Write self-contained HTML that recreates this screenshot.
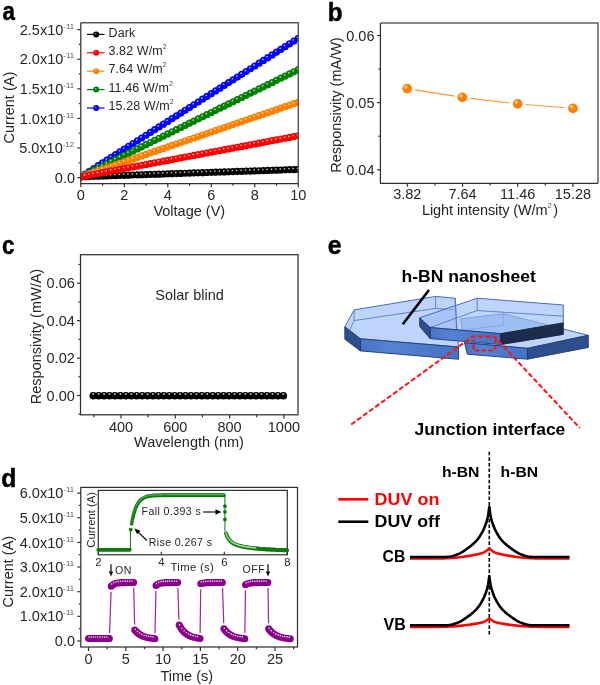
<!DOCTYPE html><html><head><meta charset="utf-8"><title>figure</title><style>html,body{margin:0;padding:0;background:#fff;overflow:hidden}svg{display:block;will-change:transform}text{font-family:"Liberation Sans",sans-serif}</style></head><body>
<svg width="600" height="685" viewBox="0 0 600 685">
<rect width="600" height="685" fill="#fff"/>
<defs><clipPath id="ca"><rect x="80.8" y="22.7" width="217.5" height="160.9"/></clipPath><linearGradient id="gf" x1="0" y1="0" x2="1" y2="0"><stop offset="0" stop-color="#4673c6"/><stop offset="0.3" stop-color="#5583d4"/><stop offset="0.6" stop-color="#4d7bcc"/><stop offset="1" stop-color="#4672c4"/></linearGradient></defs>
<text x="2.5" y="20" font-size="26" font-weight="bold" fill="#000" stroke="#000" stroke-width="0.5" transform="translate(2.5,0) scale(0.86,1) translate(-2.5,0)">a</text>
<text x="327.8" y="20.6" font-size="26" font-weight="bold" fill="#000" stroke="#000" stroke-width="0.5" transform="translate(327.8,0) scale(0.93,1) translate(-327.8,0)">b</text>
<text x="2" y="253.7" font-size="26" font-weight="bold" fill="#000" stroke="#000" stroke-width="0.5" transform="translate(2,0) scale(0.86,1) translate(-2,0)">c</text>
<text x="1.2" y="487" font-size="26" font-weight="bold" fill="#000" stroke="#000" stroke-width="0.5" transform="translate(1.2,0) scale(0.95,1) translate(-1.2,0)">d</text>
<text x="327.8" y="253.7" font-size="26" font-weight="bold" fill="#000" stroke="#000" stroke-width="0.5" transform="translate(327.8,0) scale(0.95,1) translate(-327.8,0)">e</text>
<g clip-path="url(#ca)">
<path d="M77.2 176.8a3.6 3.6 0 1 0 7.2 0a3.6 3.6 0 1 0 -7.2 0M81.55 176.65a3.6 3.6 0 1 0 7.2 0a3.6 3.6 0 1 0 -7.2 0M85.9 176.5a3.6 3.6 0 1 0 7.2 0a3.6 3.6 0 1 0 -7.2 0M90.25 176.36a3.6 3.6 0 1 0 7.2 0a3.6 3.6 0 1 0 -7.2 0M94.6 176.21a3.6 3.6 0 1 0 7.2 0a3.6 3.6 0 1 0 -7.2 0M98.95 176.06a3.6 3.6 0 1 0 7.2 0a3.6 3.6 0 1 0 -7.2 0M103.3 175.91a3.6 3.6 0 1 0 7.2 0a3.6 3.6 0 1 0 -7.2 0M107.65 175.76a3.6 3.6 0 1 0 7.2 0a3.6 3.6 0 1 0 -7.2 0M112 175.62a3.6 3.6 0 1 0 7.2 0a3.6 3.6 0 1 0 -7.2 0M116.35 175.47a3.6 3.6 0 1 0 7.2 0a3.6 3.6 0 1 0 -7.2 0M120.7 175.32a3.6 3.6 0 1 0 7.2 0a3.6 3.6 0 1 0 -7.2 0M125.05 175.17a3.6 3.6 0 1 0 7.2 0a3.6 3.6 0 1 0 -7.2 0M129.4 175.02a3.6 3.6 0 1 0 7.2 0a3.6 3.6 0 1 0 -7.2 0M133.75 174.88a3.6 3.6 0 1 0 7.2 0a3.6 3.6 0 1 0 -7.2 0M138.1 174.73a3.6 3.6 0 1 0 7.2 0a3.6 3.6 0 1 0 -7.2 0M142.45 174.58a3.6 3.6 0 1 0 7.2 0a3.6 3.6 0 1 0 -7.2 0M146.8 174.43a3.6 3.6 0 1 0 7.2 0a3.6 3.6 0 1 0 -7.2 0M151.15 174.28a3.6 3.6 0 1 0 7.2 0a3.6 3.6 0 1 0 -7.2 0M155.5 174.14a3.6 3.6 0 1 0 7.2 0a3.6 3.6 0 1 0 -7.2 0M159.85 173.99a3.6 3.6 0 1 0 7.2 0a3.6 3.6 0 1 0 -7.2 0M164.2 173.84a3.6 3.6 0 1 0 7.2 0a3.6 3.6 0 1 0 -7.2 0M168.55 173.69a3.6 3.6 0 1 0 7.2 0a3.6 3.6 0 1 0 -7.2 0M172.9 173.54a3.6 3.6 0 1 0 7.2 0a3.6 3.6 0 1 0 -7.2 0M177.25 173.4a3.6 3.6 0 1 0 7.2 0a3.6 3.6 0 1 0 -7.2 0M181.6 173.25a3.6 3.6 0 1 0 7.2 0a3.6 3.6 0 1 0 -7.2 0M185.95 173.1a3.6 3.6 0 1 0 7.2 0a3.6 3.6 0 1 0 -7.2 0M190.3 172.95a3.6 3.6 0 1 0 7.2 0a3.6 3.6 0 1 0 -7.2 0M194.65 172.8a3.6 3.6 0 1 0 7.2 0a3.6 3.6 0 1 0 -7.2 0M199 172.66a3.6 3.6 0 1 0 7.2 0a3.6 3.6 0 1 0 -7.2 0M203.35 172.51a3.6 3.6 0 1 0 7.2 0a3.6 3.6 0 1 0 -7.2 0M207.7 172.36a3.6 3.6 0 1 0 7.2 0a3.6 3.6 0 1 0 -7.2 0M212.05 172.21a3.6 3.6 0 1 0 7.2 0a3.6 3.6 0 1 0 -7.2 0M216.4 172.06a3.6 3.6 0 1 0 7.2 0a3.6 3.6 0 1 0 -7.2 0M220.75 171.92a3.6 3.6 0 1 0 7.2 0a3.6 3.6 0 1 0 -7.2 0M225.1 171.77a3.6 3.6 0 1 0 7.2 0a3.6 3.6 0 1 0 -7.2 0M229.45 171.62a3.6 3.6 0 1 0 7.2 0a3.6 3.6 0 1 0 -7.2 0M233.8 171.47a3.6 3.6 0 1 0 7.2 0a3.6 3.6 0 1 0 -7.2 0M238.15 171.32a3.6 3.6 0 1 0 7.2 0a3.6 3.6 0 1 0 -7.2 0M242.5 171.18a3.6 3.6 0 1 0 7.2 0a3.6 3.6 0 1 0 -7.2 0M246.85 171.03a3.6 3.6 0 1 0 7.2 0a3.6 3.6 0 1 0 -7.2 0M251.2 170.88a3.6 3.6 0 1 0 7.2 0a3.6 3.6 0 1 0 -7.2 0M255.55 170.73a3.6 3.6 0 1 0 7.2 0a3.6 3.6 0 1 0 -7.2 0M259.9 170.58a3.6 3.6 0 1 0 7.2 0a3.6 3.6 0 1 0 -7.2 0M264.25 170.44a3.6 3.6 0 1 0 7.2 0a3.6 3.6 0 1 0 -7.2 0M268.6 170.29a3.6 3.6 0 1 0 7.2 0a3.6 3.6 0 1 0 -7.2 0M272.95 170.14a3.6 3.6 0 1 0 7.2 0a3.6 3.6 0 1 0 -7.2 0M277.3 169.99a3.6 3.6 0 1 0 7.2 0a3.6 3.6 0 1 0 -7.2 0M281.65 169.84a3.6 3.6 0 1 0 7.2 0a3.6 3.6 0 1 0 -7.2 0M286 169.7a3.6 3.6 0 1 0 7.2 0a3.6 3.6 0 1 0 -7.2 0M290.35 169.55a3.6 3.6 0 1 0 7.2 0a3.6 3.6 0 1 0 -7.2 0M294.7 169.4a3.6 3.6 0 1 0 7.2 0a3.6 3.6 0 1 0 -7.2 0" fill="#000000"/>
<path d="M79.25 175.7a0.85 0.85 0 1 0 1.7 0a0.85 0.85 0 1 0 -1.7 0M83.6 175.55a0.85 0.85 0 1 0 1.7 0a0.85 0.85 0 1 0 -1.7 0M87.95 175.4a0.85 0.85 0 1 0 1.7 0a0.85 0.85 0 1 0 -1.7 0M92.3 175.26a0.85 0.85 0 1 0 1.7 0a0.85 0.85 0 1 0 -1.7 0M96.65 175.11a0.85 0.85 0 1 0 1.7 0a0.85 0.85 0 1 0 -1.7 0M101 174.96a0.85 0.85 0 1 0 1.7 0a0.85 0.85 0 1 0 -1.7 0M105.35 174.81a0.85 0.85 0 1 0 1.7 0a0.85 0.85 0 1 0 -1.7 0M109.7 174.66a0.85 0.85 0 1 0 1.7 0a0.85 0.85 0 1 0 -1.7 0M114.05 174.52a0.85 0.85 0 1 0 1.7 0a0.85 0.85 0 1 0 -1.7 0M118.4 174.37a0.85 0.85 0 1 0 1.7 0a0.85 0.85 0 1 0 -1.7 0M122.75 174.22a0.85 0.85 0 1 0 1.7 0a0.85 0.85 0 1 0 -1.7 0M127.1 174.07a0.85 0.85 0 1 0 1.7 0a0.85 0.85 0 1 0 -1.7 0M131.45 173.92a0.85 0.85 0 1 0 1.7 0a0.85 0.85 0 1 0 -1.7 0M135.8 173.78a0.85 0.85 0 1 0 1.7 0a0.85 0.85 0 1 0 -1.7 0M140.15 173.63a0.85 0.85 0 1 0 1.7 0a0.85 0.85 0 1 0 -1.7 0M144.5 173.48a0.85 0.85 0 1 0 1.7 0a0.85 0.85 0 1 0 -1.7 0M148.85 173.33a0.85 0.85 0 1 0 1.7 0a0.85 0.85 0 1 0 -1.7 0M153.2 173.18a0.85 0.85 0 1 0 1.7 0a0.85 0.85 0 1 0 -1.7 0M157.55 173.04a0.85 0.85 0 1 0 1.7 0a0.85 0.85 0 1 0 -1.7 0M161.9 172.89a0.85 0.85 0 1 0 1.7 0a0.85 0.85 0 1 0 -1.7 0M166.25 172.74a0.85 0.85 0 1 0 1.7 0a0.85 0.85 0 1 0 -1.7 0M170.6 172.59a0.85 0.85 0 1 0 1.7 0a0.85 0.85 0 1 0 -1.7 0M174.95 172.44a0.85 0.85 0 1 0 1.7 0a0.85 0.85 0 1 0 -1.7 0M179.3 172.3a0.85 0.85 0 1 0 1.7 0a0.85 0.85 0 1 0 -1.7 0M183.65 172.15a0.85 0.85 0 1 0 1.7 0a0.85 0.85 0 1 0 -1.7 0M188 172a0.85 0.85 0 1 0 1.7 0a0.85 0.85 0 1 0 -1.7 0M192.35 171.85a0.85 0.85 0 1 0 1.7 0a0.85 0.85 0 1 0 -1.7 0M196.7 171.7a0.85 0.85 0 1 0 1.7 0a0.85 0.85 0 1 0 -1.7 0M201.05 171.56a0.85 0.85 0 1 0 1.7 0a0.85 0.85 0 1 0 -1.7 0M205.4 171.41a0.85 0.85 0 1 0 1.7 0a0.85 0.85 0 1 0 -1.7 0M209.75 171.26a0.85 0.85 0 1 0 1.7 0a0.85 0.85 0 1 0 -1.7 0M214.1 171.11a0.85 0.85 0 1 0 1.7 0a0.85 0.85 0 1 0 -1.7 0M218.45 170.96a0.85 0.85 0 1 0 1.7 0a0.85 0.85 0 1 0 -1.7 0M222.8 170.82a0.85 0.85 0 1 0 1.7 0a0.85 0.85 0 1 0 -1.7 0M227.15 170.67a0.85 0.85 0 1 0 1.7 0a0.85 0.85 0 1 0 -1.7 0M231.5 170.52a0.85 0.85 0 1 0 1.7 0a0.85 0.85 0 1 0 -1.7 0M235.85 170.37a0.85 0.85 0 1 0 1.7 0a0.85 0.85 0 1 0 -1.7 0M240.2 170.22a0.85 0.85 0 1 0 1.7 0a0.85 0.85 0 1 0 -1.7 0M244.55 170.08a0.85 0.85 0 1 0 1.7 0a0.85 0.85 0 1 0 -1.7 0M248.9 169.93a0.85 0.85 0 1 0 1.7 0a0.85 0.85 0 1 0 -1.7 0M253.25 169.78a0.85 0.85 0 1 0 1.7 0a0.85 0.85 0 1 0 -1.7 0M257.6 169.63a0.85 0.85 0 1 0 1.7 0a0.85 0.85 0 1 0 -1.7 0M261.95 169.48a0.85 0.85 0 1 0 1.7 0a0.85 0.85 0 1 0 -1.7 0M266.3 169.34a0.85 0.85 0 1 0 1.7 0a0.85 0.85 0 1 0 -1.7 0M270.65 169.19a0.85 0.85 0 1 0 1.7 0a0.85 0.85 0 1 0 -1.7 0M275 169.04a0.85 0.85 0 1 0 1.7 0a0.85 0.85 0 1 0 -1.7 0M279.35 168.89a0.85 0.85 0 1 0 1.7 0a0.85 0.85 0 1 0 -1.7 0M283.7 168.74a0.85 0.85 0 1 0 1.7 0a0.85 0.85 0 1 0 -1.7 0M288.05 168.6a0.85 0.85 0 1 0 1.7 0a0.85 0.85 0 1 0 -1.7 0M292.4 168.45a0.85 0.85 0 1 0 1.7 0a0.85 0.85 0 1 0 -1.7 0M296.75 168.3a0.85 0.85 0 1 0 1.7 0a0.85 0.85 0 1 0 -1.7 0" fill="#ffffff" opacity="0.75"/>
<path d="M77.2 176.8a3.6 3.6 0 1 0 7.2 0a3.6 3.6 0 1 0 -7.2 0M81.55 174.03a3.6 3.6 0 1 0 7.2 0a3.6 3.6 0 1 0 -7.2 0M85.9 171.26a3.6 3.6 0 1 0 7.2 0a3.6 3.6 0 1 0 -7.2 0M90.25 168.49a3.6 3.6 0 1 0 7.2 0a3.6 3.6 0 1 0 -7.2 0M94.6 165.72a3.6 3.6 0 1 0 7.2 0a3.6 3.6 0 1 0 -7.2 0M98.95 162.95a3.6 3.6 0 1 0 7.2 0a3.6 3.6 0 1 0 -7.2 0M103.3 160.18a3.6 3.6 0 1 0 7.2 0a3.6 3.6 0 1 0 -7.2 0M107.65 157.41a3.6 3.6 0 1 0 7.2 0a3.6 3.6 0 1 0 -7.2 0M112 154.64a3.6 3.6 0 1 0 7.2 0a3.6 3.6 0 1 0 -7.2 0M116.35 151.86a3.6 3.6 0 1 0 7.2 0a3.6 3.6 0 1 0 -7.2 0M120.7 149.09a3.6 3.6 0 1 0 7.2 0a3.6 3.6 0 1 0 -7.2 0M125.05 146.32a3.6 3.6 0 1 0 7.2 0a3.6 3.6 0 1 0 -7.2 0M129.4 143.55a3.6 3.6 0 1 0 7.2 0a3.6 3.6 0 1 0 -7.2 0M133.75 140.78a3.6 3.6 0 1 0 7.2 0a3.6 3.6 0 1 0 -7.2 0M138.1 138.01a3.6 3.6 0 1 0 7.2 0a3.6 3.6 0 1 0 -7.2 0M142.45 135.24a3.6 3.6 0 1 0 7.2 0a3.6 3.6 0 1 0 -7.2 0M146.8 132.47a3.6 3.6 0 1 0 7.2 0a3.6 3.6 0 1 0 -7.2 0M151.15 129.7a3.6 3.6 0 1 0 7.2 0a3.6 3.6 0 1 0 -7.2 0M155.5 126.93a3.6 3.6 0 1 0 7.2 0a3.6 3.6 0 1 0 -7.2 0M159.85 124.16a3.6 3.6 0 1 0 7.2 0a3.6 3.6 0 1 0 -7.2 0M164.2 121.39a3.6 3.6 0 1 0 7.2 0a3.6 3.6 0 1 0 -7.2 0M168.55 118.62a3.6 3.6 0 1 0 7.2 0a3.6 3.6 0 1 0 -7.2 0M172.9 115.85a3.6 3.6 0 1 0 7.2 0a3.6 3.6 0 1 0 -7.2 0M177.25 113.08a3.6 3.6 0 1 0 7.2 0a3.6 3.6 0 1 0 -7.2 0M181.6 110.31a3.6 3.6 0 1 0 7.2 0a3.6 3.6 0 1 0 -7.2 0M185.95 107.54a3.6 3.6 0 1 0 7.2 0a3.6 3.6 0 1 0 -7.2 0M190.3 104.77a3.6 3.6 0 1 0 7.2 0a3.6 3.6 0 1 0 -7.2 0M194.65 101.99a3.6 3.6 0 1 0 7.2 0a3.6 3.6 0 1 0 -7.2 0M199 99.22a3.6 3.6 0 1 0 7.2 0a3.6 3.6 0 1 0 -7.2 0M203.35 96.45a3.6 3.6 0 1 0 7.2 0a3.6 3.6 0 1 0 -7.2 0M207.7 93.68a3.6 3.6 0 1 0 7.2 0a3.6 3.6 0 1 0 -7.2 0M212.05 90.91a3.6 3.6 0 1 0 7.2 0a3.6 3.6 0 1 0 -7.2 0M216.4 88.14a3.6 3.6 0 1 0 7.2 0a3.6 3.6 0 1 0 -7.2 0M220.75 85.37a3.6 3.6 0 1 0 7.2 0a3.6 3.6 0 1 0 -7.2 0M225.1 82.6a3.6 3.6 0 1 0 7.2 0a3.6 3.6 0 1 0 -7.2 0M229.45 79.83a3.6 3.6 0 1 0 7.2 0a3.6 3.6 0 1 0 -7.2 0M233.8 77.06a3.6 3.6 0 1 0 7.2 0a3.6 3.6 0 1 0 -7.2 0M238.15 74.29a3.6 3.6 0 1 0 7.2 0a3.6 3.6 0 1 0 -7.2 0M242.5 71.52a3.6 3.6 0 1 0 7.2 0a3.6 3.6 0 1 0 -7.2 0M246.85 68.75a3.6 3.6 0 1 0 7.2 0a3.6 3.6 0 1 0 -7.2 0M251.2 65.98a3.6 3.6 0 1 0 7.2 0a3.6 3.6 0 1 0 -7.2 0M255.55 63.21a3.6 3.6 0 1 0 7.2 0a3.6 3.6 0 1 0 -7.2 0M259.9 60.44a3.6 3.6 0 1 0 7.2 0a3.6 3.6 0 1 0 -7.2 0M264.25 57.67a3.6 3.6 0 1 0 7.2 0a3.6 3.6 0 1 0 -7.2 0M268.6 54.9a3.6 3.6 0 1 0 7.2 0a3.6 3.6 0 1 0 -7.2 0M272.95 52.12a3.6 3.6 0 1 0 7.2 0a3.6 3.6 0 1 0 -7.2 0M277.3 49.35a3.6 3.6 0 1 0 7.2 0a3.6 3.6 0 1 0 -7.2 0M281.65 46.58a3.6 3.6 0 1 0 7.2 0a3.6 3.6 0 1 0 -7.2 0M286 43.81a3.6 3.6 0 1 0 7.2 0a3.6 3.6 0 1 0 -7.2 0M290.35 41.04a3.6 3.6 0 1 0 7.2 0a3.6 3.6 0 1 0 -7.2 0M294.7 38.27a3.6 3.6 0 1 0 7.2 0a3.6 3.6 0 1 0 -7.2 0" fill="#0000ff"/>
<path d="M79.25 175.7a0.85 0.85 0 1 0 1.7 0a0.85 0.85 0 1 0 -1.7 0M83.6 172.93a0.85 0.85 0 1 0 1.7 0a0.85 0.85 0 1 0 -1.7 0M87.95 170.16a0.85 0.85 0 1 0 1.7 0a0.85 0.85 0 1 0 -1.7 0M92.3 167.39a0.85 0.85 0 1 0 1.7 0a0.85 0.85 0 1 0 -1.7 0M96.65 164.62a0.85 0.85 0 1 0 1.7 0a0.85 0.85 0 1 0 -1.7 0M101 161.85a0.85 0.85 0 1 0 1.7 0a0.85 0.85 0 1 0 -1.7 0M105.35 159.08a0.85 0.85 0 1 0 1.7 0a0.85 0.85 0 1 0 -1.7 0M109.7 156.31a0.85 0.85 0 1 0 1.7 0a0.85 0.85 0 1 0 -1.7 0M114.05 153.54a0.85 0.85 0 1 0 1.7 0a0.85 0.85 0 1 0 -1.7 0M118.4 150.76a0.85 0.85 0 1 0 1.7 0a0.85 0.85 0 1 0 -1.7 0M122.75 147.99a0.85 0.85 0 1 0 1.7 0a0.85 0.85 0 1 0 -1.7 0M127.1 145.22a0.85 0.85 0 1 0 1.7 0a0.85 0.85 0 1 0 -1.7 0M131.45 142.45a0.85 0.85 0 1 0 1.7 0a0.85 0.85 0 1 0 -1.7 0M135.8 139.68a0.85 0.85 0 1 0 1.7 0a0.85 0.85 0 1 0 -1.7 0M140.15 136.91a0.85 0.85 0 1 0 1.7 0a0.85 0.85 0 1 0 -1.7 0M144.5 134.14a0.85 0.85 0 1 0 1.7 0a0.85 0.85 0 1 0 -1.7 0M148.85 131.37a0.85 0.85 0 1 0 1.7 0a0.85 0.85 0 1 0 -1.7 0M153.2 128.6a0.85 0.85 0 1 0 1.7 0a0.85 0.85 0 1 0 -1.7 0M157.55 125.83a0.85 0.85 0 1 0 1.7 0a0.85 0.85 0 1 0 -1.7 0M161.9 123.06a0.85 0.85 0 1 0 1.7 0a0.85 0.85 0 1 0 -1.7 0M166.25 120.29a0.85 0.85 0 1 0 1.7 0a0.85 0.85 0 1 0 -1.7 0M170.6 117.52a0.85 0.85 0 1 0 1.7 0a0.85 0.85 0 1 0 -1.7 0M174.95 114.75a0.85 0.85 0 1 0 1.7 0a0.85 0.85 0 1 0 -1.7 0M179.3 111.98a0.85 0.85 0 1 0 1.7 0a0.85 0.85 0 1 0 -1.7 0M183.65 109.21a0.85 0.85 0 1 0 1.7 0a0.85 0.85 0 1 0 -1.7 0M188 106.44a0.85 0.85 0 1 0 1.7 0a0.85 0.85 0 1 0 -1.7 0M192.35 103.67a0.85 0.85 0 1 0 1.7 0a0.85 0.85 0 1 0 -1.7 0M196.7 100.89a0.85 0.85 0 1 0 1.7 0a0.85 0.85 0 1 0 -1.7 0M201.05 98.12a0.85 0.85 0 1 0 1.7 0a0.85 0.85 0 1 0 -1.7 0M205.4 95.35a0.85 0.85 0 1 0 1.7 0a0.85 0.85 0 1 0 -1.7 0M209.75 92.58a0.85 0.85 0 1 0 1.7 0a0.85 0.85 0 1 0 -1.7 0M214.1 89.81a0.85 0.85 0 1 0 1.7 0a0.85 0.85 0 1 0 -1.7 0M218.45 87.04a0.85 0.85 0 1 0 1.7 0a0.85 0.85 0 1 0 -1.7 0M222.8 84.27a0.85 0.85 0 1 0 1.7 0a0.85 0.85 0 1 0 -1.7 0M227.15 81.5a0.85 0.85 0 1 0 1.7 0a0.85 0.85 0 1 0 -1.7 0M231.5 78.73a0.85 0.85 0 1 0 1.7 0a0.85 0.85 0 1 0 -1.7 0M235.85 75.96a0.85 0.85 0 1 0 1.7 0a0.85 0.85 0 1 0 -1.7 0M240.2 73.19a0.85 0.85 0 1 0 1.7 0a0.85 0.85 0 1 0 -1.7 0M244.55 70.42a0.85 0.85 0 1 0 1.7 0a0.85 0.85 0 1 0 -1.7 0M248.9 67.65a0.85 0.85 0 1 0 1.7 0a0.85 0.85 0 1 0 -1.7 0M253.25 64.88a0.85 0.85 0 1 0 1.7 0a0.85 0.85 0 1 0 -1.7 0M257.6 62.11a0.85 0.85 0 1 0 1.7 0a0.85 0.85 0 1 0 -1.7 0M261.95 59.34a0.85 0.85 0 1 0 1.7 0a0.85 0.85 0 1 0 -1.7 0M266.3 56.57a0.85 0.85 0 1 0 1.7 0a0.85 0.85 0 1 0 -1.7 0M270.65 53.8a0.85 0.85 0 1 0 1.7 0a0.85 0.85 0 1 0 -1.7 0M275 51.02a0.85 0.85 0 1 0 1.7 0a0.85 0.85 0 1 0 -1.7 0M279.35 48.25a0.85 0.85 0 1 0 1.7 0a0.85 0.85 0 1 0 -1.7 0M283.7 45.48a0.85 0.85 0 1 0 1.7 0a0.85 0.85 0 1 0 -1.7 0M288.05 42.71a0.85 0.85 0 1 0 1.7 0a0.85 0.85 0 1 0 -1.7 0M292.4 39.94a0.85 0.85 0 1 0 1.7 0a0.85 0.85 0 1 0 -1.7 0M296.75 37.17a0.85 0.85 0 1 0 1.7 0a0.85 0.85 0 1 0 -1.7 0" fill="#ffffff" opacity="0.75"/>
<path d="M77.2 176.8a3.6 3.6 0 1 0 7.2 0a3.6 3.6 0 1 0 -7.2 0M81.55 174.66a3.6 3.6 0 1 0 7.2 0a3.6 3.6 0 1 0 -7.2 0M85.9 172.51a3.6 3.6 0 1 0 7.2 0a3.6 3.6 0 1 0 -7.2 0M90.25 170.37a3.6 3.6 0 1 0 7.2 0a3.6 3.6 0 1 0 -7.2 0M94.6 168.23a3.6 3.6 0 1 0 7.2 0a3.6 3.6 0 1 0 -7.2 0M98.95 166.08a3.6 3.6 0 1 0 7.2 0a3.6 3.6 0 1 0 -7.2 0M103.3 163.94a3.6 3.6 0 1 0 7.2 0a3.6 3.6 0 1 0 -7.2 0M107.65 161.8a3.6 3.6 0 1 0 7.2 0a3.6 3.6 0 1 0 -7.2 0M112 159.66a3.6 3.6 0 1 0 7.2 0a3.6 3.6 0 1 0 -7.2 0M116.35 157.51a3.6 3.6 0 1 0 7.2 0a3.6 3.6 0 1 0 -7.2 0M120.7 155.37a3.6 3.6 0 1 0 7.2 0a3.6 3.6 0 1 0 -7.2 0M125.05 153.23a3.6 3.6 0 1 0 7.2 0a3.6 3.6 0 1 0 -7.2 0M129.4 151.08a3.6 3.6 0 1 0 7.2 0a3.6 3.6 0 1 0 -7.2 0M133.75 148.94a3.6 3.6 0 1 0 7.2 0a3.6 3.6 0 1 0 -7.2 0M138.1 146.8a3.6 3.6 0 1 0 7.2 0a3.6 3.6 0 1 0 -7.2 0M142.45 144.65a3.6 3.6 0 1 0 7.2 0a3.6 3.6 0 1 0 -7.2 0M146.8 142.51a3.6 3.6 0 1 0 7.2 0a3.6 3.6 0 1 0 -7.2 0M151.15 140.37a3.6 3.6 0 1 0 7.2 0a3.6 3.6 0 1 0 -7.2 0M155.5 138.23a3.6 3.6 0 1 0 7.2 0a3.6 3.6 0 1 0 -7.2 0M159.85 136.08a3.6 3.6 0 1 0 7.2 0a3.6 3.6 0 1 0 -7.2 0M164.2 133.94a3.6 3.6 0 1 0 7.2 0a3.6 3.6 0 1 0 -7.2 0M168.55 131.8a3.6 3.6 0 1 0 7.2 0a3.6 3.6 0 1 0 -7.2 0M172.9 129.65a3.6 3.6 0 1 0 7.2 0a3.6 3.6 0 1 0 -7.2 0M177.25 127.51a3.6 3.6 0 1 0 7.2 0a3.6 3.6 0 1 0 -7.2 0M181.6 125.37a3.6 3.6 0 1 0 7.2 0a3.6 3.6 0 1 0 -7.2 0M185.95 123.22a3.6 3.6 0 1 0 7.2 0a3.6 3.6 0 1 0 -7.2 0M190.3 121.08a3.6 3.6 0 1 0 7.2 0a3.6 3.6 0 1 0 -7.2 0M194.65 118.94a3.6 3.6 0 1 0 7.2 0a3.6 3.6 0 1 0 -7.2 0M199 116.79a3.6 3.6 0 1 0 7.2 0a3.6 3.6 0 1 0 -7.2 0M203.35 114.65a3.6 3.6 0 1 0 7.2 0a3.6 3.6 0 1 0 -7.2 0M207.7 112.51a3.6 3.6 0 1 0 7.2 0a3.6 3.6 0 1 0 -7.2 0M212.05 110.37a3.6 3.6 0 1 0 7.2 0a3.6 3.6 0 1 0 -7.2 0M216.4 108.22a3.6 3.6 0 1 0 7.2 0a3.6 3.6 0 1 0 -7.2 0M220.75 106.08a3.6 3.6 0 1 0 7.2 0a3.6 3.6 0 1 0 -7.2 0M225.1 103.94a3.6 3.6 0 1 0 7.2 0a3.6 3.6 0 1 0 -7.2 0M229.45 101.79a3.6 3.6 0 1 0 7.2 0a3.6 3.6 0 1 0 -7.2 0M233.8 99.65a3.6 3.6 0 1 0 7.2 0a3.6 3.6 0 1 0 -7.2 0M238.15 97.51a3.6 3.6 0 1 0 7.2 0a3.6 3.6 0 1 0 -7.2 0M242.5 95.36a3.6 3.6 0 1 0 7.2 0a3.6 3.6 0 1 0 -7.2 0M246.85 93.22a3.6 3.6 0 1 0 7.2 0a3.6 3.6 0 1 0 -7.2 0M251.2 91.08a3.6 3.6 0 1 0 7.2 0a3.6 3.6 0 1 0 -7.2 0M255.55 88.94a3.6 3.6 0 1 0 7.2 0a3.6 3.6 0 1 0 -7.2 0M259.9 86.79a3.6 3.6 0 1 0 7.2 0a3.6 3.6 0 1 0 -7.2 0M264.25 84.65a3.6 3.6 0 1 0 7.2 0a3.6 3.6 0 1 0 -7.2 0M268.6 82.51a3.6 3.6 0 1 0 7.2 0a3.6 3.6 0 1 0 -7.2 0M272.95 80.36a3.6 3.6 0 1 0 7.2 0a3.6 3.6 0 1 0 -7.2 0M277.3 78.22a3.6 3.6 0 1 0 7.2 0a3.6 3.6 0 1 0 -7.2 0M281.65 76.08a3.6 3.6 0 1 0 7.2 0a3.6 3.6 0 1 0 -7.2 0M286 73.93a3.6 3.6 0 1 0 7.2 0a3.6 3.6 0 1 0 -7.2 0M290.35 71.79a3.6 3.6 0 1 0 7.2 0a3.6 3.6 0 1 0 -7.2 0M294.7 69.65a3.6 3.6 0 1 0 7.2 0a3.6 3.6 0 1 0 -7.2 0" fill="#008000"/>
<path d="M79.25 175.7a0.85 0.85 0 1 0 1.7 0a0.85 0.85 0 1 0 -1.7 0M83.6 173.56a0.85 0.85 0 1 0 1.7 0a0.85 0.85 0 1 0 -1.7 0M87.95 171.41a0.85 0.85 0 1 0 1.7 0a0.85 0.85 0 1 0 -1.7 0M92.3 169.27a0.85 0.85 0 1 0 1.7 0a0.85 0.85 0 1 0 -1.7 0M96.65 167.13a0.85 0.85 0 1 0 1.7 0a0.85 0.85 0 1 0 -1.7 0M101 164.98a0.85 0.85 0 1 0 1.7 0a0.85 0.85 0 1 0 -1.7 0M105.35 162.84a0.85 0.85 0 1 0 1.7 0a0.85 0.85 0 1 0 -1.7 0M109.7 160.7a0.85 0.85 0 1 0 1.7 0a0.85 0.85 0 1 0 -1.7 0M114.05 158.56a0.85 0.85 0 1 0 1.7 0a0.85 0.85 0 1 0 -1.7 0M118.4 156.41a0.85 0.85 0 1 0 1.7 0a0.85 0.85 0 1 0 -1.7 0M122.75 154.27a0.85 0.85 0 1 0 1.7 0a0.85 0.85 0 1 0 -1.7 0M127.1 152.13a0.85 0.85 0 1 0 1.7 0a0.85 0.85 0 1 0 -1.7 0M131.45 149.98a0.85 0.85 0 1 0 1.7 0a0.85 0.85 0 1 0 -1.7 0M135.8 147.84a0.85 0.85 0 1 0 1.7 0a0.85 0.85 0 1 0 -1.7 0M140.15 145.7a0.85 0.85 0 1 0 1.7 0a0.85 0.85 0 1 0 -1.7 0M144.5 143.55a0.85 0.85 0 1 0 1.7 0a0.85 0.85 0 1 0 -1.7 0M148.85 141.41a0.85 0.85 0 1 0 1.7 0a0.85 0.85 0 1 0 -1.7 0M153.2 139.27a0.85 0.85 0 1 0 1.7 0a0.85 0.85 0 1 0 -1.7 0M157.55 137.13a0.85 0.85 0 1 0 1.7 0a0.85 0.85 0 1 0 -1.7 0M161.9 134.98a0.85 0.85 0 1 0 1.7 0a0.85 0.85 0 1 0 -1.7 0M166.25 132.84a0.85 0.85 0 1 0 1.7 0a0.85 0.85 0 1 0 -1.7 0M170.6 130.7a0.85 0.85 0 1 0 1.7 0a0.85 0.85 0 1 0 -1.7 0M174.95 128.55a0.85 0.85 0 1 0 1.7 0a0.85 0.85 0 1 0 -1.7 0M179.3 126.41a0.85 0.85 0 1 0 1.7 0a0.85 0.85 0 1 0 -1.7 0M183.65 124.27a0.85 0.85 0 1 0 1.7 0a0.85 0.85 0 1 0 -1.7 0M188 122.12a0.85 0.85 0 1 0 1.7 0a0.85 0.85 0 1 0 -1.7 0M192.35 119.98a0.85 0.85 0 1 0 1.7 0a0.85 0.85 0 1 0 -1.7 0M196.7 117.84a0.85 0.85 0 1 0 1.7 0a0.85 0.85 0 1 0 -1.7 0M201.05 115.69a0.85 0.85 0 1 0 1.7 0a0.85 0.85 0 1 0 -1.7 0M205.4 113.55a0.85 0.85 0 1 0 1.7 0a0.85 0.85 0 1 0 -1.7 0M209.75 111.41a0.85 0.85 0 1 0 1.7 0a0.85 0.85 0 1 0 -1.7 0M214.1 109.27a0.85 0.85 0 1 0 1.7 0a0.85 0.85 0 1 0 -1.7 0M218.45 107.12a0.85 0.85 0 1 0 1.7 0a0.85 0.85 0 1 0 -1.7 0M222.8 104.98a0.85 0.85 0 1 0 1.7 0a0.85 0.85 0 1 0 -1.7 0M227.15 102.84a0.85 0.85 0 1 0 1.7 0a0.85 0.85 0 1 0 -1.7 0M231.5 100.69a0.85 0.85 0 1 0 1.7 0a0.85 0.85 0 1 0 -1.7 0M235.85 98.55a0.85 0.85 0 1 0 1.7 0a0.85 0.85 0 1 0 -1.7 0M240.2 96.41a0.85 0.85 0 1 0 1.7 0a0.85 0.85 0 1 0 -1.7 0M244.55 94.26a0.85 0.85 0 1 0 1.7 0a0.85 0.85 0 1 0 -1.7 0M248.9 92.12a0.85 0.85 0 1 0 1.7 0a0.85 0.85 0 1 0 -1.7 0M253.25 89.98a0.85 0.85 0 1 0 1.7 0a0.85 0.85 0 1 0 -1.7 0M257.6 87.84a0.85 0.85 0 1 0 1.7 0a0.85 0.85 0 1 0 -1.7 0M261.95 85.69a0.85 0.85 0 1 0 1.7 0a0.85 0.85 0 1 0 -1.7 0M266.3 83.55a0.85 0.85 0 1 0 1.7 0a0.85 0.85 0 1 0 -1.7 0M270.65 81.41a0.85 0.85 0 1 0 1.7 0a0.85 0.85 0 1 0 -1.7 0M275 79.26a0.85 0.85 0 1 0 1.7 0a0.85 0.85 0 1 0 -1.7 0M279.35 77.12a0.85 0.85 0 1 0 1.7 0a0.85 0.85 0 1 0 -1.7 0M283.7 74.98a0.85 0.85 0 1 0 1.7 0a0.85 0.85 0 1 0 -1.7 0M288.05 72.83a0.85 0.85 0 1 0 1.7 0a0.85 0.85 0 1 0 -1.7 0M292.4 70.69a0.85 0.85 0 1 0 1.7 0a0.85 0.85 0 1 0 -1.7 0M296.75 68.55a0.85 0.85 0 1 0 1.7 0a0.85 0.85 0 1 0 -1.7 0" fill="#ffffff" opacity="0.75"/>
<path d="M77.2 176.8a3.6 3.6 0 1 0 7.2 0a3.6 3.6 0 1 0 -7.2 0M81.55 175.31a3.6 3.6 0 1 0 7.2 0a3.6 3.6 0 1 0 -7.2 0M85.9 173.82a3.6 3.6 0 1 0 7.2 0a3.6 3.6 0 1 0 -7.2 0M90.25 172.32a3.6 3.6 0 1 0 7.2 0a3.6 3.6 0 1 0 -7.2 0M94.6 170.83a3.6 3.6 0 1 0 7.2 0a3.6 3.6 0 1 0 -7.2 0M98.95 169.34a3.6 3.6 0 1 0 7.2 0a3.6 3.6 0 1 0 -7.2 0M103.3 167.85a3.6 3.6 0 1 0 7.2 0a3.6 3.6 0 1 0 -7.2 0M107.65 166.36a3.6 3.6 0 1 0 7.2 0a3.6 3.6 0 1 0 -7.2 0M112 164.87a3.6 3.6 0 1 0 7.2 0a3.6 3.6 0 1 0 -7.2 0M116.35 163.37a3.6 3.6 0 1 0 7.2 0a3.6 3.6 0 1 0 -7.2 0M120.7 161.88a3.6 3.6 0 1 0 7.2 0a3.6 3.6 0 1 0 -7.2 0M125.05 160.39a3.6 3.6 0 1 0 7.2 0a3.6 3.6 0 1 0 -7.2 0M129.4 158.9a3.6 3.6 0 1 0 7.2 0a3.6 3.6 0 1 0 -7.2 0M133.75 157.41a3.6 3.6 0 1 0 7.2 0a3.6 3.6 0 1 0 -7.2 0M138.1 155.91a3.6 3.6 0 1 0 7.2 0a3.6 3.6 0 1 0 -7.2 0M142.45 154.42a3.6 3.6 0 1 0 7.2 0a3.6 3.6 0 1 0 -7.2 0M146.8 152.93a3.6 3.6 0 1 0 7.2 0a3.6 3.6 0 1 0 -7.2 0M151.15 151.44a3.6 3.6 0 1 0 7.2 0a3.6 3.6 0 1 0 -7.2 0M155.5 149.95a3.6 3.6 0 1 0 7.2 0a3.6 3.6 0 1 0 -7.2 0M159.85 148.46a3.6 3.6 0 1 0 7.2 0a3.6 3.6 0 1 0 -7.2 0M164.2 146.96a3.6 3.6 0 1 0 7.2 0a3.6 3.6 0 1 0 -7.2 0M168.55 145.47a3.6 3.6 0 1 0 7.2 0a3.6 3.6 0 1 0 -7.2 0M172.9 143.98a3.6 3.6 0 1 0 7.2 0a3.6 3.6 0 1 0 -7.2 0M177.25 142.49a3.6 3.6 0 1 0 7.2 0a3.6 3.6 0 1 0 -7.2 0M181.6 141a3.6 3.6 0 1 0 7.2 0a3.6 3.6 0 1 0 -7.2 0M185.95 139.5a3.6 3.6 0 1 0 7.2 0a3.6 3.6 0 1 0 -7.2 0M190.3 138.01a3.6 3.6 0 1 0 7.2 0a3.6 3.6 0 1 0 -7.2 0M194.65 136.52a3.6 3.6 0 1 0 7.2 0a3.6 3.6 0 1 0 -7.2 0M199 135.03a3.6 3.6 0 1 0 7.2 0a3.6 3.6 0 1 0 -7.2 0M203.35 133.54a3.6 3.6 0 1 0 7.2 0a3.6 3.6 0 1 0 -7.2 0M207.7 132.04a3.6 3.6 0 1 0 7.2 0a3.6 3.6 0 1 0 -7.2 0M212.05 130.55a3.6 3.6 0 1 0 7.2 0a3.6 3.6 0 1 0 -7.2 0M216.4 129.06a3.6 3.6 0 1 0 7.2 0a3.6 3.6 0 1 0 -7.2 0M220.75 127.57a3.6 3.6 0 1 0 7.2 0a3.6 3.6 0 1 0 -7.2 0M225.1 126.08a3.6 3.6 0 1 0 7.2 0a3.6 3.6 0 1 0 -7.2 0M229.45 124.59a3.6 3.6 0 1 0 7.2 0a3.6 3.6 0 1 0 -7.2 0M233.8 123.09a3.6 3.6 0 1 0 7.2 0a3.6 3.6 0 1 0 -7.2 0M238.15 121.6a3.6 3.6 0 1 0 7.2 0a3.6 3.6 0 1 0 -7.2 0M242.5 120.11a3.6 3.6 0 1 0 7.2 0a3.6 3.6 0 1 0 -7.2 0M246.85 118.62a3.6 3.6 0 1 0 7.2 0a3.6 3.6 0 1 0 -7.2 0M251.2 117.13a3.6 3.6 0 1 0 7.2 0a3.6 3.6 0 1 0 -7.2 0M255.55 115.63a3.6 3.6 0 1 0 7.2 0a3.6 3.6 0 1 0 -7.2 0M259.9 114.14a3.6 3.6 0 1 0 7.2 0a3.6 3.6 0 1 0 -7.2 0M264.25 112.65a3.6 3.6 0 1 0 7.2 0a3.6 3.6 0 1 0 -7.2 0M268.6 111.16a3.6 3.6 0 1 0 7.2 0a3.6 3.6 0 1 0 -7.2 0M272.95 109.67a3.6 3.6 0 1 0 7.2 0a3.6 3.6 0 1 0 -7.2 0M277.3 108.18a3.6 3.6 0 1 0 7.2 0a3.6 3.6 0 1 0 -7.2 0M281.65 106.68a3.6 3.6 0 1 0 7.2 0a3.6 3.6 0 1 0 -7.2 0M286 105.19a3.6 3.6 0 1 0 7.2 0a3.6 3.6 0 1 0 -7.2 0M290.35 103.7a3.6 3.6 0 1 0 7.2 0a3.6 3.6 0 1 0 -7.2 0M294.7 102.21a3.6 3.6 0 1 0 7.2 0a3.6 3.6 0 1 0 -7.2 0" fill="#ff8000"/>
<path d="M79.25 175.7a0.85 0.85 0 1 0 1.7 0a0.85 0.85 0 1 0 -1.7 0M83.6 174.21a0.85 0.85 0 1 0 1.7 0a0.85 0.85 0 1 0 -1.7 0M87.95 172.72a0.85 0.85 0 1 0 1.7 0a0.85 0.85 0 1 0 -1.7 0M92.3 171.22a0.85 0.85 0 1 0 1.7 0a0.85 0.85 0 1 0 -1.7 0M96.65 169.73a0.85 0.85 0 1 0 1.7 0a0.85 0.85 0 1 0 -1.7 0M101 168.24a0.85 0.85 0 1 0 1.7 0a0.85 0.85 0 1 0 -1.7 0M105.35 166.75a0.85 0.85 0 1 0 1.7 0a0.85 0.85 0 1 0 -1.7 0M109.7 165.26a0.85 0.85 0 1 0 1.7 0a0.85 0.85 0 1 0 -1.7 0M114.05 163.77a0.85 0.85 0 1 0 1.7 0a0.85 0.85 0 1 0 -1.7 0M118.4 162.27a0.85 0.85 0 1 0 1.7 0a0.85 0.85 0 1 0 -1.7 0M122.75 160.78a0.85 0.85 0 1 0 1.7 0a0.85 0.85 0 1 0 -1.7 0M127.1 159.29a0.85 0.85 0 1 0 1.7 0a0.85 0.85 0 1 0 -1.7 0M131.45 157.8a0.85 0.85 0 1 0 1.7 0a0.85 0.85 0 1 0 -1.7 0M135.8 156.31a0.85 0.85 0 1 0 1.7 0a0.85 0.85 0 1 0 -1.7 0M140.15 154.81a0.85 0.85 0 1 0 1.7 0a0.85 0.85 0 1 0 -1.7 0M144.5 153.32a0.85 0.85 0 1 0 1.7 0a0.85 0.85 0 1 0 -1.7 0M148.85 151.83a0.85 0.85 0 1 0 1.7 0a0.85 0.85 0 1 0 -1.7 0M153.2 150.34a0.85 0.85 0 1 0 1.7 0a0.85 0.85 0 1 0 -1.7 0M157.55 148.85a0.85 0.85 0 1 0 1.7 0a0.85 0.85 0 1 0 -1.7 0M161.9 147.36a0.85 0.85 0 1 0 1.7 0a0.85 0.85 0 1 0 -1.7 0M166.25 145.86a0.85 0.85 0 1 0 1.7 0a0.85 0.85 0 1 0 -1.7 0M170.6 144.37a0.85 0.85 0 1 0 1.7 0a0.85 0.85 0 1 0 -1.7 0M174.95 142.88a0.85 0.85 0 1 0 1.7 0a0.85 0.85 0 1 0 -1.7 0M179.3 141.39a0.85 0.85 0 1 0 1.7 0a0.85 0.85 0 1 0 -1.7 0M183.65 139.9a0.85 0.85 0 1 0 1.7 0a0.85 0.85 0 1 0 -1.7 0M188 138.4a0.85 0.85 0 1 0 1.7 0a0.85 0.85 0 1 0 -1.7 0M192.35 136.91a0.85 0.85 0 1 0 1.7 0a0.85 0.85 0 1 0 -1.7 0M196.7 135.42a0.85 0.85 0 1 0 1.7 0a0.85 0.85 0 1 0 -1.7 0M201.05 133.93a0.85 0.85 0 1 0 1.7 0a0.85 0.85 0 1 0 -1.7 0M205.4 132.44a0.85 0.85 0 1 0 1.7 0a0.85 0.85 0 1 0 -1.7 0M209.75 130.94a0.85 0.85 0 1 0 1.7 0a0.85 0.85 0 1 0 -1.7 0M214.1 129.45a0.85 0.85 0 1 0 1.7 0a0.85 0.85 0 1 0 -1.7 0M218.45 127.96a0.85 0.85 0 1 0 1.7 0a0.85 0.85 0 1 0 -1.7 0M222.8 126.47a0.85 0.85 0 1 0 1.7 0a0.85 0.85 0 1 0 -1.7 0M227.15 124.98a0.85 0.85 0 1 0 1.7 0a0.85 0.85 0 1 0 -1.7 0M231.5 123.49a0.85 0.85 0 1 0 1.7 0a0.85 0.85 0 1 0 -1.7 0M235.85 121.99a0.85 0.85 0 1 0 1.7 0a0.85 0.85 0 1 0 -1.7 0M240.2 120.5a0.85 0.85 0 1 0 1.7 0a0.85 0.85 0 1 0 -1.7 0M244.55 119.01a0.85 0.85 0 1 0 1.7 0a0.85 0.85 0 1 0 -1.7 0M248.9 117.52a0.85 0.85 0 1 0 1.7 0a0.85 0.85 0 1 0 -1.7 0M253.25 116.03a0.85 0.85 0 1 0 1.7 0a0.85 0.85 0 1 0 -1.7 0M257.6 114.53a0.85 0.85 0 1 0 1.7 0a0.85 0.85 0 1 0 -1.7 0M261.95 113.04a0.85 0.85 0 1 0 1.7 0a0.85 0.85 0 1 0 -1.7 0M266.3 111.55a0.85 0.85 0 1 0 1.7 0a0.85 0.85 0 1 0 -1.7 0M270.65 110.06a0.85 0.85 0 1 0 1.7 0a0.85 0.85 0 1 0 -1.7 0M275 108.57a0.85 0.85 0 1 0 1.7 0a0.85 0.85 0 1 0 -1.7 0M279.35 107.08a0.85 0.85 0 1 0 1.7 0a0.85 0.85 0 1 0 -1.7 0M283.7 105.58a0.85 0.85 0 1 0 1.7 0a0.85 0.85 0 1 0 -1.7 0M288.05 104.09a0.85 0.85 0 1 0 1.7 0a0.85 0.85 0 1 0 -1.7 0M292.4 102.6a0.85 0.85 0 1 0 1.7 0a0.85 0.85 0 1 0 -1.7 0M296.75 101.11a0.85 0.85 0 1 0 1.7 0a0.85 0.85 0 1 0 -1.7 0" fill="#ffffff" opacity="0.75"/>
<path d="M77.2 176.8a3.6 3.6 0 1 0 7.2 0a3.6 3.6 0 1 0 -7.2 0M81.55 175.98a3.6 3.6 0 1 0 7.2 0a3.6 3.6 0 1 0 -7.2 0M85.9 175.16a3.6 3.6 0 1 0 7.2 0a3.6 3.6 0 1 0 -7.2 0M90.25 174.34a3.6 3.6 0 1 0 7.2 0a3.6 3.6 0 1 0 -7.2 0M94.6 173.52a3.6 3.6 0 1 0 7.2 0a3.6 3.6 0 1 0 -7.2 0M98.95 172.7a3.6 3.6 0 1 0 7.2 0a3.6 3.6 0 1 0 -7.2 0M103.3 171.88a3.6 3.6 0 1 0 7.2 0a3.6 3.6 0 1 0 -7.2 0M107.65 171.06a3.6 3.6 0 1 0 7.2 0a3.6 3.6 0 1 0 -7.2 0M112 170.24a3.6 3.6 0 1 0 7.2 0a3.6 3.6 0 1 0 -7.2 0M116.35 169.42a3.6 3.6 0 1 0 7.2 0a3.6 3.6 0 1 0 -7.2 0M120.7 168.59a3.6 3.6 0 1 0 7.2 0a3.6 3.6 0 1 0 -7.2 0M125.05 167.77a3.6 3.6 0 1 0 7.2 0a3.6 3.6 0 1 0 -7.2 0M129.4 166.95a3.6 3.6 0 1 0 7.2 0a3.6 3.6 0 1 0 -7.2 0M133.75 166.13a3.6 3.6 0 1 0 7.2 0a3.6 3.6 0 1 0 -7.2 0M138.1 165.31a3.6 3.6 0 1 0 7.2 0a3.6 3.6 0 1 0 -7.2 0M142.45 164.49a3.6 3.6 0 1 0 7.2 0a3.6 3.6 0 1 0 -7.2 0M146.8 163.67a3.6 3.6 0 1 0 7.2 0a3.6 3.6 0 1 0 -7.2 0M151.15 162.85a3.6 3.6 0 1 0 7.2 0a3.6 3.6 0 1 0 -7.2 0M155.5 162.03a3.6 3.6 0 1 0 7.2 0a3.6 3.6 0 1 0 -7.2 0M159.85 161.21a3.6 3.6 0 1 0 7.2 0a3.6 3.6 0 1 0 -7.2 0M164.2 160.39a3.6 3.6 0 1 0 7.2 0a3.6 3.6 0 1 0 -7.2 0M168.55 159.57a3.6 3.6 0 1 0 7.2 0a3.6 3.6 0 1 0 -7.2 0M172.9 158.75a3.6 3.6 0 1 0 7.2 0a3.6 3.6 0 1 0 -7.2 0M177.25 157.93a3.6 3.6 0 1 0 7.2 0a3.6 3.6 0 1 0 -7.2 0M181.6 157.11a3.6 3.6 0 1 0 7.2 0a3.6 3.6 0 1 0 -7.2 0M185.95 156.29a3.6 3.6 0 1 0 7.2 0a3.6 3.6 0 1 0 -7.2 0M190.3 155.47a3.6 3.6 0 1 0 7.2 0a3.6 3.6 0 1 0 -7.2 0M194.65 154.65a3.6 3.6 0 1 0 7.2 0a3.6 3.6 0 1 0 -7.2 0M199 153.83a3.6 3.6 0 1 0 7.2 0a3.6 3.6 0 1 0 -7.2 0M203.35 153.01a3.6 3.6 0 1 0 7.2 0a3.6 3.6 0 1 0 -7.2 0M207.7 152.18a3.6 3.6 0 1 0 7.2 0a3.6 3.6 0 1 0 -7.2 0M212.05 151.36a3.6 3.6 0 1 0 7.2 0a3.6 3.6 0 1 0 -7.2 0M216.4 150.54a3.6 3.6 0 1 0 7.2 0a3.6 3.6 0 1 0 -7.2 0M220.75 149.72a3.6 3.6 0 1 0 7.2 0a3.6 3.6 0 1 0 -7.2 0M225.1 148.9a3.6 3.6 0 1 0 7.2 0a3.6 3.6 0 1 0 -7.2 0M229.45 148.08a3.6 3.6 0 1 0 7.2 0a3.6 3.6 0 1 0 -7.2 0M233.8 147.26a3.6 3.6 0 1 0 7.2 0a3.6 3.6 0 1 0 -7.2 0M238.15 146.44a3.6 3.6 0 1 0 7.2 0a3.6 3.6 0 1 0 -7.2 0M242.5 145.62a3.6 3.6 0 1 0 7.2 0a3.6 3.6 0 1 0 -7.2 0M246.85 144.8a3.6 3.6 0 1 0 7.2 0a3.6 3.6 0 1 0 -7.2 0M251.2 143.98a3.6 3.6 0 1 0 7.2 0a3.6 3.6 0 1 0 -7.2 0M255.55 143.16a3.6 3.6 0 1 0 7.2 0a3.6 3.6 0 1 0 -7.2 0M259.9 142.34a3.6 3.6 0 1 0 7.2 0a3.6 3.6 0 1 0 -7.2 0M264.25 141.52a3.6 3.6 0 1 0 7.2 0a3.6 3.6 0 1 0 -7.2 0M268.6 140.7a3.6 3.6 0 1 0 7.2 0a3.6 3.6 0 1 0 -7.2 0M272.95 139.88a3.6 3.6 0 1 0 7.2 0a3.6 3.6 0 1 0 -7.2 0M277.3 139.06a3.6 3.6 0 1 0 7.2 0a3.6 3.6 0 1 0 -7.2 0M281.65 138.24a3.6 3.6 0 1 0 7.2 0a3.6 3.6 0 1 0 -7.2 0M286 137.42a3.6 3.6 0 1 0 7.2 0a3.6 3.6 0 1 0 -7.2 0M290.35 136.59a3.6 3.6 0 1 0 7.2 0a3.6 3.6 0 1 0 -7.2 0M294.7 135.77a3.6 3.6 0 1 0 7.2 0a3.6 3.6 0 1 0 -7.2 0" fill="#ff0000"/>
<path d="M79.25 175.7a0.85 0.85 0 1 0 1.7 0a0.85 0.85 0 1 0 -1.7 0M83.6 174.88a0.85 0.85 0 1 0 1.7 0a0.85 0.85 0 1 0 -1.7 0M87.95 174.06a0.85 0.85 0 1 0 1.7 0a0.85 0.85 0 1 0 -1.7 0M92.3 173.24a0.85 0.85 0 1 0 1.7 0a0.85 0.85 0 1 0 -1.7 0M96.65 172.42a0.85 0.85 0 1 0 1.7 0a0.85 0.85 0 1 0 -1.7 0M101 171.6a0.85 0.85 0 1 0 1.7 0a0.85 0.85 0 1 0 -1.7 0M105.35 170.78a0.85 0.85 0 1 0 1.7 0a0.85 0.85 0 1 0 -1.7 0M109.7 169.96a0.85 0.85 0 1 0 1.7 0a0.85 0.85 0 1 0 -1.7 0M114.05 169.14a0.85 0.85 0 1 0 1.7 0a0.85 0.85 0 1 0 -1.7 0M118.4 168.32a0.85 0.85 0 1 0 1.7 0a0.85 0.85 0 1 0 -1.7 0M122.75 167.49a0.85 0.85 0 1 0 1.7 0a0.85 0.85 0 1 0 -1.7 0M127.1 166.67a0.85 0.85 0 1 0 1.7 0a0.85 0.85 0 1 0 -1.7 0M131.45 165.85a0.85 0.85 0 1 0 1.7 0a0.85 0.85 0 1 0 -1.7 0M135.8 165.03a0.85 0.85 0 1 0 1.7 0a0.85 0.85 0 1 0 -1.7 0M140.15 164.21a0.85 0.85 0 1 0 1.7 0a0.85 0.85 0 1 0 -1.7 0M144.5 163.39a0.85 0.85 0 1 0 1.7 0a0.85 0.85 0 1 0 -1.7 0M148.85 162.57a0.85 0.85 0 1 0 1.7 0a0.85 0.85 0 1 0 -1.7 0M153.2 161.75a0.85 0.85 0 1 0 1.7 0a0.85 0.85 0 1 0 -1.7 0M157.55 160.93a0.85 0.85 0 1 0 1.7 0a0.85 0.85 0 1 0 -1.7 0M161.9 160.11a0.85 0.85 0 1 0 1.7 0a0.85 0.85 0 1 0 -1.7 0M166.25 159.29a0.85 0.85 0 1 0 1.7 0a0.85 0.85 0 1 0 -1.7 0M170.6 158.47a0.85 0.85 0 1 0 1.7 0a0.85 0.85 0 1 0 -1.7 0M174.95 157.65a0.85 0.85 0 1 0 1.7 0a0.85 0.85 0 1 0 -1.7 0M179.3 156.83a0.85 0.85 0 1 0 1.7 0a0.85 0.85 0 1 0 -1.7 0M183.65 156.01a0.85 0.85 0 1 0 1.7 0a0.85 0.85 0 1 0 -1.7 0M188 155.19a0.85 0.85 0 1 0 1.7 0a0.85 0.85 0 1 0 -1.7 0M192.35 154.37a0.85 0.85 0 1 0 1.7 0a0.85 0.85 0 1 0 -1.7 0M196.7 153.55a0.85 0.85 0 1 0 1.7 0a0.85 0.85 0 1 0 -1.7 0M201.05 152.73a0.85 0.85 0 1 0 1.7 0a0.85 0.85 0 1 0 -1.7 0M205.4 151.91a0.85 0.85 0 1 0 1.7 0a0.85 0.85 0 1 0 -1.7 0M209.75 151.08a0.85 0.85 0 1 0 1.7 0a0.85 0.85 0 1 0 -1.7 0M214.1 150.26a0.85 0.85 0 1 0 1.7 0a0.85 0.85 0 1 0 -1.7 0M218.45 149.44a0.85 0.85 0 1 0 1.7 0a0.85 0.85 0 1 0 -1.7 0M222.8 148.62a0.85 0.85 0 1 0 1.7 0a0.85 0.85 0 1 0 -1.7 0M227.15 147.8a0.85 0.85 0 1 0 1.7 0a0.85 0.85 0 1 0 -1.7 0M231.5 146.98a0.85 0.85 0 1 0 1.7 0a0.85 0.85 0 1 0 -1.7 0M235.85 146.16a0.85 0.85 0 1 0 1.7 0a0.85 0.85 0 1 0 -1.7 0M240.2 145.34a0.85 0.85 0 1 0 1.7 0a0.85 0.85 0 1 0 -1.7 0M244.55 144.52a0.85 0.85 0 1 0 1.7 0a0.85 0.85 0 1 0 -1.7 0M248.9 143.7a0.85 0.85 0 1 0 1.7 0a0.85 0.85 0 1 0 -1.7 0M253.25 142.88a0.85 0.85 0 1 0 1.7 0a0.85 0.85 0 1 0 -1.7 0M257.6 142.06a0.85 0.85 0 1 0 1.7 0a0.85 0.85 0 1 0 -1.7 0M261.95 141.24a0.85 0.85 0 1 0 1.7 0a0.85 0.85 0 1 0 -1.7 0M266.3 140.42a0.85 0.85 0 1 0 1.7 0a0.85 0.85 0 1 0 -1.7 0M270.65 139.6a0.85 0.85 0 1 0 1.7 0a0.85 0.85 0 1 0 -1.7 0M275 138.78a0.85 0.85 0 1 0 1.7 0a0.85 0.85 0 1 0 -1.7 0M279.35 137.96a0.85 0.85 0 1 0 1.7 0a0.85 0.85 0 1 0 -1.7 0M283.7 137.14a0.85 0.85 0 1 0 1.7 0a0.85 0.85 0 1 0 -1.7 0M288.05 136.32a0.85 0.85 0 1 0 1.7 0a0.85 0.85 0 1 0 -1.7 0M292.4 135.49a0.85 0.85 0 1 0 1.7 0a0.85 0.85 0 1 0 -1.7 0M296.75 134.67a0.85 0.85 0 1 0 1.7 0a0.85 0.85 0 1 0 -1.7 0" fill="#ffffff" opacity="0.75"/>
</g>
<path d="M80.8 22.8H298.3V183.6" fill="none" stroke="#585858" stroke-width="1.45" stroke-linejoin="round"/>
<path d="M80.8 22.8V183.6H298.3" fill="none" stroke="#303030" stroke-width="1.25" stroke-linejoin="round"/>
<line x1="77.3" y1="177.6" x2="80.8" y2="177.6" stroke="#303030" stroke-width="1.2" />
<line x1="78.8" y1="162.8" x2="80.8" y2="162.8" stroke="#303030" stroke-width="1.2" />
<line x1="77.3" y1="148" x2="80.8" y2="148" stroke="#303030" stroke-width="1.2" />
<line x1="78.8" y1="133.2" x2="80.8" y2="133.2" stroke="#303030" stroke-width="1.2" />
<line x1="77.3" y1="118.4" x2="80.8" y2="118.4" stroke="#303030" stroke-width="1.2" />
<line x1="78.8" y1="103.6" x2="80.8" y2="103.6" stroke="#303030" stroke-width="1.2" />
<line x1="77.3" y1="88.8" x2="80.8" y2="88.8" stroke="#303030" stroke-width="1.2" />
<line x1="78.8" y1="74" x2="80.8" y2="74" stroke="#303030" stroke-width="1.2" />
<line x1="77.3" y1="59.2" x2="80.8" y2="59.2" stroke="#303030" stroke-width="1.2" />
<line x1="78.8" y1="44.4" x2="80.8" y2="44.4" stroke="#303030" stroke-width="1.2" />
<line x1="77.3" y1="29.6" x2="80.8" y2="29.6" stroke="#303030" stroke-width="1.2" />
<text x="75" y="182.7" font-size="14.5" text-anchor="end" fill="#262626" font-weight="normal" >0.0</text>
<text x="74" y="153.1" font-size="14.5" text-anchor="end" fill="#262626">5.0x10<tspan font-size="7.8" dy="-6" fill="#555">-12</tspan></text>
<text x="74" y="123.5" font-size="14.5" text-anchor="end" fill="#262626">1.0x10<tspan font-size="7.8" dy="-6" fill="#555">-11</tspan></text>
<text x="74" y="93.9" font-size="14.5" text-anchor="end" fill="#262626">1.5x10<tspan font-size="7.8" dy="-6" fill="#555">-11</tspan></text>
<text x="74" y="64.3" font-size="14.5" text-anchor="end" fill="#262626">2.0x10<tspan font-size="7.8" dy="-6" fill="#555">-11</tspan></text>
<text x="74" y="34.7" font-size="14.5" text-anchor="end" fill="#262626">2.5x10<tspan font-size="7.8" dy="-6" fill="#555">-11</tspan></text>
<line x1="80.8" y1="183.6" x2="80.8" y2="187.2" stroke="#303030" stroke-width="1.2" />
<text x="80.8" y="200" font-size="14.5" text-anchor="middle" fill="#262626" font-weight="normal" >0</text>
<line x1="102.55" y1="183.6" x2="102.55" y2="185.8" stroke="#303030" stroke-width="1.2" />
<line x1="124.3" y1="183.6" x2="124.3" y2="187.2" stroke="#303030" stroke-width="1.2" />
<text x="124.3" y="200" font-size="14.5" text-anchor="middle" fill="#262626" font-weight="normal" >2</text>
<line x1="146.05" y1="183.6" x2="146.05" y2="185.8" stroke="#303030" stroke-width="1.2" />
<line x1="167.8" y1="183.6" x2="167.8" y2="187.2" stroke="#303030" stroke-width="1.2" />
<text x="167.8" y="200" font-size="14.5" text-anchor="middle" fill="#262626" font-weight="normal" >4</text>
<line x1="189.55" y1="183.6" x2="189.55" y2="185.8" stroke="#303030" stroke-width="1.2" />
<line x1="211.3" y1="183.6" x2="211.3" y2="187.2" stroke="#303030" stroke-width="1.2" />
<text x="211.3" y="200" font-size="14.5" text-anchor="middle" fill="#262626" font-weight="normal" >6</text>
<line x1="233.05" y1="183.6" x2="233.05" y2="185.8" stroke="#303030" stroke-width="1.2" />
<line x1="254.8" y1="183.6" x2="254.8" y2="187.2" stroke="#303030" stroke-width="1.2" />
<text x="254.8" y="200" font-size="14.5" text-anchor="middle" fill="#262626" font-weight="normal" >8</text>
<line x1="276.55" y1="183.6" x2="276.55" y2="185.8" stroke="#303030" stroke-width="1.2" />
<line x1="298.3" y1="183.6" x2="298.3" y2="187.2" stroke="#303030" stroke-width="1.2" />
<text x="298.3" y="200" font-size="14.5" text-anchor="middle" fill="#262626" font-weight="normal" >10</text>
<text x="189.3" y="215.9" font-size="14.5" text-anchor="middle" fill="#262626" font-weight="normal" >Voltage (V)</text>
<text transform="translate(13.6,107.6) rotate(-90)" x="0" y="0" font-size="14.5" text-anchor="middle" fill="#262626" >Current (A)</text>
<line x1="87" y1="34.4" x2="104.5" y2="34.4" stroke="#000000" stroke-width="1.2" />
<path d="M93.2 34.4a3 3 0 1 0 6 0a3 3 0 1 0 -6 0" fill="#000000"/>
<path d="M94.9 33.6a0.8 0.8 0 1 0 1.6 0a0.8 0.8 0 1 0 -1.6 0" fill="#fff" opacity="0.5"/>
<text x="108.5" y="36.5" font-size="12.5" text-anchor="start" fill="#262626" font-weight="normal" letter-spacing="0.1">Dark</text>
<line x1="87" y1="52.8" x2="104.5" y2="52.8" stroke="#ff0000" stroke-width="1.2" />
<path d="M93.2 52.8a3 3 0 1 0 6 0a3 3 0 1 0 -6 0" fill="#ff0000"/>
<path d="M94.9 52a0.8 0.8 0 1 0 1.6 0a0.8 0.8 0 1 0 -1.6 0" fill="#fff" opacity="0.5"/>
<text x="108.5" y="54.9" font-size="12.5" fill="#262626" letter-spacing="0.1">3.82 W/m<tspan font-size="7" dy="-6" fill="#444">2</tspan></text>
<line x1="87" y1="71.2" x2="104.5" y2="71.2" stroke="#ff8000" stroke-width="1.2" />
<path d="M93.2 71.2a3 3 0 1 0 6 0a3 3 0 1 0 -6 0" fill="#ff8000"/>
<path d="M94.9 70.4a0.8 0.8 0 1 0 1.6 0a0.8 0.8 0 1 0 -1.6 0" fill="#fff" opacity="0.5"/>
<text x="108.5" y="73.3" font-size="12.5" fill="#262626" letter-spacing="0.1">7.64 W/m<tspan font-size="7" dy="-6" fill="#444">2</tspan></text>
<line x1="87" y1="89.6" x2="104.5" y2="89.6" stroke="#008000" stroke-width="1.2" />
<path d="M93.2 89.6a3 3 0 1 0 6 0a3 3 0 1 0 -6 0" fill="#008000"/>
<path d="M94.9 88.8a0.8 0.8 0 1 0 1.6 0a0.8 0.8 0 1 0 -1.6 0" fill="#fff" opacity="0.5"/>
<text x="108.5" y="91.7" font-size="12.5" fill="#262626" letter-spacing="0.1">11.46 W/m<tspan font-size="7" dy="-6" fill="#444">2</tspan></text>
<line x1="87" y1="108" x2="104.5" y2="108" stroke="#0000ff" stroke-width="1.2" />
<path d="M93.2 108a3 3 0 1 0 6 0a3 3 0 1 0 -6 0" fill="#0000ff"/>
<path d="M94.9 107.2a0.8 0.8 0 1 0 1.6 0a0.8 0.8 0 1 0 -1.6 0" fill="#fff" opacity="0.5"/>
<text x="108.5" y="110.1" font-size="12.5" fill="#262626" letter-spacing="0.1">15.28 W/m<tspan font-size="7" dy="-6" fill="#444">2</tspan></text>
<path d="M380.4 23H598V183.3" fill="none" stroke="#606060" stroke-width="1.5" stroke-linejoin="round"/>
<path d="M380.4 23V183.3H598" fill="none" stroke="#303030" stroke-width="1.25" stroke-linejoin="round"/>
<line x1="377" y1="35.5" x2="380.4" y2="35.5" stroke="#303030" stroke-width="1.2" />
<text x="374.5" y="40.6" font-size="14.5" text-anchor="end" fill="#262626" font-weight="normal" >0.06</text>
<line x1="377" y1="102.6" x2="380.4" y2="102.6" stroke="#303030" stroke-width="1.2" />
<text x="374.5" y="107.7" font-size="14.5" text-anchor="end" fill="#262626" font-weight="normal" >0.05</text>
<line x1="377" y1="169.8" x2="380.4" y2="169.8" stroke="#303030" stroke-width="1.2" />
<text x="374.5" y="174.9" font-size="14.5" text-anchor="end" fill="#262626" font-weight="normal" >0.04</text>
<line x1="378.4" y1="69.05" x2="380.4" y2="69.05" stroke="#303030" stroke-width="1.2" />
<line x1="378.4" y1="136.2" x2="380.4" y2="136.2" stroke="#303030" stroke-width="1.2" />
<line x1="407.3" y1="183.3" x2="407.3" y2="186.8" stroke="#303030" stroke-width="1.2" />
<text x="407.3" y="199.2" font-size="14.5" text-anchor="middle" fill="#262626" font-weight="normal" >3.82</text>
<line x1="462.5" y1="183.3" x2="462.5" y2="186.8" stroke="#303030" stroke-width="1.2" />
<text x="462.5" y="199.2" font-size="14.5" text-anchor="middle" fill="#262626" font-weight="normal" >7.64</text>
<line x1="517.7" y1="183.3" x2="517.7" y2="186.8" stroke="#303030" stroke-width="1.2" />
<text x="517.7" y="199.2" font-size="14.5" text-anchor="middle" fill="#262626" font-weight="normal" >11.46</text>
<line x1="572.9" y1="183.3" x2="572.9" y2="186.8" stroke="#303030" stroke-width="1.2" />
<text x="572.9" y="199.2" font-size="14.5" text-anchor="middle" fill="#262626" font-weight="normal" >15.28</text>
<line x1="434.9" y1="183.3" x2="434.9" y2="185.5" stroke="#303030" stroke-width="1.2" />
<line x1="490.1" y1="183.3" x2="490.1" y2="185.5" stroke="#303030" stroke-width="1.2" />
<line x1="545.3" y1="183.3" x2="545.3" y2="185.5" stroke="#303030" stroke-width="1.2" />
<text x="422" y="214.8" font-size="14.5" fill="#262626" letter-spacing="-0.09">Light intensity (W/m<tspan font-size="7.8" dy="-6.5" fill="#555">2</tspan><tspan dy="6.5" dx="1.6">)</tspan></text>
<text transform="translate(340.8,105) rotate(-90)" x="0" y="0" font-size="14.5" text-anchor="middle" fill="#262626" >Responsivity (mA/W)</text>
<line x1="415.1" y1="89.86" x2="454.5" y2="96.14" stroke="#ff9633" stroke-width="1.15" />
<line x1="470.35" y1="98.33" x2="509.75" y2="102.97" stroke="#ff9633" stroke-width="1.15" />
<line x1="525.67" y1="104.55" x2="565.03" y2="107.75" stroke="#ff9633" stroke-width="1.15" />
<path d="M402.3 88.6a4.9 4.9 0 1 0 9.8 0a4.9 4.9 0 1 0 -9.8 0M457.5 97.4a4.9 4.9 0 1 0 9.8 0a4.9 4.9 0 1 0 -9.8 0M512.8 103.9a4.9 4.9 0 1 0 9.8 0a4.9 4.9 0 1 0 -9.8 0M568.1 108.4a4.9 4.9 0 1 0 9.8 0a4.9 4.9 0 1 0 -9.8 0" fill="#ff7f00"/>
<path d="M404.1 87a1.7 1.7 0 1 0 3.4 0a1.7 1.7 0 1 0 -3.4 0M459.3 95.8a1.7 1.7 0 1 0 3.4 0a1.7 1.7 0 1 0 -3.4 0M514.6 102.3a1.7 1.7 0 1 0 3.4 0a1.7 1.7 0 1 0 -3.4 0M569.9 106.8a1.7 1.7 0 1 0 3.4 0a1.7 1.7 0 1 0 -3.4 0" fill="#ffd0a0" opacity="0.9"/>
<rect x="80.5" y="254.7" width="217.5" height="160.1" fill="none" stroke="#303030" stroke-width="1.25"/>
<line x1="77" y1="395.5" x2="80.5" y2="395.5" stroke="#303030" stroke-width="1.2" />
<text x="74.8" y="400.6" font-size="14.5" text-anchor="end" fill="#262626" font-weight="normal" >0.00</text>
<line x1="77" y1="358.07" x2="80.5" y2="358.07" stroke="#303030" stroke-width="1.2" />
<text x="74.8" y="363.17" font-size="14.5" text-anchor="end" fill="#262626" font-weight="normal" >0.02</text>
<line x1="77" y1="320.64" x2="80.5" y2="320.64" stroke="#303030" stroke-width="1.2" />
<text x="74.8" y="325.74" font-size="14.5" text-anchor="end" fill="#262626" font-weight="normal" >0.04</text>
<line x1="77" y1="283.21" x2="80.5" y2="283.21" stroke="#303030" stroke-width="1.2" />
<text x="74.8" y="288.31" font-size="14.5" text-anchor="end" fill="#262626" font-weight="normal" >0.06</text>
<line x1="78.5" y1="414.21" x2="80.5" y2="414.21" stroke="#303030" stroke-width="1.2" />
<line x1="78.5" y1="376.79" x2="80.5" y2="376.79" stroke="#303030" stroke-width="1.2" />
<line x1="78.5" y1="339.36" x2="80.5" y2="339.36" stroke="#303030" stroke-width="1.2" />
<line x1="78.5" y1="301.93" x2="80.5" y2="301.93" stroke="#303030" stroke-width="1.2" />
<line x1="78.5" y1="264.5" x2="80.5" y2="264.5" stroke="#303030" stroke-width="1.2" />
<line x1="93.85" y1="414.8" x2="93.85" y2="417.2" stroke="#303030" stroke-width="1.2" />
<line x1="121" y1="414.8" x2="121" y2="418.5" stroke="#303030" stroke-width="1.2" />
<text x="121" y="431.6" font-size="14.5" text-anchor="middle" fill="#262626" font-weight="normal" >400</text>
<line x1="148.15" y1="414.8" x2="148.15" y2="417.2" stroke="#303030" stroke-width="1.2" />
<line x1="175.3" y1="414.8" x2="175.3" y2="418.5" stroke="#303030" stroke-width="1.2" />
<text x="175.3" y="431.6" font-size="14.5" text-anchor="middle" fill="#262626" font-weight="normal" >600</text>
<line x1="202.45" y1="414.8" x2="202.45" y2="417.2" stroke="#303030" stroke-width="1.2" />
<line x1="229.6" y1="414.8" x2="229.6" y2="418.5" stroke="#303030" stroke-width="1.2" />
<text x="229.6" y="431.6" font-size="14.5" text-anchor="middle" fill="#262626" font-weight="normal" >800</text>
<line x1="256.75" y1="414.8" x2="256.75" y2="417.2" stroke="#303030" stroke-width="1.2" />
<line x1="283.9" y1="414.8" x2="283.9" y2="418.5" stroke="#303030" stroke-width="1.2" />
<text x="283.9" y="431.6" font-size="14.5" text-anchor="middle" fill="#262626" font-weight="normal" >1000</text>
<text x="189" y="447.2" font-size="14.5" text-anchor="middle" fill="#262626" font-weight="normal" >Wavelength (nm)</text>
<text x="155.3" y="300" font-size="14.5" text-anchor="start" fill="#262626" font-weight="normal" >Solar blind</text>
<text transform="translate(41,336.5) rotate(-90)" x="0" y="0" font-size="14.5" text-anchor="middle" fill="#262626" >Responsivity (mW/A)</text>
<path d="M89.45 395.8a3.8 3.8 0 1 0 7.6 0a3.8 3.8 0 1 0 -7.6 0M94.88 395.8a3.8 3.8 0 1 0 7.6 0a3.8 3.8 0 1 0 -7.6 0M100.31 395.8a3.8 3.8 0 1 0 7.6 0a3.8 3.8 0 1 0 -7.6 0M105.74 395.8a3.8 3.8 0 1 0 7.6 0a3.8 3.8 0 1 0 -7.6 0M111.17 395.8a3.8 3.8 0 1 0 7.6 0a3.8 3.8 0 1 0 -7.6 0M116.6 395.8a3.8 3.8 0 1 0 7.6 0a3.8 3.8 0 1 0 -7.6 0M122.03 395.8a3.8 3.8 0 1 0 7.6 0a3.8 3.8 0 1 0 -7.6 0M127.46 395.8a3.8 3.8 0 1 0 7.6 0a3.8 3.8 0 1 0 -7.6 0M132.89 395.8a3.8 3.8 0 1 0 7.6 0a3.8 3.8 0 1 0 -7.6 0M138.32 395.8a3.8 3.8 0 1 0 7.6 0a3.8 3.8 0 1 0 -7.6 0M143.75 395.8a3.8 3.8 0 1 0 7.6 0a3.8 3.8 0 1 0 -7.6 0M149.18 395.8a3.8 3.8 0 1 0 7.6 0a3.8 3.8 0 1 0 -7.6 0M154.61 395.8a3.8 3.8 0 1 0 7.6 0a3.8 3.8 0 1 0 -7.6 0M160.04 395.8a3.8 3.8 0 1 0 7.6 0a3.8 3.8 0 1 0 -7.6 0M165.47 395.8a3.8 3.8 0 1 0 7.6 0a3.8 3.8 0 1 0 -7.6 0M170.9 395.8a3.8 3.8 0 1 0 7.6 0a3.8 3.8 0 1 0 -7.6 0M176.33 395.8a3.8 3.8 0 1 0 7.6 0a3.8 3.8 0 1 0 -7.6 0M181.76 395.8a3.8 3.8 0 1 0 7.6 0a3.8 3.8 0 1 0 -7.6 0M187.19 395.8a3.8 3.8 0 1 0 7.6 0a3.8 3.8 0 1 0 -7.6 0M192.62 395.8a3.8 3.8 0 1 0 7.6 0a3.8 3.8 0 1 0 -7.6 0M198.05 395.8a3.8 3.8 0 1 0 7.6 0a3.8 3.8 0 1 0 -7.6 0M203.48 395.8a3.8 3.8 0 1 0 7.6 0a3.8 3.8 0 1 0 -7.6 0M208.91 395.8a3.8 3.8 0 1 0 7.6 0a3.8 3.8 0 1 0 -7.6 0M214.34 395.8a3.8 3.8 0 1 0 7.6 0a3.8 3.8 0 1 0 -7.6 0M219.77 395.8a3.8 3.8 0 1 0 7.6 0a3.8 3.8 0 1 0 -7.6 0M225.2 395.8a3.8 3.8 0 1 0 7.6 0a3.8 3.8 0 1 0 -7.6 0M230.63 395.8a3.8 3.8 0 1 0 7.6 0a3.8 3.8 0 1 0 -7.6 0M236.06 395.8a3.8 3.8 0 1 0 7.6 0a3.8 3.8 0 1 0 -7.6 0M241.49 395.8a3.8 3.8 0 1 0 7.6 0a3.8 3.8 0 1 0 -7.6 0M246.92 395.8a3.8 3.8 0 1 0 7.6 0a3.8 3.8 0 1 0 -7.6 0M252.35 395.8a3.8 3.8 0 1 0 7.6 0a3.8 3.8 0 1 0 -7.6 0M257.78 395.8a3.8 3.8 0 1 0 7.6 0a3.8 3.8 0 1 0 -7.6 0M263.21 395.8a3.8 3.8 0 1 0 7.6 0a3.8 3.8 0 1 0 -7.6 0M268.64 395.8a3.8 3.8 0 1 0 7.6 0a3.8 3.8 0 1 0 -7.6 0M274.07 395.8a3.8 3.8 0 1 0 7.6 0a3.8 3.8 0 1 0 -7.6 0M279.5 395.8a3.8 3.8 0 1 0 7.6 0a3.8 3.8 0 1 0 -7.6 0" fill="#000"/>
<path d="M92.25 394.1a1 1 0 1 0 2 0a1 1 0 1 0 -2 0M97.68 394.1a1 1 0 1 0 2 0a1 1 0 1 0 -2 0M103.11 394.1a1 1 0 1 0 2 0a1 1 0 1 0 -2 0M108.54 394.1a1 1 0 1 0 2 0a1 1 0 1 0 -2 0M113.97 394.1a1 1 0 1 0 2 0a1 1 0 1 0 -2 0M119.4 394.1a1 1 0 1 0 2 0a1 1 0 1 0 -2 0M124.83 394.1a1 1 0 1 0 2 0a1 1 0 1 0 -2 0M130.26 394.1a1 1 0 1 0 2 0a1 1 0 1 0 -2 0M135.69 394.1a1 1 0 1 0 2 0a1 1 0 1 0 -2 0M141.12 394.1a1 1 0 1 0 2 0a1 1 0 1 0 -2 0M146.55 394.1a1 1 0 1 0 2 0a1 1 0 1 0 -2 0M151.98 394.1a1 1 0 1 0 2 0a1 1 0 1 0 -2 0M157.41 394.1a1 1 0 1 0 2 0a1 1 0 1 0 -2 0M162.84 394.1a1 1 0 1 0 2 0a1 1 0 1 0 -2 0M168.27 394.1a1 1 0 1 0 2 0a1 1 0 1 0 -2 0M173.7 394.1a1 1 0 1 0 2 0a1 1 0 1 0 -2 0M179.13 394.1a1 1 0 1 0 2 0a1 1 0 1 0 -2 0M184.56 394.1a1 1 0 1 0 2 0a1 1 0 1 0 -2 0M189.99 394.1a1 1 0 1 0 2 0a1 1 0 1 0 -2 0M195.42 394.1a1 1 0 1 0 2 0a1 1 0 1 0 -2 0M200.85 394.1a1 1 0 1 0 2 0a1 1 0 1 0 -2 0M206.28 394.1a1 1 0 1 0 2 0a1 1 0 1 0 -2 0M211.71 394.1a1 1 0 1 0 2 0a1 1 0 1 0 -2 0M217.14 394.1a1 1 0 1 0 2 0a1 1 0 1 0 -2 0M222.57 394.1a1 1 0 1 0 2 0a1 1 0 1 0 -2 0M228 394.1a1 1 0 1 0 2 0a1 1 0 1 0 -2 0M233.43 394.1a1 1 0 1 0 2 0a1 1 0 1 0 -2 0M238.86 394.1a1 1 0 1 0 2 0a1 1 0 1 0 -2 0M244.29 394.1a1 1 0 1 0 2 0a1 1 0 1 0 -2 0M249.72 394.1a1 1 0 1 0 2 0a1 1 0 1 0 -2 0M255.15 394.1a1 1 0 1 0 2 0a1 1 0 1 0 -2 0M260.58 394.1a1 1 0 1 0 2 0a1 1 0 1 0 -2 0M266.01 394.1a1 1 0 1 0 2 0a1 1 0 1 0 -2 0M271.44 394.1a1 1 0 1 0 2 0a1 1 0 1 0 -2 0M276.87 394.1a1 1 0 1 0 2 0a1 1 0 1 0 -2 0M282.3 394.1a1 1 0 1 0 2 0a1 1 0 1 0 -2 0" fill="#ffffff" opacity="0.75"/>
<rect x="80.8" y="487.4" width="216.7" height="159.6" fill="none" stroke="#303030" stroke-width="1.25"/>
<line x1="77.3" y1="641" x2="80.8" y2="641" stroke="#303030" stroke-width="1.2" />
<text x="75" y="646.1" font-size="14.5" text-anchor="end" fill="#262626" font-weight="normal" >0.0</text>
<line x1="78.8" y1="628.67" x2="80.8" y2="628.67" stroke="#303030" stroke-width="1.2" />
<line x1="77.3" y1="616.35" x2="80.8" y2="616.35" stroke="#303030" stroke-width="1.2" />
<text x="74" y="621.45" font-size="14.5" text-anchor="end" fill="#262626">1.0x10<tspan font-size="7.8" dy="-6" fill="#555">-11</tspan></text>
<line x1="78.8" y1="604.02" x2="80.8" y2="604.02" stroke="#303030" stroke-width="1.2" />
<line x1="77.3" y1="591.7" x2="80.8" y2="591.7" stroke="#303030" stroke-width="1.2" />
<text x="74" y="596.8" font-size="14.5" text-anchor="end" fill="#262626">2.0x10<tspan font-size="7.8" dy="-6" fill="#555">-11</tspan></text>
<line x1="78.8" y1="579.38" x2="80.8" y2="579.38" stroke="#303030" stroke-width="1.2" />
<line x1="77.3" y1="567.05" x2="80.8" y2="567.05" stroke="#303030" stroke-width="1.2" />
<text x="74" y="572.15" font-size="14.5" text-anchor="end" fill="#262626">3.0x10<tspan font-size="7.8" dy="-6" fill="#555">-11</tspan></text>
<line x1="78.8" y1="554.72" x2="80.8" y2="554.72" stroke="#303030" stroke-width="1.2" />
<line x1="77.3" y1="542.4" x2="80.8" y2="542.4" stroke="#303030" stroke-width="1.2" />
<text x="74" y="547.5" font-size="14.5" text-anchor="end" fill="#262626">4.0x10<tspan font-size="7.8" dy="-6" fill="#555">-11</tspan></text>
<line x1="78.8" y1="530.07" x2="80.8" y2="530.07" stroke="#303030" stroke-width="1.2" />
<line x1="77.3" y1="517.75" x2="80.8" y2="517.75" stroke="#303030" stroke-width="1.2" />
<text x="74" y="522.85" font-size="14.5" text-anchor="end" fill="#262626">5.0x10<tspan font-size="7.8" dy="-6" fill="#555">-11</tspan></text>
<line x1="78.8" y1="505.43" x2="80.8" y2="505.43" stroke="#303030" stroke-width="1.2" />
<line x1="77.3" y1="493.1" x2="80.8" y2="493.1" stroke="#303030" stroke-width="1.2" />
<text x="74" y="498.2" font-size="14.5" text-anchor="end" fill="#262626">6.0x10<tspan font-size="7.8" dy="-6" fill="#555">-11</tspan></text>
<line x1="88.5" y1="647" x2="88.5" y2="651" stroke="#303030" stroke-width="1.2" />
<text x="88.5" y="663.6" font-size="14.5" text-anchor="middle" fill="#262626" font-weight="normal" >0</text>
<line x1="107.15" y1="647" x2="107.15" y2="649.2" stroke="#303030" stroke-width="1.2" />
<line x1="125.8" y1="647" x2="125.8" y2="651" stroke="#303030" stroke-width="1.2" />
<text x="125.8" y="663.6" font-size="14.5" text-anchor="middle" fill="#262626" font-weight="normal" >5</text>
<line x1="144.45" y1="647" x2="144.45" y2="649.2" stroke="#303030" stroke-width="1.2" />
<line x1="163.1" y1="647" x2="163.1" y2="651" stroke="#303030" stroke-width="1.2" />
<text x="163.1" y="663.6" font-size="14.5" text-anchor="middle" fill="#262626" font-weight="normal" >10</text>
<line x1="181.75" y1="647" x2="181.75" y2="649.2" stroke="#303030" stroke-width="1.2" />
<line x1="200.4" y1="647" x2="200.4" y2="651" stroke="#303030" stroke-width="1.2" />
<text x="200.4" y="663.6" font-size="14.5" text-anchor="middle" fill="#262626" font-weight="normal" >15</text>
<line x1="219.05" y1="647" x2="219.05" y2="649.2" stroke="#303030" stroke-width="1.2" />
<line x1="237.7" y1="647" x2="237.7" y2="651" stroke="#303030" stroke-width="1.2" />
<text x="237.7" y="663.6" font-size="14.5" text-anchor="middle" fill="#262626" font-weight="normal" >20</text>
<line x1="256.35" y1="647" x2="256.35" y2="649.2" stroke="#303030" stroke-width="1.2" />
<line x1="275" y1="647" x2="275" y2="651" stroke="#303030" stroke-width="1.2" />
<text x="275" y="663.6" font-size="14.5" text-anchor="middle" fill="#262626" font-weight="normal" >25</text>
<line x1="293.65" y1="647" x2="293.65" y2="649.2" stroke="#303030" stroke-width="1.2" />
<text x="186.8" y="681" font-size="14.5" text-anchor="middle" fill="#262626" font-weight="normal" >Time (s)</text>
<text transform="translate(13.4,571.7) rotate(-90)" x="0" y="0" font-size="14.5" text-anchor="middle" fill="#262626" >Current (A)</text>
<line x1="109.58" y1="633.04" x2="111.06" y2="591.77" stroke="#a020a0" stroke-width="1.2" />
<line x1="133.76" y1="588.08" x2="134.62" y2="624.41" stroke="#a020a0" stroke-width="1.2" />
<line x1="155.01" y1="633.15" x2="155.9" y2="591.04" stroke="#a020a0" stroke-width="1.2" />
<line x1="177.84" y1="588.08" x2="178.95" y2="619.48" stroke="#a020a0" stroke-width="1.2" />
<line x1="200.1" y1="632.91" x2="200.7" y2="589.31" stroke="#a020a0" stroke-width="1.2" />
<line x1="222.58" y1="588.08" x2="223.72" y2="623.18" stroke="#a020a0" stroke-width="1.2" />
<line x1="244.86" y1="633.13" x2="245.46" y2="590.3" stroke="#a020a0" stroke-width="1.2" />
<line x1="268" y1="588.08" x2="268.57" y2="623.18" stroke="#a020a0" stroke-width="1.2" />
<path d="M85 638.53a3.5 3.5 0 1 0 7 0a3.5 3.5 0 1 0 -7 0M85.75 638.53a3.5 3.5 0 1 0 7 0a3.5 3.5 0 1 0 -7 0M86.49 638.53a3.5 3.5 0 1 0 7 0a3.5 3.5 0 1 0 -7 0M87.24 638.53a3.5 3.5 0 1 0 7 0a3.5 3.5 0 1 0 -7 0M87.98 638.53a3.5 3.5 0 1 0 7 0a3.5 3.5 0 1 0 -7 0M88.73 638.53a3.5 3.5 0 1 0 7 0a3.5 3.5 0 1 0 -7 0M89.48 638.53a3.5 3.5 0 1 0 7 0a3.5 3.5 0 1 0 -7 0M90.22 638.53a3.5 3.5 0 1 0 7 0a3.5 3.5 0 1 0 -7 0M90.97 638.53a3.5 3.5 0 1 0 7 0a3.5 3.5 0 1 0 -7 0M91.71 638.53a3.5 3.5 0 1 0 7 0a3.5 3.5 0 1 0 -7 0M92.46 638.53a3.5 3.5 0 1 0 7 0a3.5 3.5 0 1 0 -7 0M93.21 638.53a3.5 3.5 0 1 0 7 0a3.5 3.5 0 1 0 -7 0M93.95 638.53a3.5 3.5 0 1 0 7 0a3.5 3.5 0 1 0 -7 0M94.7 638.53a3.5 3.5 0 1 0 7 0a3.5 3.5 0 1 0 -7 0M95.44 638.53a3.5 3.5 0 1 0 7 0a3.5 3.5 0 1 0 -7 0M96.19 638.53a3.5 3.5 0 1 0 7 0a3.5 3.5 0 1 0 -7 0M96.94 638.53a3.5 3.5 0 1 0 7 0a3.5 3.5 0 1 0 -7 0M97.68 638.53a3.5 3.5 0 1 0 7 0a3.5 3.5 0 1 0 -7 0M98.43 638.53a3.5 3.5 0 1 0 7 0a3.5 3.5 0 1 0 -7 0M99.17 638.53a3.5 3.5 0 1 0 7 0a3.5 3.5 0 1 0 -7 0M99.92 638.53a3.5 3.5 0 1 0 7 0a3.5 3.5 0 1 0 -7 0M100.67 638.53a3.5 3.5 0 1 0 7 0a3.5 3.5 0 1 0 -7 0M101.41 638.53a3.5 3.5 0 1 0 7 0a3.5 3.5 0 1 0 -7 0M102.16 638.53a3.5 3.5 0 1 0 7 0a3.5 3.5 0 1 0 -7 0M102.9 638.53a3.5 3.5 0 1 0 7 0a3.5 3.5 0 1 0 -7 0M103.65 638.53a3.5 3.5 0 1 0 7 0a3.5 3.5 0 1 0 -7 0M104.4 638.53a3.5 3.5 0 1 0 7 0a3.5 3.5 0 1 0 -7 0M105.14 638.53a3.5 3.5 0 1 0 7 0a3.5 3.5 0 1 0 -7 0M105.89 638.53a3.5 3.5 0 1 0 7 0a3.5 3.5 0 1 0 -7 0" fill="#8b008b"/>
<path d="M107.75 586.28a3.5 3.5 0 1 0 7 0a3.5 3.5 0 1 0 -7 0M108.5 585.54a3.5 3.5 0 1 0 7 0a3.5 3.5 0 1 0 -7 0M109.25 584.95a3.5 3.5 0 1 0 7 0a3.5 3.5 0 1 0 -7 0M109.99 584.48a3.5 3.5 0 1 0 7 0a3.5 3.5 0 1 0 -7 0M110.74 584.1a3.5 3.5 0 1 0 7 0a3.5 3.5 0 1 0 -7 0M111.48 583.8a3.5 3.5 0 1 0 7 0a3.5 3.5 0 1 0 -7 0M112.23 583.55a3.5 3.5 0 1 0 7 0a3.5 3.5 0 1 0 -7 0M112.97 583.36a3.5 3.5 0 1 0 7 0a3.5 3.5 0 1 0 -7 0M113.72 583.2a3.5 3.5 0 1 0 7 0a3.5 3.5 0 1 0 -7 0M114.47 583.08a3.5 3.5 0 1 0 7 0a3.5 3.5 0 1 0 -7 0M115.21 582.98a3.5 3.5 0 1 0 7 0a3.5 3.5 0 1 0 -7 0M115.96 582.9a3.5 3.5 0 1 0 7 0a3.5 3.5 0 1 0 -7 0M116.7 582.84a3.5 3.5 0 1 0 7 0a3.5 3.5 0 1 0 -7 0M117.45 582.79a3.5 3.5 0 1 0 7 0a3.5 3.5 0 1 0 -7 0M118.2 582.74a3.5 3.5 0 1 0 7 0a3.5 3.5 0 1 0 -7 0M118.94 582.71a3.5 3.5 0 1 0 7 0a3.5 3.5 0 1 0 -7 0M119.69 582.69a3.5 3.5 0 1 0 7 0a3.5 3.5 0 1 0 -7 0M120.44 582.66a3.5 3.5 0 1 0 7 0a3.5 3.5 0 1 0 -7 0M121.18 582.65a3.5 3.5 0 1 0 7 0a3.5 3.5 0 1 0 -7 0M121.93 582.63a3.5 3.5 0 1 0 7 0a3.5 3.5 0 1 0 -7 0M122.67 582.62a3.5 3.5 0 1 0 7 0a3.5 3.5 0 1 0 -7 0M123.42 582.61a3.5 3.5 0 1 0 7 0a3.5 3.5 0 1 0 -7 0M124.16 582.61a3.5 3.5 0 1 0 7 0a3.5 3.5 0 1 0 -7 0M124.91 582.6a3.5 3.5 0 1 0 7 0a3.5 3.5 0 1 0 -7 0M125.66 582.6a3.5 3.5 0 1 0 7 0a3.5 3.5 0 1 0 -7 0M126.4 582.59a3.5 3.5 0 1 0 7 0a3.5 3.5 0 1 0 -7 0M127.15 582.59a3.5 3.5 0 1 0 7 0a3.5 3.5 0 1 0 -7 0M127.9 582.59a3.5 3.5 0 1 0 7 0a3.5 3.5 0 1 0 -7 0M128.64 582.59a3.5 3.5 0 1 0 7 0a3.5 3.5 0 1 0 -7 0M129.39 582.59a3.5 3.5 0 1 0 7 0a3.5 3.5 0 1 0 -7 0M130.13 582.58a3.5 3.5 0 1 0 7 0a3.5 3.5 0 1 0 -7 0" fill="#8b008b"/>
<path d="M131.25 629.91a3.5 3.5 0 1 0 7 0a3.5 3.5 0 1 0 -7 0M132 630.8a3.5 3.5 0 1 0 7 0a3.5 3.5 0 1 0 -7 0M132.74 631.61a3.5 3.5 0 1 0 7 0a3.5 3.5 0 1 0 -7 0M133.49 632.34a3.5 3.5 0 1 0 7 0a3.5 3.5 0 1 0 -7 0M134.24 633a3.5 3.5 0 1 0 7 0a3.5 3.5 0 1 0 -7 0M134.98 633.59a3.5 3.5 0 1 0 7 0a3.5 3.5 0 1 0 -7 0M135.73 634.13a3.5 3.5 0 1 0 7 0a3.5 3.5 0 1 0 -7 0M136.47 634.62a3.5 3.5 0 1 0 7 0a3.5 3.5 0 1 0 -7 0M137.22 635.07a3.5 3.5 0 1 0 7 0a3.5 3.5 0 1 0 -7 0M137.97 635.47a3.5 3.5 0 1 0 7 0a3.5 3.5 0 1 0 -7 0M138.71 635.83a3.5 3.5 0 1 0 7 0a3.5 3.5 0 1 0 -7 0M139.46 636.16a3.5 3.5 0 1 0 7 0a3.5 3.5 0 1 0 -7 0M140.2 636.45a3.5 3.5 0 1 0 7 0a3.5 3.5 0 1 0 -7 0M140.95 636.72a3.5 3.5 0 1 0 7 0a3.5 3.5 0 1 0 -7 0M141.7 636.96a3.5 3.5 0 1 0 7 0a3.5 3.5 0 1 0 -7 0M142.44 637.18a3.5 3.5 0 1 0 7 0a3.5 3.5 0 1 0 -7 0M143.19 637.38a3.5 3.5 0 1 0 7 0a3.5 3.5 0 1 0 -7 0M143.93 637.56a3.5 3.5 0 1 0 7 0a3.5 3.5 0 1 0 -7 0M144.68 637.73a3.5 3.5 0 1 0 7 0a3.5 3.5 0 1 0 -7 0M145.43 637.87a3.5 3.5 0 1 0 7 0a3.5 3.5 0 1 0 -7 0M146.17 638.01a3.5 3.5 0 1 0 7 0a3.5 3.5 0 1 0 -7 0M146.92 638.13a3.5 3.5 0 1 0 7 0a3.5 3.5 0 1 0 -7 0M147.66 638.24a3.5 3.5 0 1 0 7 0a3.5 3.5 0 1 0 -7 0M148.41 638.34a3.5 3.5 0 1 0 7 0a3.5 3.5 0 1 0 -7 0M149.16 638.42a3.5 3.5 0 1 0 7 0a3.5 3.5 0 1 0 -7 0M149.9 638.51a3.5 3.5 0 1 0 7 0a3.5 3.5 0 1 0 -7 0M150.65 638.58a3.5 3.5 0 1 0 7 0a3.5 3.5 0 1 0 -7 0M151.39 638.64a3.5 3.5 0 1 0 7 0a3.5 3.5 0 1 0 -7 0" fill="#8b008b"/>
<path d="M152.51 585.54a3.5 3.5 0 1 0 7 0a3.5 3.5 0 1 0 -7 0M153.26 584.95a3.5 3.5 0 1 0 7 0a3.5 3.5 0 1 0 -7 0M154 584.48a3.5 3.5 0 1 0 7 0a3.5 3.5 0 1 0 -7 0M154.75 584.1a3.5 3.5 0 1 0 7 0a3.5 3.5 0 1 0 -7 0M155.5 583.8a3.5 3.5 0 1 0 7 0a3.5 3.5 0 1 0 -7 0M156.24 583.55a3.5 3.5 0 1 0 7 0a3.5 3.5 0 1 0 -7 0M156.99 583.36a3.5 3.5 0 1 0 7 0a3.5 3.5 0 1 0 -7 0M157.74 583.2a3.5 3.5 0 1 0 7 0a3.5 3.5 0 1 0 -7 0M158.48 583.08a3.5 3.5 0 1 0 7 0a3.5 3.5 0 1 0 -7 0M159.23 582.98a3.5 3.5 0 1 0 7 0a3.5 3.5 0 1 0 -7 0M159.97 582.9a3.5 3.5 0 1 0 7 0a3.5 3.5 0 1 0 -7 0M160.72 582.84a3.5 3.5 0 1 0 7 0a3.5 3.5 0 1 0 -7 0M161.47 582.79a3.5 3.5 0 1 0 7 0a3.5 3.5 0 1 0 -7 0M162.21 582.74a3.5 3.5 0 1 0 7 0a3.5 3.5 0 1 0 -7 0M162.96 582.71a3.5 3.5 0 1 0 7 0a3.5 3.5 0 1 0 -7 0M163.7 582.69a3.5 3.5 0 1 0 7 0a3.5 3.5 0 1 0 -7 0M164.45 582.66a3.5 3.5 0 1 0 7 0a3.5 3.5 0 1 0 -7 0M165.19 582.65a3.5 3.5 0 1 0 7 0a3.5 3.5 0 1 0 -7 0M165.94 582.63a3.5 3.5 0 1 0 7 0a3.5 3.5 0 1 0 -7 0M166.69 582.62a3.5 3.5 0 1 0 7 0a3.5 3.5 0 1 0 -7 0M167.43 582.61a3.5 3.5 0 1 0 7 0a3.5 3.5 0 1 0 -7 0M168.18 582.61a3.5 3.5 0 1 0 7 0a3.5 3.5 0 1 0 -7 0M168.93 582.6a3.5 3.5 0 1 0 7 0a3.5 3.5 0 1 0 -7 0M169.67 582.6a3.5 3.5 0 1 0 7 0a3.5 3.5 0 1 0 -7 0M170.42 582.59a3.5 3.5 0 1 0 7 0a3.5 3.5 0 1 0 -7 0M171.16 582.59a3.5 3.5 0 1 0 7 0a3.5 3.5 0 1 0 -7 0M171.91 582.59a3.5 3.5 0 1 0 7 0a3.5 3.5 0 1 0 -7 0M172.66 582.59a3.5 3.5 0 1 0 7 0a3.5 3.5 0 1 0 -7 0M173.4 582.59a3.5 3.5 0 1 0 7 0a3.5 3.5 0 1 0 -7 0M174.15 582.58a3.5 3.5 0 1 0 7 0a3.5 3.5 0 1 0 -7 0" fill="#8b008b"/>
<path d="M175.64 624.98a3.5 3.5 0 1 0 7 0a3.5 3.5 0 1 0 -7 0M176.38 626.34a3.5 3.5 0 1 0 7 0a3.5 3.5 0 1 0 -7 0M177.13 627.57a3.5 3.5 0 1 0 7 0a3.5 3.5 0 1 0 -7 0M177.88 628.68a3.5 3.5 0 1 0 7 0a3.5 3.5 0 1 0 -7 0M178.62 629.69a3.5 3.5 0 1 0 7 0a3.5 3.5 0 1 0 -7 0M179.37 630.6a3.5 3.5 0 1 0 7 0a3.5 3.5 0 1 0 -7 0M180.12 631.43a3.5 3.5 0 1 0 7 0a3.5 3.5 0 1 0 -7 0M180.86 632.17a3.5 3.5 0 1 0 7 0a3.5 3.5 0 1 0 -7 0M181.61 632.85a3.5 3.5 0 1 0 7 0a3.5 3.5 0 1 0 -7 0M182.35 633.46a3.5 3.5 0 1 0 7 0a3.5 3.5 0 1 0 -7 0M183.1 634.01a3.5 3.5 0 1 0 7 0a3.5 3.5 0 1 0 -7 0M183.84 634.52a3.5 3.5 0 1 0 7 0a3.5 3.5 0 1 0 -7 0M184.59 634.97a3.5 3.5 0 1 0 7 0a3.5 3.5 0 1 0 -7 0M185.34 635.38a3.5 3.5 0 1 0 7 0a3.5 3.5 0 1 0 -7 0M186.08 635.75a3.5 3.5 0 1 0 7 0a3.5 3.5 0 1 0 -7 0M186.83 636.08a3.5 3.5 0 1 0 7 0a3.5 3.5 0 1 0 -7 0M187.57 636.39a3.5 3.5 0 1 0 7 0a3.5 3.5 0 1 0 -7 0M188.32 636.66a3.5 3.5 0 1 0 7 0a3.5 3.5 0 1 0 -7 0M189.07 636.91a3.5 3.5 0 1 0 7 0a3.5 3.5 0 1 0 -7 0M189.81 637.14a3.5 3.5 0 1 0 7 0a3.5 3.5 0 1 0 -7 0M190.56 637.34a3.5 3.5 0 1 0 7 0a3.5 3.5 0 1 0 -7 0M191.31 637.52a3.5 3.5 0 1 0 7 0a3.5 3.5 0 1 0 -7 0M192.05 637.69a3.5 3.5 0 1 0 7 0a3.5 3.5 0 1 0 -7 0M192.8 637.84a3.5 3.5 0 1 0 7 0a3.5 3.5 0 1 0 -7 0M193.54 637.98a3.5 3.5 0 1 0 7 0a3.5 3.5 0 1 0 -7 0M194.29 638.1a3.5 3.5 0 1 0 7 0a3.5 3.5 0 1 0 -7 0M195.03 638.21a3.5 3.5 0 1 0 7 0a3.5 3.5 0 1 0 -7 0M195.78 638.31a3.5 3.5 0 1 0 7 0a3.5 3.5 0 1 0 -7 0M196.53 638.41a3.5 3.5 0 1 0 7 0a3.5 3.5 0 1 0 -7 0" fill="#8b008b"/>
<path d="M197.27 583.81a3.5 3.5 0 1 0 7 0a3.5 3.5 0 1 0 -7 0M198.02 583.57a3.5 3.5 0 1 0 7 0a3.5 3.5 0 1 0 -7 0M198.76 583.37a3.5 3.5 0 1 0 7 0a3.5 3.5 0 1 0 -7 0M199.51 583.21a3.5 3.5 0 1 0 7 0a3.5 3.5 0 1 0 -7 0M200.26 583.09a3.5 3.5 0 1 0 7 0a3.5 3.5 0 1 0 -7 0M201 582.99a3.5 3.5 0 1 0 7 0a3.5 3.5 0 1 0 -7 0M201.75 582.9a3.5 3.5 0 1 0 7 0a3.5 3.5 0 1 0 -7 0M202.5 582.84a3.5 3.5 0 1 0 7 0a3.5 3.5 0 1 0 -7 0M203.24 582.79a3.5 3.5 0 1 0 7 0a3.5 3.5 0 1 0 -7 0M203.99 582.75a3.5 3.5 0 1 0 7 0a3.5 3.5 0 1 0 -7 0M204.73 582.71a3.5 3.5 0 1 0 7 0a3.5 3.5 0 1 0 -7 0M205.48 582.69a3.5 3.5 0 1 0 7 0a3.5 3.5 0 1 0 -7 0M206.22 582.67a3.5 3.5 0 1 0 7 0a3.5 3.5 0 1 0 -7 0M206.97 582.65a3.5 3.5 0 1 0 7 0a3.5 3.5 0 1 0 -7 0M207.72 582.63a3.5 3.5 0 1 0 7 0a3.5 3.5 0 1 0 -7 0M208.46 582.62a3.5 3.5 0 1 0 7 0a3.5 3.5 0 1 0 -7 0M209.21 582.61a3.5 3.5 0 1 0 7 0a3.5 3.5 0 1 0 -7 0M209.95 582.61a3.5 3.5 0 1 0 7 0a3.5 3.5 0 1 0 -7 0M210.7 582.6a3.5 3.5 0 1 0 7 0a3.5 3.5 0 1 0 -7 0M211.45 582.6a3.5 3.5 0 1 0 7 0a3.5 3.5 0 1 0 -7 0M212.19 582.59a3.5 3.5 0 1 0 7 0a3.5 3.5 0 1 0 -7 0M212.94 582.59a3.5 3.5 0 1 0 7 0a3.5 3.5 0 1 0 -7 0M213.69 582.59a3.5 3.5 0 1 0 7 0a3.5 3.5 0 1 0 -7 0M214.43 582.59a3.5 3.5 0 1 0 7 0a3.5 3.5 0 1 0 -7 0M215.18 582.59a3.5 3.5 0 1 0 7 0a3.5 3.5 0 1 0 -7 0M215.92 582.58a3.5 3.5 0 1 0 7 0a3.5 3.5 0 1 0 -7 0M216.67 582.58a3.5 3.5 0 1 0 7 0a3.5 3.5 0 1 0 -7 0M217.41 582.58a3.5 3.5 0 1 0 7 0a3.5 3.5 0 1 0 -7 0M218.16 582.58a3.5 3.5 0 1 0 7 0a3.5 3.5 0 1 0 -7 0M218.91 582.58a3.5 3.5 0 1 0 7 0a3.5 3.5 0 1 0 -7 0" fill="#8b008b"/>
<path d="M220.4 628.67a3.5 3.5 0 1 0 7 0a3.5 3.5 0 1 0 -7 0M221.15 629.68a3.5 3.5 0 1 0 7 0a3.5 3.5 0 1 0 -7 0M221.89 630.6a3.5 3.5 0 1 0 7 0a3.5 3.5 0 1 0 -7 0M222.64 631.42a3.5 3.5 0 1 0 7 0a3.5 3.5 0 1 0 -7 0M223.38 632.17a3.5 3.5 0 1 0 7 0a3.5 3.5 0 1 0 -7 0M224.13 632.85a3.5 3.5 0 1 0 7 0a3.5 3.5 0 1 0 -7 0M224.88 633.46a3.5 3.5 0 1 0 7 0a3.5 3.5 0 1 0 -7 0M225.62 634.01a3.5 3.5 0 1 0 7 0a3.5 3.5 0 1 0 -7 0M226.37 634.51a3.5 3.5 0 1 0 7 0a3.5 3.5 0 1 0 -7 0M227.11 634.97a3.5 3.5 0 1 0 7 0a3.5 3.5 0 1 0 -7 0M227.86 635.38a3.5 3.5 0 1 0 7 0a3.5 3.5 0 1 0 -7 0M228.6 635.75a3.5 3.5 0 1 0 7 0a3.5 3.5 0 1 0 -7 0M229.35 636.08a3.5 3.5 0 1 0 7 0a3.5 3.5 0 1 0 -7 0M230.1 636.39a3.5 3.5 0 1 0 7 0a3.5 3.5 0 1 0 -7 0M230.84 636.66a3.5 3.5 0 1 0 7 0a3.5 3.5 0 1 0 -7 0M231.59 636.91a3.5 3.5 0 1 0 7 0a3.5 3.5 0 1 0 -7 0M232.34 637.13a3.5 3.5 0 1 0 7 0a3.5 3.5 0 1 0 -7 0M233.08 637.34a3.5 3.5 0 1 0 7 0a3.5 3.5 0 1 0 -7 0M233.83 637.52a3.5 3.5 0 1 0 7 0a3.5 3.5 0 1 0 -7 0M234.57 637.69a3.5 3.5 0 1 0 7 0a3.5 3.5 0 1 0 -7 0M235.32 637.84a3.5 3.5 0 1 0 7 0a3.5 3.5 0 1 0 -7 0M236.06 637.98a3.5 3.5 0 1 0 7 0a3.5 3.5 0 1 0 -7 0M236.81 638.1a3.5 3.5 0 1 0 7 0a3.5 3.5 0 1 0 -7 0M237.56 638.21a3.5 3.5 0 1 0 7 0a3.5 3.5 0 1 0 -7 0M238.3 638.31a3.5 3.5 0 1 0 7 0a3.5 3.5 0 1 0 -7 0M239.05 638.4a3.5 3.5 0 1 0 7 0a3.5 3.5 0 1 0 -7 0M239.79 638.49a3.5 3.5 0 1 0 7 0a3.5 3.5 0 1 0 -7 0M240.54 638.56a3.5 3.5 0 1 0 7 0a3.5 3.5 0 1 0 -7 0M241.29 638.63a3.5 3.5 0 1 0 7 0a3.5 3.5 0 1 0 -7 0" fill="#8b008b"/>
<path d="M242.03 584.8a3.5 3.5 0 1 0 7 0a3.5 3.5 0 1 0 -7 0M242.78 584.36a3.5 3.5 0 1 0 7 0a3.5 3.5 0 1 0 -7 0M243.53 584a3.5 3.5 0 1 0 7 0a3.5 3.5 0 1 0 -7 0M244.27 583.72a3.5 3.5 0 1 0 7 0a3.5 3.5 0 1 0 -7 0M245.02 583.49a3.5 3.5 0 1 0 7 0a3.5 3.5 0 1 0 -7 0M245.76 583.31a3.5 3.5 0 1 0 7 0a3.5 3.5 0 1 0 -7 0M246.51 583.16a3.5 3.5 0 1 0 7 0a3.5 3.5 0 1 0 -7 0M247.25 583.05a3.5 3.5 0 1 0 7 0a3.5 3.5 0 1 0 -7 0M248 582.95a3.5 3.5 0 1 0 7 0a3.5 3.5 0 1 0 -7 0M248.75 582.88a3.5 3.5 0 1 0 7 0a3.5 3.5 0 1 0 -7 0M249.49 582.82a3.5 3.5 0 1 0 7 0a3.5 3.5 0 1 0 -7 0M250.24 582.77a3.5 3.5 0 1 0 7 0a3.5 3.5 0 1 0 -7 0M250.98 582.73a3.5 3.5 0 1 0 7 0a3.5 3.5 0 1 0 -7 0M251.73 582.7a3.5 3.5 0 1 0 7 0a3.5 3.5 0 1 0 -7 0M252.48 582.68a3.5 3.5 0 1 0 7 0a3.5 3.5 0 1 0 -7 0M253.22 582.66a3.5 3.5 0 1 0 7 0a3.5 3.5 0 1 0 -7 0M253.97 582.64a3.5 3.5 0 1 0 7 0a3.5 3.5 0 1 0 -7 0M254.72 582.63a3.5 3.5 0 1 0 7 0a3.5 3.5 0 1 0 -7 0M255.46 582.62a3.5 3.5 0 1 0 7 0a3.5 3.5 0 1 0 -7 0M256.21 582.61a3.5 3.5 0 1 0 7 0a3.5 3.5 0 1 0 -7 0M256.95 582.61a3.5 3.5 0 1 0 7 0a3.5 3.5 0 1 0 -7 0M257.7 582.6a3.5 3.5 0 1 0 7 0a3.5 3.5 0 1 0 -7 0M258.44 582.6a3.5 3.5 0 1 0 7 0a3.5 3.5 0 1 0 -7 0M259.19 582.59a3.5 3.5 0 1 0 7 0a3.5 3.5 0 1 0 -7 0M259.94 582.59a3.5 3.5 0 1 0 7 0a3.5 3.5 0 1 0 -7 0M260.68 582.59a3.5 3.5 0 1 0 7 0a3.5 3.5 0 1 0 -7 0M261.43 582.59a3.5 3.5 0 1 0 7 0a3.5 3.5 0 1 0 -7 0M262.18 582.58a3.5 3.5 0 1 0 7 0a3.5 3.5 0 1 0 -7 0M262.92 582.58a3.5 3.5 0 1 0 7 0a3.5 3.5 0 1 0 -7 0M263.67 582.58a3.5 3.5 0 1 0 7 0a3.5 3.5 0 1 0 -7 0M264.41 582.58a3.5 3.5 0 1 0 7 0a3.5 3.5 0 1 0 -7 0" fill="#8b008b"/>
<path d="M265.16 628.67a3.5 3.5 0 1 0 7 0a3.5 3.5 0 1 0 -7 0M265.9 629.68a3.5 3.5 0 1 0 7 0a3.5 3.5 0 1 0 -7 0M266.65 630.6a3.5 3.5 0 1 0 7 0a3.5 3.5 0 1 0 -7 0M267.4 631.42a3.5 3.5 0 1 0 7 0a3.5 3.5 0 1 0 -7 0M268.14 632.17a3.5 3.5 0 1 0 7 0a3.5 3.5 0 1 0 -7 0M268.89 632.85a3.5 3.5 0 1 0 7 0a3.5 3.5 0 1 0 -7 0M269.63 633.46a3.5 3.5 0 1 0 7 0a3.5 3.5 0 1 0 -7 0M270.38 634.01a3.5 3.5 0 1 0 7 0a3.5 3.5 0 1 0 -7 0M271.13 634.51a3.5 3.5 0 1 0 7 0a3.5 3.5 0 1 0 -7 0M271.87 634.97a3.5 3.5 0 1 0 7 0a3.5 3.5 0 1 0 -7 0M272.62 635.38a3.5 3.5 0 1 0 7 0a3.5 3.5 0 1 0 -7 0M273.37 635.75a3.5 3.5 0 1 0 7 0a3.5 3.5 0 1 0 -7 0M274.11 636.08a3.5 3.5 0 1 0 7 0a3.5 3.5 0 1 0 -7 0M274.86 636.39a3.5 3.5 0 1 0 7 0a3.5 3.5 0 1 0 -7 0M275.6 636.66a3.5 3.5 0 1 0 7 0a3.5 3.5 0 1 0 -7 0M276.35 636.91a3.5 3.5 0 1 0 7 0a3.5 3.5 0 1 0 -7 0M277.1 637.13a3.5 3.5 0 1 0 7 0a3.5 3.5 0 1 0 -7 0M277.84 637.34a3.5 3.5 0 1 0 7 0a3.5 3.5 0 1 0 -7 0M278.59 637.52a3.5 3.5 0 1 0 7 0a3.5 3.5 0 1 0 -7 0M279.33 637.69a3.5 3.5 0 1 0 7 0a3.5 3.5 0 1 0 -7 0M280.08 637.84a3.5 3.5 0 1 0 7 0a3.5 3.5 0 1 0 -7 0M280.82 637.98a3.5 3.5 0 1 0 7 0a3.5 3.5 0 1 0 -7 0M281.57 638.1a3.5 3.5 0 1 0 7 0a3.5 3.5 0 1 0 -7 0M282.32 638.21a3.5 3.5 0 1 0 7 0a3.5 3.5 0 1 0 -7 0M283.06 638.31a3.5 3.5 0 1 0 7 0a3.5 3.5 0 1 0 -7 0M283.81 638.4a3.5 3.5 0 1 0 7 0a3.5 3.5 0 1 0 -7 0M284.56 638.49a3.5 3.5 0 1 0 7 0a3.5 3.5 0 1 0 -7 0M285.3 638.56a3.5 3.5 0 1 0 7 0a3.5 3.5 0 1 0 -7 0M286.05 638.63a3.5 3.5 0 1 0 7 0a3.5 3.5 0 1 0 -7 0M286.79 638.69a3.5 3.5 0 1 0 7 0a3.5 3.5 0 1 0 -7 0" fill="#8b008b"/>
<path d="M88.15 637.03a0.8 0.8 0 1 0 1.6 0a0.8 0.8 0 1 0 -1.6 0M90.38 637.03a0.8 0.8 0 1 0 1.6 0a0.8 0.8 0 1 0 -1.6 0M92.62 637.03a0.8 0.8 0 1 0 1.6 0a0.8 0.8 0 1 0 -1.6 0M94.86 637.03a0.8 0.8 0 1 0 1.6 0a0.8 0.8 0 1 0 -1.6 0M97.1 637.03a0.8 0.8 0 1 0 1.6 0a0.8 0.8 0 1 0 -1.6 0M99.34 637.03a0.8 0.8 0 1 0 1.6 0a0.8 0.8 0 1 0 -1.6 0M101.57 637.03a0.8 0.8 0 1 0 1.6 0a0.8 0.8 0 1 0 -1.6 0M103.81 637.03a0.8 0.8 0 1 0 1.6 0a0.8 0.8 0 1 0 -1.6 0M106.05 637.03a0.8 0.8 0 1 0 1.6 0a0.8 0.8 0 1 0 -1.6 0" fill="#ffffff" opacity="0.85"/>
<path d="M110.9 584.04a0.8 0.8 0 1 0 1.6 0a0.8 0.8 0 1 0 -1.6 0M113.14 582.6a0.8 0.8 0 1 0 1.6 0a0.8 0.8 0 1 0 -1.6 0M115.38 581.86a0.8 0.8 0 1 0 1.6 0a0.8 0.8 0 1 0 -1.6 0M117.61 581.48a0.8 0.8 0 1 0 1.6 0a0.8 0.8 0 1 0 -1.6 0M119.85 581.29a0.8 0.8 0 1 0 1.6 0a0.8 0.8 0 1 0 -1.6 0M122.09 581.19a0.8 0.8 0 1 0 1.6 0a0.8 0.8 0 1 0 -1.6 0M124.33 581.13a0.8 0.8 0 1 0 1.6 0a0.8 0.8 0 1 0 -1.6 0M126.56 581.11a0.8 0.8 0 1 0 1.6 0a0.8 0.8 0 1 0 -1.6 0M128.8 581.09a0.8 0.8 0 1 0 1.6 0a0.8 0.8 0 1 0 -1.6 0M131.04 581.09a0.8 0.8 0 1 0 1.6 0a0.8 0.8 0 1 0 -1.6 0" fill="#ffffff" opacity="0.85"/>
<path d="M134.4 629.3a0.8 0.8 0 1 0 1.6 0a0.8 0.8 0 1 0 -1.6 0M136.64 631.5a0.8 0.8 0 1 0 1.6 0a0.8 0.8 0 1 0 -1.6 0M138.87 633.12a0.8 0.8 0 1 0 1.6 0a0.8 0.8 0 1 0 -1.6 0M141.11 634.33a0.8 0.8 0 1 0 1.6 0a0.8 0.8 0 1 0 -1.6 0M143.35 635.22a0.8 0.8 0 1 0 1.6 0a0.8 0.8 0 1 0 -1.6 0M145.59 635.88a0.8 0.8 0 1 0 1.6 0a0.8 0.8 0 1 0 -1.6 0M147.83 636.37a0.8 0.8 0 1 0 1.6 0a0.8 0.8 0 1 0 -1.6 0M150.06 636.74a0.8 0.8 0 1 0 1.6 0a0.8 0.8 0 1 0 -1.6 0M152.3 637.01a0.8 0.8 0 1 0 1.6 0a0.8 0.8 0 1 0 -1.6 0" fill="#ffffff" opacity="0.85"/>
<path d="M155.66 583.45a0.8 0.8 0 1 0 1.6 0a0.8 0.8 0 1 0 -1.6 0M157.9 582.3a0.8 0.8 0 1 0 1.6 0a0.8 0.8 0 1 0 -1.6 0M160.13 581.7a0.8 0.8 0 1 0 1.6 0a0.8 0.8 0 1 0 -1.6 0M162.37 581.4a0.8 0.8 0 1 0 1.6 0a0.8 0.8 0 1 0 -1.6 0M164.61 581.24a0.8 0.8 0 1 0 1.6 0a0.8 0.8 0 1 0 -1.6 0M166.85 581.16a0.8 0.8 0 1 0 1.6 0a0.8 0.8 0 1 0 -1.6 0M169.09 581.12a0.8 0.8 0 1 0 1.6 0a0.8 0.8 0 1 0 -1.6 0M171.32 581.1a0.8 0.8 0 1 0 1.6 0a0.8 0.8 0 1 0 -1.6 0M173.56 581.09a0.8 0.8 0 1 0 1.6 0a0.8 0.8 0 1 0 -1.6 0M175.8 581.09a0.8 0.8 0 1 0 1.6 0a0.8 0.8 0 1 0 -1.6 0" fill="#ffffff" opacity="0.85"/>
<path d="M178.78 624.84a0.8 0.8 0 1 0 1.6 0a0.8 0.8 0 1 0 -1.6 0M181.02 628.19a0.8 0.8 0 1 0 1.6 0a0.8 0.8 0 1 0 -1.6 0M183.26 630.67a0.8 0.8 0 1 0 1.6 0a0.8 0.8 0 1 0 -1.6 0M185.5 632.51a0.8 0.8 0 1 0 1.6 0a0.8 0.8 0 1 0 -1.6 0M187.74 633.88a0.8 0.8 0 1 0 1.6 0a0.8 0.8 0 1 0 -1.6 0M189.97 634.89a0.8 0.8 0 1 0 1.6 0a0.8 0.8 0 1 0 -1.6 0M192.21 635.64a0.8 0.8 0 1 0 1.6 0a0.8 0.8 0 1 0 -1.6 0M194.45 636.19a0.8 0.8 0 1 0 1.6 0a0.8 0.8 0 1 0 -1.6 0M196.69 636.6a0.8 0.8 0 1 0 1.6 0a0.8 0.8 0 1 0 -1.6 0" fill="#ffffff" opacity="0.85"/>
<path d="M200.42 582.07a0.8 0.8 0 1 0 1.6 0a0.8 0.8 0 1 0 -1.6 0M202.66 581.59a0.8 0.8 0 1 0 1.6 0a0.8 0.8 0 1 0 -1.6 0M204.89 581.34a0.8 0.8 0 1 0 1.6 0a0.8 0.8 0 1 0 -1.6 0M207.13 581.21a0.8 0.8 0 1 0 1.6 0a0.8 0.8 0 1 0 -1.6 0M209.37 581.15a0.8 0.8 0 1 0 1.6 0a0.8 0.8 0 1 0 -1.6 0M211.61 581.11a0.8 0.8 0 1 0 1.6 0a0.8 0.8 0 1 0 -1.6 0M213.85 581.1a0.8 0.8 0 1 0 1.6 0a0.8 0.8 0 1 0 -1.6 0M216.08 581.09a0.8 0.8 0 1 0 1.6 0a0.8 0.8 0 1 0 -1.6 0M218.32 581.08a0.8 0.8 0 1 0 1.6 0a0.8 0.8 0 1 0 -1.6 0M220.56 581.08a0.8 0.8 0 1 0 1.6 0a0.8 0.8 0 1 0 -1.6 0" fill="#ffffff" opacity="0.85"/>
<path d="M223.54 628.18a0.8 0.8 0 1 0 1.6 0a0.8 0.8 0 1 0 -1.6 0M225.78 630.67a0.8 0.8 0 1 0 1.6 0a0.8 0.8 0 1 0 -1.6 0M228.02 632.51a0.8 0.8 0 1 0 1.6 0a0.8 0.8 0 1 0 -1.6 0M230.26 633.88a0.8 0.8 0 1 0 1.6 0a0.8 0.8 0 1 0 -1.6 0M232.5 634.89a0.8 0.8 0 1 0 1.6 0a0.8 0.8 0 1 0 -1.6 0M234.73 635.63a0.8 0.8 0 1 0 1.6 0a0.8 0.8 0 1 0 -1.6 0M236.97 636.19a0.8 0.8 0 1 0 1.6 0a0.8 0.8 0 1 0 -1.6 0M239.21 636.6a0.8 0.8 0 1 0 1.6 0a0.8 0.8 0 1 0 -1.6 0M241.45 636.9a0.8 0.8 0 1 0 1.6 0a0.8 0.8 0 1 0 -1.6 0" fill="#ffffff" opacity="0.85"/>
<path d="M245.18 582.86a0.8 0.8 0 1 0 1.6 0a0.8 0.8 0 1 0 -1.6 0M247.42 581.99a0.8 0.8 0 1 0 1.6 0a0.8 0.8 0 1 0 -1.6 0M249.65 581.55a0.8 0.8 0 1 0 1.6 0a0.8 0.8 0 1 0 -1.6 0M251.89 581.32a0.8 0.8 0 1 0 1.6 0a0.8 0.8 0 1 0 -1.6 0M254.13 581.2a0.8 0.8 0 1 0 1.6 0a0.8 0.8 0 1 0 -1.6 0M256.37 581.14a0.8 0.8 0 1 0 1.6 0a0.8 0.8 0 1 0 -1.6 0M258.61 581.11a0.8 0.8 0 1 0 1.6 0a0.8 0.8 0 1 0 -1.6 0M260.84 581.1a0.8 0.8 0 1 0 1.6 0a0.8 0.8 0 1 0 -1.6 0M263.08 581.09a0.8 0.8 0 1 0 1.6 0a0.8 0.8 0 1 0 -1.6 0M265.32 581.08a0.8 0.8 0 1 0 1.6 0a0.8 0.8 0 1 0 -1.6 0" fill="#ffffff" opacity="0.85"/>
<path d="M268.3 628.18a0.8 0.8 0 1 0 1.6 0a0.8 0.8 0 1 0 -1.6 0M270.54 630.67a0.8 0.8 0 1 0 1.6 0a0.8 0.8 0 1 0 -1.6 0M272.78 632.51a0.8 0.8 0 1 0 1.6 0a0.8 0.8 0 1 0 -1.6 0M275.02 633.88a0.8 0.8 0 1 0 1.6 0a0.8 0.8 0 1 0 -1.6 0M277.26 634.89a0.8 0.8 0 1 0 1.6 0a0.8 0.8 0 1 0 -1.6 0M279.5 635.63a0.8 0.8 0 1 0 1.6 0a0.8 0.8 0 1 0 -1.6 0M281.73 636.19a0.8 0.8 0 1 0 1.6 0a0.8 0.8 0 1 0 -1.6 0M283.97 636.6a0.8 0.8 0 1 0 1.6 0a0.8 0.8 0 1 0 -1.6 0M286.21 636.9a0.8 0.8 0 1 0 1.6 0a0.8 0.8 0 1 0 -1.6 0M288.45 637.13a0.8 0.8 0 1 0 1.6 0a0.8 0.8 0 1 0 -1.6 0" fill="#ffffff" opacity="0.85"/>
<line x1="111" y1="564.2" x2="111" y2="573" stroke="#111" stroke-width="1.3" />
<path d="M108.8 571.6 L113.2 571.6 L111 576.4 Z" fill="#111"/>
<text x="114.9" y="573.6" font-size="10.6" text-anchor="start" fill="#262626" font-weight="normal" letter-spacing="0.5">ON</text>
<line x1="268" y1="564.2" x2="268" y2="573" stroke="#111" stroke-width="1.3" />
<path d="M265.8 571.6 L270.2 571.6 L268 576.4 Z" fill="#111"/>
<text x="242.6" y="573.1" font-size="10.6" text-anchor="start" fill="#262626" font-weight="normal" letter-spacing="0.45">OFF</text>
<rect x="98.3" y="490.4" width="189" height="64.4" fill="#fff" stroke="#303030" stroke-width="1.2"/>
<line x1="98.3" y1="554.8" x2="98.3" y2="551.8" stroke="#303030" stroke-width="1.2" />
<text x="98.3" y="565.6" font-size="11.3" text-anchor="middle" fill="#262626" font-weight="normal" >2</text>
<line x1="161.3" y1="554.8" x2="161.3" y2="551.8" stroke="#303030" stroke-width="1.2" />
<text x="161.3" y="565.6" font-size="11.3" text-anchor="middle" fill="#262626" font-weight="normal" >4</text>
<line x1="224.3" y1="554.8" x2="224.3" y2="551.8" stroke="#303030" stroke-width="1.2" />
<text x="224.3" y="565.6" font-size="11.3" text-anchor="middle" fill="#262626" font-weight="normal" >6</text>
<line x1="287.3" y1="554.8" x2="287.3" y2="551.8" stroke="#303030" stroke-width="1.2" />
<text x="287.3" y="565.6" font-size="11.3" text-anchor="middle" fill="#262626" font-weight="normal" >8</text>
<text x="192.3" y="571.3" font-size="11.3" text-anchor="middle" fill="#262626" font-weight="normal" letter-spacing="0.3">Time (s)</text>
<text transform="translate(95,519.8) rotate(-90)" x="0" y="0" font-size="11.3" text-anchor="middle" fill="#262626" >Current (A)</text>
<line x1="130.43" y1="549.8" x2="130.43" y2="531" stroke="#0a7a0a" stroke-width="1.0" />
<line x1="224.93" y1="495" x2="224.93" y2="531" stroke="#0a7a0a" stroke-width="1.0" />
<path d="M96.4 549.8a1.9 1.9 0 1 0 3.8 0a1.9 1.9 0 1 0 -3.8 0M97.03 549.8a1.9 1.9 0 1 0 3.8 0a1.9 1.9 0 1 0 -3.8 0M97.66 549.8a1.9 1.9 0 1 0 3.8 0a1.9 1.9 0 1 0 -3.8 0M98.29 549.8a1.9 1.9 0 1 0 3.8 0a1.9 1.9 0 1 0 -3.8 0M98.92 549.8a1.9 1.9 0 1 0 3.8 0a1.9 1.9 0 1 0 -3.8 0M99.55 549.8a1.9 1.9 0 1 0 3.8 0a1.9 1.9 0 1 0 -3.8 0M100.18 549.8a1.9 1.9 0 1 0 3.8 0a1.9 1.9 0 1 0 -3.8 0M100.81 549.8a1.9 1.9 0 1 0 3.8 0a1.9 1.9 0 1 0 -3.8 0M101.44 549.8a1.9 1.9 0 1 0 3.8 0a1.9 1.9 0 1 0 -3.8 0M102.07 549.8a1.9 1.9 0 1 0 3.8 0a1.9 1.9 0 1 0 -3.8 0M102.7 549.8a1.9 1.9 0 1 0 3.8 0a1.9 1.9 0 1 0 -3.8 0M103.33 549.8a1.9 1.9 0 1 0 3.8 0a1.9 1.9 0 1 0 -3.8 0M103.96 549.8a1.9 1.9 0 1 0 3.8 0a1.9 1.9 0 1 0 -3.8 0M104.59 549.8a1.9 1.9 0 1 0 3.8 0a1.9 1.9 0 1 0 -3.8 0M105.22 549.8a1.9 1.9 0 1 0 3.8 0a1.9 1.9 0 1 0 -3.8 0M105.85 549.8a1.9 1.9 0 1 0 3.8 0a1.9 1.9 0 1 0 -3.8 0M106.48 549.8a1.9 1.9 0 1 0 3.8 0a1.9 1.9 0 1 0 -3.8 0M107.11 549.8a1.9 1.9 0 1 0 3.8 0a1.9 1.9 0 1 0 -3.8 0M107.74 549.8a1.9 1.9 0 1 0 3.8 0a1.9 1.9 0 1 0 -3.8 0M108.37 549.8a1.9 1.9 0 1 0 3.8 0a1.9 1.9 0 1 0 -3.8 0M109 549.8a1.9 1.9 0 1 0 3.8 0a1.9 1.9 0 1 0 -3.8 0M109.63 549.8a1.9 1.9 0 1 0 3.8 0a1.9 1.9 0 1 0 -3.8 0M110.26 549.8a1.9 1.9 0 1 0 3.8 0a1.9 1.9 0 1 0 -3.8 0M110.89 549.8a1.9 1.9 0 1 0 3.8 0a1.9 1.9 0 1 0 -3.8 0M111.52 549.8a1.9 1.9 0 1 0 3.8 0a1.9 1.9 0 1 0 -3.8 0M112.15 549.8a1.9 1.9 0 1 0 3.8 0a1.9 1.9 0 1 0 -3.8 0M112.78 549.8a1.9 1.9 0 1 0 3.8 0a1.9 1.9 0 1 0 -3.8 0M113.41 549.8a1.9 1.9 0 1 0 3.8 0a1.9 1.9 0 1 0 -3.8 0M114.04 549.8a1.9 1.9 0 1 0 3.8 0a1.9 1.9 0 1 0 -3.8 0M114.67 549.8a1.9 1.9 0 1 0 3.8 0a1.9 1.9 0 1 0 -3.8 0M115.3 549.8a1.9 1.9 0 1 0 3.8 0a1.9 1.9 0 1 0 -3.8 0M115.93 549.8a1.9 1.9 0 1 0 3.8 0a1.9 1.9 0 1 0 -3.8 0M116.56 549.8a1.9 1.9 0 1 0 3.8 0a1.9 1.9 0 1 0 -3.8 0M117.19 549.8a1.9 1.9 0 1 0 3.8 0a1.9 1.9 0 1 0 -3.8 0M117.82 549.8a1.9 1.9 0 1 0 3.8 0a1.9 1.9 0 1 0 -3.8 0M118.45 549.8a1.9 1.9 0 1 0 3.8 0a1.9 1.9 0 1 0 -3.8 0M119.08 549.8a1.9 1.9 0 1 0 3.8 0a1.9 1.9 0 1 0 -3.8 0M119.71 549.8a1.9 1.9 0 1 0 3.8 0a1.9 1.9 0 1 0 -3.8 0M120.34 549.8a1.9 1.9 0 1 0 3.8 0a1.9 1.9 0 1 0 -3.8 0M120.97 549.8a1.9 1.9 0 1 0 3.8 0a1.9 1.9 0 1 0 -3.8 0M121.6 549.8a1.9 1.9 0 1 0 3.8 0a1.9 1.9 0 1 0 -3.8 0M122.23 549.8a1.9 1.9 0 1 0 3.8 0a1.9 1.9 0 1 0 -3.8 0M122.86 549.8a1.9 1.9 0 1 0 3.8 0a1.9 1.9 0 1 0 -3.8 0M123.49 549.8a1.9 1.9 0 1 0 3.8 0a1.9 1.9 0 1 0 -3.8 0M124.12 549.8a1.9 1.9 0 1 0 3.8 0a1.9 1.9 0 1 0 -3.8 0M124.75 549.8a1.9 1.9 0 1 0 3.8 0a1.9 1.9 0 1 0 -3.8 0M125.38 549.8a1.9 1.9 0 1 0 3.8 0a1.9 1.9 0 1 0 -3.8 0M126.01 549.8a1.9 1.9 0 1 0 3.8 0a1.9 1.9 0 1 0 -3.8 0M126.64 549.8a1.9 1.9 0 1 0 3.8 0a1.9 1.9 0 1 0 -3.8 0M127.27 549.8a1.9 1.9 0 1 0 3.8 0a1.9 1.9 0 1 0 -3.8 0M127.9 549.8a1.9 1.9 0 1 0 3.8 0a1.9 1.9 0 1 0 -3.8 0" fill="#0a7a0a"/>
<path d="M128.84 529.6a1.9 1.9 0 1 0 3.8 0a1.9 1.9 0 1 0 -3.8 0" fill="#0a7a0a"/>
<path d="M129.79 523.64a1.9 1.9 0 1 0 3.8 0a1.9 1.9 0 1 0 -3.8 0M130.29 520.93a1.9 1.9 0 1 0 3.8 0a1.9 1.9 0 1 0 -3.8 0M130.8 518.48a1.9 1.9 0 1 0 3.8 0a1.9 1.9 0 1 0 -3.8 0M131.3 516.27a1.9 1.9 0 1 0 3.8 0a1.9 1.9 0 1 0 -3.8 0M131.81 514.26a1.9 1.9 0 1 0 3.8 0a1.9 1.9 0 1 0 -3.8 0M132.31 512.45a1.9 1.9 0 1 0 3.8 0a1.9 1.9 0 1 0 -3.8 0M132.81 510.81a1.9 1.9 0 1 0 3.8 0a1.9 1.9 0 1 0 -3.8 0M133.32 509.32a1.9 1.9 0 1 0 3.8 0a1.9 1.9 0 1 0 -3.8 0M133.82 507.98a1.9 1.9 0 1 0 3.8 0a1.9 1.9 0 1 0 -3.8 0M134.33 506.76a1.9 1.9 0 1 0 3.8 0a1.9 1.9 0 1 0 -3.8 0M134.83 505.66a1.9 1.9 0 1 0 3.8 0a1.9 1.9 0 1 0 -3.8 0M135.33 504.67a1.9 1.9 0 1 0 3.8 0a1.9 1.9 0 1 0 -3.8 0M135.84 503.76a1.9 1.9 0 1 0 3.8 0a1.9 1.9 0 1 0 -3.8 0M136.34 502.95a1.9 1.9 0 1 0 3.8 0a1.9 1.9 0 1 0 -3.8 0M136.85 502.21a1.9 1.9 0 1 0 3.8 0a1.9 1.9 0 1 0 -3.8 0M137.35 501.54a1.9 1.9 0 1 0 3.8 0a1.9 1.9 0 1 0 -3.8 0M137.85 500.94a1.9 1.9 0 1 0 3.8 0a1.9 1.9 0 1 0 -3.8 0M138.36 500.39a1.9 1.9 0 1 0 3.8 0a1.9 1.9 0 1 0 -3.8 0M138.86 499.9a1.9 1.9 0 1 0 3.8 0a1.9 1.9 0 1 0 -3.8 0M139.37 499.45a1.9 1.9 0 1 0 3.8 0a1.9 1.9 0 1 0 -3.8 0M139.87 499.05a1.9 1.9 0 1 0 3.8 0a1.9 1.9 0 1 0 -3.8 0M140.37 498.68a1.9 1.9 0 1 0 3.8 0a1.9 1.9 0 1 0 -3.8 0M140.88 498.35a1.9 1.9 0 1 0 3.8 0a1.9 1.9 0 1 0 -3.8 0M141.38 498.05a1.9 1.9 0 1 0 3.8 0a1.9 1.9 0 1 0 -3.8 0M141.89 497.78a1.9 1.9 0 1 0 3.8 0a1.9 1.9 0 1 0 -3.8 0M142.39 497.53a1.9 1.9 0 1 0 3.8 0a1.9 1.9 0 1 0 -3.8 0M142.89 497.31a1.9 1.9 0 1 0 3.8 0a1.9 1.9 0 1 0 -3.8 0M143.4 497.11a1.9 1.9 0 1 0 3.8 0a1.9 1.9 0 1 0 -3.8 0M143.9 496.93a1.9 1.9 0 1 0 3.8 0a1.9 1.9 0 1 0 -3.8 0M144.41 496.76a1.9 1.9 0 1 0 3.8 0a1.9 1.9 0 1 0 -3.8 0M144.91 496.62a1.9 1.9 0 1 0 3.8 0a1.9 1.9 0 1 0 -3.8 0M145.41 496.48a1.9 1.9 0 1 0 3.8 0a1.9 1.9 0 1 0 -3.8 0M145.92 496.36a1.9 1.9 0 1 0 3.8 0a1.9 1.9 0 1 0 -3.8 0M146.42 496.25a1.9 1.9 0 1 0 3.8 0a1.9 1.9 0 1 0 -3.8 0M146.93 496.15a1.9 1.9 0 1 0 3.8 0a1.9 1.9 0 1 0 -3.8 0M147.43 496.06a1.9 1.9 0 1 0 3.8 0a1.9 1.9 0 1 0 -3.8 0M147.93 495.98a1.9 1.9 0 1 0 3.8 0a1.9 1.9 0 1 0 -3.8 0M148.44 495.9a1.9 1.9 0 1 0 3.8 0a1.9 1.9 0 1 0 -3.8 0M148.94 495.84a1.9 1.9 0 1 0 3.8 0a1.9 1.9 0 1 0 -3.8 0M149.45 495.78a1.9 1.9 0 1 0 3.8 0a1.9 1.9 0 1 0 -3.8 0M149.95 495.72a1.9 1.9 0 1 0 3.8 0a1.9 1.9 0 1 0 -3.8 0M150.45 495.67a1.9 1.9 0 1 0 3.8 0a1.9 1.9 0 1 0 -3.8 0M150.96 495.63a1.9 1.9 0 1 0 3.8 0a1.9 1.9 0 1 0 -3.8 0M151.46 495.59a1.9 1.9 0 1 0 3.8 0a1.9 1.9 0 1 0 -3.8 0M151.97 495.55a1.9 1.9 0 1 0 3.8 0a1.9 1.9 0 1 0 -3.8 0M152.47 495.52a1.9 1.9 0 1 0 3.8 0a1.9 1.9 0 1 0 -3.8 0M152.97 495.49a1.9 1.9 0 1 0 3.8 0a1.9 1.9 0 1 0 -3.8 0M153.48 495.46a1.9 1.9 0 1 0 3.8 0a1.9 1.9 0 1 0 -3.8 0M153.98 495.43a1.9 1.9 0 1 0 3.8 0a1.9 1.9 0 1 0 -3.8 0M154.49 495.41a1.9 1.9 0 1 0 3.8 0a1.9 1.9 0 1 0 -3.8 0M154.99 495.39a1.9 1.9 0 1 0 3.8 0a1.9 1.9 0 1 0 -3.8 0M155.49 495.37a1.9 1.9 0 1 0 3.8 0a1.9 1.9 0 1 0 -3.8 0M156 495.36a1.9 1.9 0 1 0 3.8 0a1.9 1.9 0 1 0 -3.8 0M156.5 495.34a1.9 1.9 0 1 0 3.8 0a1.9 1.9 0 1 0 -3.8 0M157.01 495.33a1.9 1.9 0 1 0 3.8 0a1.9 1.9 0 1 0 -3.8 0M157.51 495.32a1.9 1.9 0 1 0 3.8 0a1.9 1.9 0 1 0 -3.8 0M158.01 495.31a1.9 1.9 0 1 0 3.8 0a1.9 1.9 0 1 0 -3.8 0M158.52 495.3a1.9 1.9 0 1 0 3.8 0a1.9 1.9 0 1 0 -3.8 0M159.02 495.29a1.9 1.9 0 1 0 3.8 0a1.9 1.9 0 1 0 -3.8 0M159.53 495.28a1.9 1.9 0 1 0 3.8 0a1.9 1.9 0 1 0 -3.8 0M160.03 495.27a1.9 1.9 0 1 0 3.8 0a1.9 1.9 0 1 0 -3.8 0M160.53 495.26a1.9 1.9 0 1 0 3.8 0a1.9 1.9 0 1 0 -3.8 0M161.04 495.26a1.9 1.9 0 1 0 3.8 0a1.9 1.9 0 1 0 -3.8 0M161.54 495.25a1.9 1.9 0 1 0 3.8 0a1.9 1.9 0 1 0 -3.8 0M162.05 495.25a1.9 1.9 0 1 0 3.8 0a1.9 1.9 0 1 0 -3.8 0M162.55 495.24a1.9 1.9 0 1 0 3.8 0a1.9 1.9 0 1 0 -3.8 0M163.05 495.24a1.9 1.9 0 1 0 3.8 0a1.9 1.9 0 1 0 -3.8 0M163.56 495.24a1.9 1.9 0 1 0 3.8 0a1.9 1.9 0 1 0 -3.8 0M164.06 495.23a1.9 1.9 0 1 0 3.8 0a1.9 1.9 0 1 0 -3.8 0M164.57 495.23a1.9 1.9 0 1 0 3.8 0a1.9 1.9 0 1 0 -3.8 0M165.07 495.23a1.9 1.9 0 1 0 3.8 0a1.9 1.9 0 1 0 -3.8 0M165.57 495.22a1.9 1.9 0 1 0 3.8 0a1.9 1.9 0 1 0 -3.8 0M166.08 495.22a1.9 1.9 0 1 0 3.8 0a1.9 1.9 0 1 0 -3.8 0M166.58 495.22a1.9 1.9 0 1 0 3.8 0a1.9 1.9 0 1 0 -3.8 0M167.09 495.22a1.9 1.9 0 1 0 3.8 0a1.9 1.9 0 1 0 -3.8 0M167.59 495.22a1.9 1.9 0 1 0 3.8 0a1.9 1.9 0 1 0 -3.8 0M168.09 495.21a1.9 1.9 0 1 0 3.8 0a1.9 1.9 0 1 0 -3.8 0M168.6 495.21a1.9 1.9 0 1 0 3.8 0a1.9 1.9 0 1 0 -3.8 0M169.1 495.21a1.9 1.9 0 1 0 3.8 0a1.9 1.9 0 1 0 -3.8 0M169.61 495.21a1.9 1.9 0 1 0 3.8 0a1.9 1.9 0 1 0 -3.8 0M170.11 495.21a1.9 1.9 0 1 0 3.8 0a1.9 1.9 0 1 0 -3.8 0M170.61 495.21a1.9 1.9 0 1 0 3.8 0a1.9 1.9 0 1 0 -3.8 0M171.12 495.21a1.9 1.9 0 1 0 3.8 0a1.9 1.9 0 1 0 -3.8 0M171.62 495.21a1.9 1.9 0 1 0 3.8 0a1.9 1.9 0 1 0 -3.8 0M172.13 495.21a1.9 1.9 0 1 0 3.8 0a1.9 1.9 0 1 0 -3.8 0M172.63 495.21a1.9 1.9 0 1 0 3.8 0a1.9 1.9 0 1 0 -3.8 0M173.13 495.21a1.9 1.9 0 1 0 3.8 0a1.9 1.9 0 1 0 -3.8 0M173.64 495.2a1.9 1.9 0 1 0 3.8 0a1.9 1.9 0 1 0 -3.8 0M174.14 495.2a1.9 1.9 0 1 0 3.8 0a1.9 1.9 0 1 0 -3.8 0M174.65 495.2a1.9 1.9 0 1 0 3.8 0a1.9 1.9 0 1 0 -3.8 0M175.15 495.2a1.9 1.9 0 1 0 3.8 0a1.9 1.9 0 1 0 -3.8 0M175.65 495.2a1.9 1.9 0 1 0 3.8 0a1.9 1.9 0 1 0 -3.8 0M176.16 495.2a1.9 1.9 0 1 0 3.8 0a1.9 1.9 0 1 0 -3.8 0M176.66 495.2a1.9 1.9 0 1 0 3.8 0a1.9 1.9 0 1 0 -3.8 0M177.17 495.2a1.9 1.9 0 1 0 3.8 0a1.9 1.9 0 1 0 -3.8 0M177.67 495.2a1.9 1.9 0 1 0 3.8 0a1.9 1.9 0 1 0 -3.8 0M178.17 495.2a1.9 1.9 0 1 0 3.8 0a1.9 1.9 0 1 0 -3.8 0M178.68 495.2a1.9 1.9 0 1 0 3.8 0a1.9 1.9 0 1 0 -3.8 0M179.18 495.2a1.9 1.9 0 1 0 3.8 0a1.9 1.9 0 1 0 -3.8 0M179.69 495.2a1.9 1.9 0 1 0 3.8 0a1.9 1.9 0 1 0 -3.8 0M180.19 495.2a1.9 1.9 0 1 0 3.8 0a1.9 1.9 0 1 0 -3.8 0M180.69 495.2a1.9 1.9 0 1 0 3.8 0a1.9 1.9 0 1 0 -3.8 0M181.2 495.2a1.9 1.9 0 1 0 3.8 0a1.9 1.9 0 1 0 -3.8 0M181.7 495.2a1.9 1.9 0 1 0 3.8 0a1.9 1.9 0 1 0 -3.8 0M182.21 495.2a1.9 1.9 0 1 0 3.8 0a1.9 1.9 0 1 0 -3.8 0M182.71 495.2a1.9 1.9 0 1 0 3.8 0a1.9 1.9 0 1 0 -3.8 0M183.21 495.2a1.9 1.9 0 1 0 3.8 0a1.9 1.9 0 1 0 -3.8 0M183.72 495.2a1.9 1.9 0 1 0 3.8 0a1.9 1.9 0 1 0 -3.8 0M184.22 495.2a1.9 1.9 0 1 0 3.8 0a1.9 1.9 0 1 0 -3.8 0M184.73 495.2a1.9 1.9 0 1 0 3.8 0a1.9 1.9 0 1 0 -3.8 0M185.23 495.2a1.9 1.9 0 1 0 3.8 0a1.9 1.9 0 1 0 -3.8 0M185.73 495.2a1.9 1.9 0 1 0 3.8 0a1.9 1.9 0 1 0 -3.8 0M186.24 495.2a1.9 1.9 0 1 0 3.8 0a1.9 1.9 0 1 0 -3.8 0M186.74 495.2a1.9 1.9 0 1 0 3.8 0a1.9 1.9 0 1 0 -3.8 0M187.25 495.2a1.9 1.9 0 1 0 3.8 0a1.9 1.9 0 1 0 -3.8 0M187.75 495.2a1.9 1.9 0 1 0 3.8 0a1.9 1.9 0 1 0 -3.8 0M188.25 495.2a1.9 1.9 0 1 0 3.8 0a1.9 1.9 0 1 0 -3.8 0M188.76 495.2a1.9 1.9 0 1 0 3.8 0a1.9 1.9 0 1 0 -3.8 0M189.26 495.2a1.9 1.9 0 1 0 3.8 0a1.9 1.9 0 1 0 -3.8 0M189.77 495.2a1.9 1.9 0 1 0 3.8 0a1.9 1.9 0 1 0 -3.8 0M190.27 495.2a1.9 1.9 0 1 0 3.8 0a1.9 1.9 0 1 0 -3.8 0M190.77 495.2a1.9 1.9 0 1 0 3.8 0a1.9 1.9 0 1 0 -3.8 0M191.28 495.2a1.9 1.9 0 1 0 3.8 0a1.9 1.9 0 1 0 -3.8 0M191.78 495.2a1.9 1.9 0 1 0 3.8 0a1.9 1.9 0 1 0 -3.8 0M192.29 495.2a1.9 1.9 0 1 0 3.8 0a1.9 1.9 0 1 0 -3.8 0M192.79 495.2a1.9 1.9 0 1 0 3.8 0a1.9 1.9 0 1 0 -3.8 0M193.29 495.2a1.9 1.9 0 1 0 3.8 0a1.9 1.9 0 1 0 -3.8 0M193.8 495.2a1.9 1.9 0 1 0 3.8 0a1.9 1.9 0 1 0 -3.8 0M194.3 495.2a1.9 1.9 0 1 0 3.8 0a1.9 1.9 0 1 0 -3.8 0M194.81 495.2a1.9 1.9 0 1 0 3.8 0a1.9 1.9 0 1 0 -3.8 0M195.31 495.2a1.9 1.9 0 1 0 3.8 0a1.9 1.9 0 1 0 -3.8 0M195.81 495.2a1.9 1.9 0 1 0 3.8 0a1.9 1.9 0 1 0 -3.8 0M196.32 495.2a1.9 1.9 0 1 0 3.8 0a1.9 1.9 0 1 0 -3.8 0M196.82 495.2a1.9 1.9 0 1 0 3.8 0a1.9 1.9 0 1 0 -3.8 0M197.33 495.2a1.9 1.9 0 1 0 3.8 0a1.9 1.9 0 1 0 -3.8 0M197.83 495.2a1.9 1.9 0 1 0 3.8 0a1.9 1.9 0 1 0 -3.8 0M198.33 495.2a1.9 1.9 0 1 0 3.8 0a1.9 1.9 0 1 0 -3.8 0M198.84 495.2a1.9 1.9 0 1 0 3.8 0a1.9 1.9 0 1 0 -3.8 0M199.34 495.2a1.9 1.9 0 1 0 3.8 0a1.9 1.9 0 1 0 -3.8 0M199.85 495.2a1.9 1.9 0 1 0 3.8 0a1.9 1.9 0 1 0 -3.8 0M200.35 495.2a1.9 1.9 0 1 0 3.8 0a1.9 1.9 0 1 0 -3.8 0M200.85 495.2a1.9 1.9 0 1 0 3.8 0a1.9 1.9 0 1 0 -3.8 0M201.36 495.2a1.9 1.9 0 1 0 3.8 0a1.9 1.9 0 1 0 -3.8 0M201.86 495.2a1.9 1.9 0 1 0 3.8 0a1.9 1.9 0 1 0 -3.8 0M202.37 495.2a1.9 1.9 0 1 0 3.8 0a1.9 1.9 0 1 0 -3.8 0M202.87 495.2a1.9 1.9 0 1 0 3.8 0a1.9 1.9 0 1 0 -3.8 0M203.37 495.2a1.9 1.9 0 1 0 3.8 0a1.9 1.9 0 1 0 -3.8 0M203.88 495.2a1.9 1.9 0 1 0 3.8 0a1.9 1.9 0 1 0 -3.8 0M204.38 495.2a1.9 1.9 0 1 0 3.8 0a1.9 1.9 0 1 0 -3.8 0M204.89 495.2a1.9 1.9 0 1 0 3.8 0a1.9 1.9 0 1 0 -3.8 0M205.39 495.2a1.9 1.9 0 1 0 3.8 0a1.9 1.9 0 1 0 -3.8 0M205.89 495.2a1.9 1.9 0 1 0 3.8 0a1.9 1.9 0 1 0 -3.8 0M206.4 495.2a1.9 1.9 0 1 0 3.8 0a1.9 1.9 0 1 0 -3.8 0M206.9 495.2a1.9 1.9 0 1 0 3.8 0a1.9 1.9 0 1 0 -3.8 0M207.41 495.2a1.9 1.9 0 1 0 3.8 0a1.9 1.9 0 1 0 -3.8 0M207.91 495.2a1.9 1.9 0 1 0 3.8 0a1.9 1.9 0 1 0 -3.8 0M208.41 495.2a1.9 1.9 0 1 0 3.8 0a1.9 1.9 0 1 0 -3.8 0M208.92 495.2a1.9 1.9 0 1 0 3.8 0a1.9 1.9 0 1 0 -3.8 0M209.42 495.2a1.9 1.9 0 1 0 3.8 0a1.9 1.9 0 1 0 -3.8 0M209.93 495.2a1.9 1.9 0 1 0 3.8 0a1.9 1.9 0 1 0 -3.8 0M210.43 495.2a1.9 1.9 0 1 0 3.8 0a1.9 1.9 0 1 0 -3.8 0M210.93 495.2a1.9 1.9 0 1 0 3.8 0a1.9 1.9 0 1 0 -3.8 0M211.44 495.2a1.9 1.9 0 1 0 3.8 0a1.9 1.9 0 1 0 -3.8 0M211.94 495.2a1.9 1.9 0 1 0 3.8 0a1.9 1.9 0 1 0 -3.8 0M212.45 495.2a1.9 1.9 0 1 0 3.8 0a1.9 1.9 0 1 0 -3.8 0M212.95 495.2a1.9 1.9 0 1 0 3.8 0a1.9 1.9 0 1 0 -3.8 0M213.45 495.2a1.9 1.9 0 1 0 3.8 0a1.9 1.9 0 1 0 -3.8 0M213.96 495.2a1.9 1.9 0 1 0 3.8 0a1.9 1.9 0 1 0 -3.8 0M214.46 495.2a1.9 1.9 0 1 0 3.8 0a1.9 1.9 0 1 0 -3.8 0M214.97 495.2a1.9 1.9 0 1 0 3.8 0a1.9 1.9 0 1 0 -3.8 0M215.47 495.2a1.9 1.9 0 1 0 3.8 0a1.9 1.9 0 1 0 -3.8 0M215.97 495.2a1.9 1.9 0 1 0 3.8 0a1.9 1.9 0 1 0 -3.8 0M216.48 495.2a1.9 1.9 0 1 0 3.8 0a1.9 1.9 0 1 0 -3.8 0M216.98 495.2a1.9 1.9 0 1 0 3.8 0a1.9 1.9 0 1 0 -3.8 0M217.49 495.2a1.9 1.9 0 1 0 3.8 0a1.9 1.9 0 1 0 -3.8 0M217.99 495.2a1.9 1.9 0 1 0 3.8 0a1.9 1.9 0 1 0 -3.8 0M218.49 495.2a1.9 1.9 0 1 0 3.8 0a1.9 1.9 0 1 0 -3.8 0M219 495.2a1.9 1.9 0 1 0 3.8 0a1.9 1.9 0 1 0 -3.8 0M219.5 495.2a1.9 1.9 0 1 0 3.8 0a1.9 1.9 0 1 0 -3.8 0M220.01 495.2a1.9 1.9 0 1 0 3.8 0a1.9 1.9 0 1 0 -3.8 0M220.51 495.2a1.9 1.9 0 1 0 3.8 0a1.9 1.9 0 1 0 -3.8 0M221.01 495.2a1.9 1.9 0 1 0 3.8 0a1.9 1.9 0 1 0 -3.8 0M221.52 495.2a1.9 1.9 0 1 0 3.8 0a1.9 1.9 0 1 0 -3.8 0M222.02 495.2a1.9 1.9 0 1 0 3.8 0a1.9 1.9 0 1 0 -3.8 0" fill="#0a7a0a"/>
<path d="M130.79 523.14a0.6 0.6 0 1 0 1.2 0a0.6 0.6 0 1 0 -1.2 0M131.29 520.43a0.6 0.6 0 1 0 1.2 0a0.6 0.6 0 1 0 -1.2 0M131.8 517.98a0.6 0.6 0 1 0 1.2 0a0.6 0.6 0 1 0 -1.2 0M132.3 515.77a0.6 0.6 0 1 0 1.2 0a0.6 0.6 0 1 0 -1.2 0M132.81 513.76a0.6 0.6 0 1 0 1.2 0a0.6 0.6 0 1 0 -1.2 0M133.31 511.95a0.6 0.6 0 1 0 1.2 0a0.6 0.6 0 1 0 -1.2 0M133.81 510.31a0.6 0.6 0 1 0 1.2 0a0.6 0.6 0 1 0 -1.2 0M134.32 508.82a0.6 0.6 0 1 0 1.2 0a0.6 0.6 0 1 0 -1.2 0M134.82 507.48a0.6 0.6 0 1 0 1.2 0a0.6 0.6 0 1 0 -1.2 0M135.33 506.26a0.6 0.6 0 1 0 1.2 0a0.6 0.6 0 1 0 -1.2 0M135.83 505.16a0.6 0.6 0 1 0 1.2 0a0.6 0.6 0 1 0 -1.2 0M136.33 504.17a0.6 0.6 0 1 0 1.2 0a0.6 0.6 0 1 0 -1.2 0M136.84 503.26a0.6 0.6 0 1 0 1.2 0a0.6 0.6 0 1 0 -1.2 0M137.34 502.45a0.6 0.6 0 1 0 1.2 0a0.6 0.6 0 1 0 -1.2 0M137.85 501.71a0.6 0.6 0 1 0 1.2 0a0.6 0.6 0 1 0 -1.2 0M138.35 501.04a0.6 0.6 0 1 0 1.2 0a0.6 0.6 0 1 0 -1.2 0M138.85 500.44a0.6 0.6 0 1 0 1.2 0a0.6 0.6 0 1 0 -1.2 0M139.36 499.89a0.6 0.6 0 1 0 1.2 0a0.6 0.6 0 1 0 -1.2 0M139.86 499.4a0.6 0.6 0 1 0 1.2 0a0.6 0.6 0 1 0 -1.2 0M140.37 498.95a0.6 0.6 0 1 0 1.2 0a0.6 0.6 0 1 0 -1.2 0M140.87 498.55a0.6 0.6 0 1 0 1.2 0a0.6 0.6 0 1 0 -1.2 0M141.37 498.18a0.6 0.6 0 1 0 1.2 0a0.6 0.6 0 1 0 -1.2 0M141.88 497.85a0.6 0.6 0 1 0 1.2 0a0.6 0.6 0 1 0 -1.2 0M142.38 497.55a0.6 0.6 0 1 0 1.2 0a0.6 0.6 0 1 0 -1.2 0M142.89 497.28a0.6 0.6 0 1 0 1.2 0a0.6 0.6 0 1 0 -1.2 0M143.39 497.03a0.6 0.6 0 1 0 1.2 0a0.6 0.6 0 1 0 -1.2 0M143.89 496.81a0.6 0.6 0 1 0 1.2 0a0.6 0.6 0 1 0 -1.2 0M144.4 496.61a0.6 0.6 0 1 0 1.2 0a0.6 0.6 0 1 0 -1.2 0M144.9 496.43a0.6 0.6 0 1 0 1.2 0a0.6 0.6 0 1 0 -1.2 0M145.41 496.26a0.6 0.6 0 1 0 1.2 0a0.6 0.6 0 1 0 -1.2 0M145.91 496.12a0.6 0.6 0 1 0 1.2 0a0.6 0.6 0 1 0 -1.2 0M146.41 495.98a0.6 0.6 0 1 0 1.2 0a0.6 0.6 0 1 0 -1.2 0M146.92 495.86a0.6 0.6 0 1 0 1.2 0a0.6 0.6 0 1 0 -1.2 0M147.42 495.75a0.6 0.6 0 1 0 1.2 0a0.6 0.6 0 1 0 -1.2 0M147.93 495.65a0.6 0.6 0 1 0 1.2 0a0.6 0.6 0 1 0 -1.2 0M148.43 495.56a0.6 0.6 0 1 0 1.2 0a0.6 0.6 0 1 0 -1.2 0M148.93 495.48a0.6 0.6 0 1 0 1.2 0a0.6 0.6 0 1 0 -1.2 0M149.44 495.4a0.6 0.6 0 1 0 1.2 0a0.6 0.6 0 1 0 -1.2 0M149.94 495.34a0.6 0.6 0 1 0 1.2 0a0.6 0.6 0 1 0 -1.2 0M150.45 495.28a0.6 0.6 0 1 0 1.2 0a0.6 0.6 0 1 0 -1.2 0M150.95 495.22a0.6 0.6 0 1 0 1.2 0a0.6 0.6 0 1 0 -1.2 0M151.45 495.17a0.6 0.6 0 1 0 1.2 0a0.6 0.6 0 1 0 -1.2 0M151.96 495.13a0.6 0.6 0 1 0 1.2 0a0.6 0.6 0 1 0 -1.2 0M152.46 495.09a0.6 0.6 0 1 0 1.2 0a0.6 0.6 0 1 0 -1.2 0M152.97 495.05a0.6 0.6 0 1 0 1.2 0a0.6 0.6 0 1 0 -1.2 0M153.47 495.02a0.6 0.6 0 1 0 1.2 0a0.6 0.6 0 1 0 -1.2 0M153.97 494.99a0.6 0.6 0 1 0 1.2 0a0.6 0.6 0 1 0 -1.2 0M154.48 494.96a0.6 0.6 0 1 0 1.2 0a0.6 0.6 0 1 0 -1.2 0M154.98 494.93a0.6 0.6 0 1 0 1.2 0a0.6 0.6 0 1 0 -1.2 0M155.49 494.91a0.6 0.6 0 1 0 1.2 0a0.6 0.6 0 1 0 -1.2 0M155.99 494.89a0.6 0.6 0 1 0 1.2 0a0.6 0.6 0 1 0 -1.2 0M156.49 494.87a0.6 0.6 0 1 0 1.2 0a0.6 0.6 0 1 0 -1.2 0M157 494.86a0.6 0.6 0 1 0 1.2 0a0.6 0.6 0 1 0 -1.2 0M157.5 494.84a0.6 0.6 0 1 0 1.2 0a0.6 0.6 0 1 0 -1.2 0M158.01 494.83a0.6 0.6 0 1 0 1.2 0a0.6 0.6 0 1 0 -1.2 0M158.51 494.82a0.6 0.6 0 1 0 1.2 0a0.6 0.6 0 1 0 -1.2 0M159.01 494.81a0.6 0.6 0 1 0 1.2 0a0.6 0.6 0 1 0 -1.2 0M159.52 494.8a0.6 0.6 0 1 0 1.2 0a0.6 0.6 0 1 0 -1.2 0M160.02 494.79a0.6 0.6 0 1 0 1.2 0a0.6 0.6 0 1 0 -1.2 0M160.53 494.78a0.6 0.6 0 1 0 1.2 0a0.6 0.6 0 1 0 -1.2 0M161.03 494.77a0.6 0.6 0 1 0 1.2 0a0.6 0.6 0 1 0 -1.2 0M161.53 494.76a0.6 0.6 0 1 0 1.2 0a0.6 0.6 0 1 0 -1.2 0M162.04 494.76a0.6 0.6 0 1 0 1.2 0a0.6 0.6 0 1 0 -1.2 0M162.54 494.75a0.6 0.6 0 1 0 1.2 0a0.6 0.6 0 1 0 -1.2 0M163.05 494.75a0.6 0.6 0 1 0 1.2 0a0.6 0.6 0 1 0 -1.2 0M163.55 494.74a0.6 0.6 0 1 0 1.2 0a0.6 0.6 0 1 0 -1.2 0M164.05 494.74a0.6 0.6 0 1 0 1.2 0a0.6 0.6 0 1 0 -1.2 0M164.56 494.74a0.6 0.6 0 1 0 1.2 0a0.6 0.6 0 1 0 -1.2 0M165.06 494.73a0.6 0.6 0 1 0 1.2 0a0.6 0.6 0 1 0 -1.2 0M165.57 494.73a0.6 0.6 0 1 0 1.2 0a0.6 0.6 0 1 0 -1.2 0M166.07 494.73a0.6 0.6 0 1 0 1.2 0a0.6 0.6 0 1 0 -1.2 0M166.57 494.72a0.6 0.6 0 1 0 1.2 0a0.6 0.6 0 1 0 -1.2 0M167.08 494.72a0.6 0.6 0 1 0 1.2 0a0.6 0.6 0 1 0 -1.2 0M167.58 494.72a0.6 0.6 0 1 0 1.2 0a0.6 0.6 0 1 0 -1.2 0M168.09 494.72a0.6 0.6 0 1 0 1.2 0a0.6 0.6 0 1 0 -1.2 0M168.59 494.72a0.6 0.6 0 1 0 1.2 0a0.6 0.6 0 1 0 -1.2 0M169.09 494.71a0.6 0.6 0 1 0 1.2 0a0.6 0.6 0 1 0 -1.2 0M169.6 494.71a0.6 0.6 0 1 0 1.2 0a0.6 0.6 0 1 0 -1.2 0M170.1 494.71a0.6 0.6 0 1 0 1.2 0a0.6 0.6 0 1 0 -1.2 0M170.61 494.71a0.6 0.6 0 1 0 1.2 0a0.6 0.6 0 1 0 -1.2 0M171.11 494.71a0.6 0.6 0 1 0 1.2 0a0.6 0.6 0 1 0 -1.2 0M171.61 494.71a0.6 0.6 0 1 0 1.2 0a0.6 0.6 0 1 0 -1.2 0M172.12 494.71a0.6 0.6 0 1 0 1.2 0a0.6 0.6 0 1 0 -1.2 0M172.62 494.71a0.6 0.6 0 1 0 1.2 0a0.6 0.6 0 1 0 -1.2 0M173.13 494.71a0.6 0.6 0 1 0 1.2 0a0.6 0.6 0 1 0 -1.2 0M173.63 494.71a0.6 0.6 0 1 0 1.2 0a0.6 0.6 0 1 0 -1.2 0M174.13 494.71a0.6 0.6 0 1 0 1.2 0a0.6 0.6 0 1 0 -1.2 0M174.64 494.7a0.6 0.6 0 1 0 1.2 0a0.6 0.6 0 1 0 -1.2 0M175.14 494.7a0.6 0.6 0 1 0 1.2 0a0.6 0.6 0 1 0 -1.2 0M175.65 494.7a0.6 0.6 0 1 0 1.2 0a0.6 0.6 0 1 0 -1.2 0M176.15 494.7a0.6 0.6 0 1 0 1.2 0a0.6 0.6 0 1 0 -1.2 0M176.65 494.7a0.6 0.6 0 1 0 1.2 0a0.6 0.6 0 1 0 -1.2 0M177.16 494.7a0.6 0.6 0 1 0 1.2 0a0.6 0.6 0 1 0 -1.2 0M177.66 494.7a0.6 0.6 0 1 0 1.2 0a0.6 0.6 0 1 0 -1.2 0M178.17 494.7a0.6 0.6 0 1 0 1.2 0a0.6 0.6 0 1 0 -1.2 0M178.67 494.7a0.6 0.6 0 1 0 1.2 0a0.6 0.6 0 1 0 -1.2 0M179.17 494.7a0.6 0.6 0 1 0 1.2 0a0.6 0.6 0 1 0 -1.2 0M179.68 494.7a0.6 0.6 0 1 0 1.2 0a0.6 0.6 0 1 0 -1.2 0M180.18 494.7a0.6 0.6 0 1 0 1.2 0a0.6 0.6 0 1 0 -1.2 0M180.69 494.7a0.6 0.6 0 1 0 1.2 0a0.6 0.6 0 1 0 -1.2 0M181.19 494.7a0.6 0.6 0 1 0 1.2 0a0.6 0.6 0 1 0 -1.2 0M181.69 494.7a0.6 0.6 0 1 0 1.2 0a0.6 0.6 0 1 0 -1.2 0M182.2 494.7a0.6 0.6 0 1 0 1.2 0a0.6 0.6 0 1 0 -1.2 0M182.7 494.7a0.6 0.6 0 1 0 1.2 0a0.6 0.6 0 1 0 -1.2 0M183.21 494.7a0.6 0.6 0 1 0 1.2 0a0.6 0.6 0 1 0 -1.2 0M183.71 494.7a0.6 0.6 0 1 0 1.2 0a0.6 0.6 0 1 0 -1.2 0M184.21 494.7a0.6 0.6 0 1 0 1.2 0a0.6 0.6 0 1 0 -1.2 0M184.72 494.7a0.6 0.6 0 1 0 1.2 0a0.6 0.6 0 1 0 -1.2 0M185.22 494.7a0.6 0.6 0 1 0 1.2 0a0.6 0.6 0 1 0 -1.2 0M185.73 494.7a0.6 0.6 0 1 0 1.2 0a0.6 0.6 0 1 0 -1.2 0M186.23 494.7a0.6 0.6 0 1 0 1.2 0a0.6 0.6 0 1 0 -1.2 0M186.73 494.7a0.6 0.6 0 1 0 1.2 0a0.6 0.6 0 1 0 -1.2 0M187.24 494.7a0.6 0.6 0 1 0 1.2 0a0.6 0.6 0 1 0 -1.2 0M187.74 494.7a0.6 0.6 0 1 0 1.2 0a0.6 0.6 0 1 0 -1.2 0M188.25 494.7a0.6 0.6 0 1 0 1.2 0a0.6 0.6 0 1 0 -1.2 0M188.75 494.7a0.6 0.6 0 1 0 1.2 0a0.6 0.6 0 1 0 -1.2 0M189.25 494.7a0.6 0.6 0 1 0 1.2 0a0.6 0.6 0 1 0 -1.2 0M189.76 494.7a0.6 0.6 0 1 0 1.2 0a0.6 0.6 0 1 0 -1.2 0M190.26 494.7a0.6 0.6 0 1 0 1.2 0a0.6 0.6 0 1 0 -1.2 0M190.77 494.7a0.6 0.6 0 1 0 1.2 0a0.6 0.6 0 1 0 -1.2 0M191.27 494.7a0.6 0.6 0 1 0 1.2 0a0.6 0.6 0 1 0 -1.2 0M191.77 494.7a0.6 0.6 0 1 0 1.2 0a0.6 0.6 0 1 0 -1.2 0M192.28 494.7a0.6 0.6 0 1 0 1.2 0a0.6 0.6 0 1 0 -1.2 0M192.78 494.7a0.6 0.6 0 1 0 1.2 0a0.6 0.6 0 1 0 -1.2 0M193.29 494.7a0.6 0.6 0 1 0 1.2 0a0.6 0.6 0 1 0 -1.2 0M193.79 494.7a0.6 0.6 0 1 0 1.2 0a0.6 0.6 0 1 0 -1.2 0M194.29 494.7a0.6 0.6 0 1 0 1.2 0a0.6 0.6 0 1 0 -1.2 0M194.8 494.7a0.6 0.6 0 1 0 1.2 0a0.6 0.6 0 1 0 -1.2 0M195.3 494.7a0.6 0.6 0 1 0 1.2 0a0.6 0.6 0 1 0 -1.2 0M195.81 494.7a0.6 0.6 0 1 0 1.2 0a0.6 0.6 0 1 0 -1.2 0M196.31 494.7a0.6 0.6 0 1 0 1.2 0a0.6 0.6 0 1 0 -1.2 0M196.81 494.7a0.6 0.6 0 1 0 1.2 0a0.6 0.6 0 1 0 -1.2 0M197.32 494.7a0.6 0.6 0 1 0 1.2 0a0.6 0.6 0 1 0 -1.2 0M197.82 494.7a0.6 0.6 0 1 0 1.2 0a0.6 0.6 0 1 0 -1.2 0M198.33 494.7a0.6 0.6 0 1 0 1.2 0a0.6 0.6 0 1 0 -1.2 0M198.83 494.7a0.6 0.6 0 1 0 1.2 0a0.6 0.6 0 1 0 -1.2 0M199.33 494.7a0.6 0.6 0 1 0 1.2 0a0.6 0.6 0 1 0 -1.2 0M199.84 494.7a0.6 0.6 0 1 0 1.2 0a0.6 0.6 0 1 0 -1.2 0M200.34 494.7a0.6 0.6 0 1 0 1.2 0a0.6 0.6 0 1 0 -1.2 0M200.85 494.7a0.6 0.6 0 1 0 1.2 0a0.6 0.6 0 1 0 -1.2 0M201.35 494.7a0.6 0.6 0 1 0 1.2 0a0.6 0.6 0 1 0 -1.2 0M201.85 494.7a0.6 0.6 0 1 0 1.2 0a0.6 0.6 0 1 0 -1.2 0M202.36 494.7a0.6 0.6 0 1 0 1.2 0a0.6 0.6 0 1 0 -1.2 0M202.86 494.7a0.6 0.6 0 1 0 1.2 0a0.6 0.6 0 1 0 -1.2 0M203.37 494.7a0.6 0.6 0 1 0 1.2 0a0.6 0.6 0 1 0 -1.2 0M203.87 494.7a0.6 0.6 0 1 0 1.2 0a0.6 0.6 0 1 0 -1.2 0M204.37 494.7a0.6 0.6 0 1 0 1.2 0a0.6 0.6 0 1 0 -1.2 0M204.88 494.7a0.6 0.6 0 1 0 1.2 0a0.6 0.6 0 1 0 -1.2 0M205.38 494.7a0.6 0.6 0 1 0 1.2 0a0.6 0.6 0 1 0 -1.2 0M205.89 494.7a0.6 0.6 0 1 0 1.2 0a0.6 0.6 0 1 0 -1.2 0M206.39 494.7a0.6 0.6 0 1 0 1.2 0a0.6 0.6 0 1 0 -1.2 0M206.89 494.7a0.6 0.6 0 1 0 1.2 0a0.6 0.6 0 1 0 -1.2 0M207.4 494.7a0.6 0.6 0 1 0 1.2 0a0.6 0.6 0 1 0 -1.2 0M207.9 494.7a0.6 0.6 0 1 0 1.2 0a0.6 0.6 0 1 0 -1.2 0M208.41 494.7a0.6 0.6 0 1 0 1.2 0a0.6 0.6 0 1 0 -1.2 0M208.91 494.7a0.6 0.6 0 1 0 1.2 0a0.6 0.6 0 1 0 -1.2 0M209.41 494.7a0.6 0.6 0 1 0 1.2 0a0.6 0.6 0 1 0 -1.2 0M209.92 494.7a0.6 0.6 0 1 0 1.2 0a0.6 0.6 0 1 0 -1.2 0M210.42 494.7a0.6 0.6 0 1 0 1.2 0a0.6 0.6 0 1 0 -1.2 0M210.93 494.7a0.6 0.6 0 1 0 1.2 0a0.6 0.6 0 1 0 -1.2 0M211.43 494.7a0.6 0.6 0 1 0 1.2 0a0.6 0.6 0 1 0 -1.2 0M211.93 494.7a0.6 0.6 0 1 0 1.2 0a0.6 0.6 0 1 0 -1.2 0M212.44 494.7a0.6 0.6 0 1 0 1.2 0a0.6 0.6 0 1 0 -1.2 0M212.94 494.7a0.6 0.6 0 1 0 1.2 0a0.6 0.6 0 1 0 -1.2 0M213.45 494.7a0.6 0.6 0 1 0 1.2 0a0.6 0.6 0 1 0 -1.2 0M213.95 494.7a0.6 0.6 0 1 0 1.2 0a0.6 0.6 0 1 0 -1.2 0M214.45 494.7a0.6 0.6 0 1 0 1.2 0a0.6 0.6 0 1 0 -1.2 0M214.96 494.7a0.6 0.6 0 1 0 1.2 0a0.6 0.6 0 1 0 -1.2 0M215.46 494.7a0.6 0.6 0 1 0 1.2 0a0.6 0.6 0 1 0 -1.2 0M215.97 494.7a0.6 0.6 0 1 0 1.2 0a0.6 0.6 0 1 0 -1.2 0M216.47 494.7a0.6 0.6 0 1 0 1.2 0a0.6 0.6 0 1 0 -1.2 0M216.97 494.7a0.6 0.6 0 1 0 1.2 0a0.6 0.6 0 1 0 -1.2 0M217.48 494.7a0.6 0.6 0 1 0 1.2 0a0.6 0.6 0 1 0 -1.2 0M217.98 494.7a0.6 0.6 0 1 0 1.2 0a0.6 0.6 0 1 0 -1.2 0M218.49 494.7a0.6 0.6 0 1 0 1.2 0a0.6 0.6 0 1 0 -1.2 0M218.99 494.7a0.6 0.6 0 1 0 1.2 0a0.6 0.6 0 1 0 -1.2 0M219.49 494.7a0.6 0.6 0 1 0 1.2 0a0.6 0.6 0 1 0 -1.2 0M220 494.7a0.6 0.6 0 1 0 1.2 0a0.6 0.6 0 1 0 -1.2 0M220.5 494.7a0.6 0.6 0 1 0 1.2 0a0.6 0.6 0 1 0 -1.2 0M221.01 494.7a0.6 0.6 0 1 0 1.2 0a0.6 0.6 0 1 0 -1.2 0M221.51 494.7a0.6 0.6 0 1 0 1.2 0a0.6 0.6 0 1 0 -1.2 0M222.01 494.7a0.6 0.6 0 1 0 1.2 0a0.6 0.6 0 1 0 -1.2 0M222.52 494.7a0.6 0.6 0 1 0 1.2 0a0.6 0.6 0 1 0 -1.2 0M223.02 494.7a0.6 0.6 0 1 0 1.2 0a0.6 0.6 0 1 0 -1.2 0" fill="#b0e0b0" opacity="0.5"/>
<path d="M223.03 506.2a1.9 1.9 0 1 0 3.8 0a1.9 1.9 0 1 0 -3.8 0M223.03 511.8a1.9 1.9 0 1 0 3.8 0a1.9 1.9 0 1 0 -3.8 0M223.03 519.5a1.9 1.9 0 1 0 3.8 0a1.9 1.9 0 1 0 -3.8 0" fill="#0a7a0a"/>
<path d="M223.88 533.35a2 2 0 1 0 4 0a2 2 0 1 0 -4 0M224.25 534.33a2 2 0 1 0 4 0a2 2 0 1 0 -4 0M224.63 535.22a2 2 0 1 0 4 0a2 2 0 1 0 -4 0M225.01 536.05a2 2 0 1 0 4 0a2 2 0 1 0 -4 0M225.39 536.8a2 2 0 1 0 4 0a2 2 0 1 0 -4 0M225.76 537.49a2 2 0 1 0 4 0a2 2 0 1 0 -4 0M226.14 538.13a2 2 0 1 0 4 0a2 2 0 1 0 -4 0M226.52 538.72a2 2 0 1 0 4 0a2 2 0 1 0 -4 0M226.9 539.26a2 2 0 1 0 4 0a2 2 0 1 0 -4 0M227.28 539.76a2 2 0 1 0 4 0a2 2 0 1 0 -4 0M227.65 540.23a2 2 0 1 0 4 0a2 2 0 1 0 -4 0M228.03 540.66a2 2 0 1 0 4 0a2 2 0 1 0 -4 0M228.41 541.06a2 2 0 1 0 4 0a2 2 0 1 0 -4 0M228.79 541.43a2 2 0 1 0 4 0a2 2 0 1 0 -4 0M229.17 541.77a2 2 0 1 0 4 0a2 2 0 1 0 -4 0M229.54 542.09a2 2 0 1 0 4 0a2 2 0 1 0 -4 0M229.92 542.39a2 2 0 1 0 4 0a2 2 0 1 0 -4 0M230.3 542.67a2 2 0 1 0 4 0a2 2 0 1 0 -4 0M230.68 542.93a2 2 0 1 0 4 0a2 2 0 1 0 -4 0M231.06 543.18a2 2 0 1 0 4 0a2 2 0 1 0 -4 0M231.44 543.41a2 2 0 1 0 4 0a2 2 0 1 0 -4 0M231.81 543.63a2 2 0 1 0 4 0a2 2 0 1 0 -4 0M232.19 543.83a2 2 0 1 0 4 0a2 2 0 1 0 -4 0M232.57 544.03a2 2 0 1 0 4 0a2 2 0 1 0 -4 0M232.95 544.21a2 2 0 1 0 4 0a2 2 0 1 0 -4 0M233.32 544.39a2 2 0 1 0 4 0a2 2 0 1 0 -4 0M233.7 544.55a2 2 0 1 0 4 0a2 2 0 1 0 -4 0M234.08 544.71a2 2 0 1 0 4 0a2 2 0 1 0 -4 0M234.46 544.86a2 2 0 1 0 4 0a2 2 0 1 0 -4 0M234.84 545a2 2 0 1 0 4 0a2 2 0 1 0 -4 0M235.21 545.13a2 2 0 1 0 4 0a2 2 0 1 0 -4 0M235.59 545.26a2 2 0 1 0 4 0a2 2 0 1 0 -4 0M235.97 545.39a2 2 0 1 0 4 0a2 2 0 1 0 -4 0M236.35 545.51a2 2 0 1 0 4 0a2 2 0 1 0 -4 0M236.73 545.62a2 2 0 1 0 4 0a2 2 0 1 0 -4 0M237.1 545.73a2 2 0 1 0 4 0a2 2 0 1 0 -4 0M237.48 545.84a2 2 0 1 0 4 0a2 2 0 1 0 -4 0M237.86 545.94a2 2 0 1 0 4 0a2 2 0 1 0 -4 0M238.24 546.04a2 2 0 1 0 4 0a2 2 0 1 0 -4 0M238.62 546.14a2 2 0 1 0 4 0a2 2 0 1 0 -4 0M239 546.23a2 2 0 1 0 4 0a2 2 0 1 0 -4 0M239.37 546.32a2 2 0 1 0 4 0a2 2 0 1 0 -4 0M239.75 546.41a2 2 0 1 0 4 0a2 2 0 1 0 -4 0M240.13 546.49a2 2 0 1 0 4 0a2 2 0 1 0 -4 0M240.51 546.58a2 2 0 1 0 4 0a2 2 0 1 0 -4 0M240.88 546.66a2 2 0 1 0 4 0a2 2 0 1 0 -4 0M241.26 546.73a2 2 0 1 0 4 0a2 2 0 1 0 -4 0M241.64 546.81a2 2 0 1 0 4 0a2 2 0 1 0 -4 0M242.02 546.88a2 2 0 1 0 4 0a2 2 0 1 0 -4 0M242.4 546.96a2 2 0 1 0 4 0a2 2 0 1 0 -4 0M242.77 547.03a2 2 0 1 0 4 0a2 2 0 1 0 -4 0M243.15 547.1a2 2 0 1 0 4 0a2 2 0 1 0 -4 0M243.53 547.16a2 2 0 1 0 4 0a2 2 0 1 0 -4 0M243.91 547.23a2 2 0 1 0 4 0a2 2 0 1 0 -4 0M244.29 547.29a2 2 0 1 0 4 0a2 2 0 1 0 -4 0M244.67 547.36a2 2 0 1 0 4 0a2 2 0 1 0 -4 0M245.04 547.42a2 2 0 1 0 4 0a2 2 0 1 0 -4 0M245.42 547.48a2 2 0 1 0 4 0a2 2 0 1 0 -4 0M245.8 547.54a2 2 0 1 0 4 0a2 2 0 1 0 -4 0M246.18 547.59a2 2 0 1 0 4 0a2 2 0 1 0 -4 0M246.56 547.65a2 2 0 1 0 4 0a2 2 0 1 0 -4 0M246.93 547.7a2 2 0 1 0 4 0a2 2 0 1 0 -4 0M247.31 547.76a2 2 0 1 0 4 0a2 2 0 1 0 -4 0M247.69 547.81a2 2 0 1 0 4 0a2 2 0 1 0 -4 0M248.07 547.86a2 2 0 1 0 4 0a2 2 0 1 0 -4 0M248.44 547.92a2 2 0 1 0 4 0a2 2 0 1 0 -4 0M248.82 547.97a2 2 0 1 0 4 0a2 2 0 1 0 -4 0M249.2 548.01a2 2 0 1 0 4 0a2 2 0 1 0 -4 0M249.58 548.06a2 2 0 1 0 4 0a2 2 0 1 0 -4 0M249.96 548.11a2 2 0 1 0 4 0a2 2 0 1 0 -4 0M250.33 548.16a2 2 0 1 0 4 0a2 2 0 1 0 -4 0M250.71 548.2a2 2 0 1 0 4 0a2 2 0 1 0 -4 0M251.09 548.25a2 2 0 1 0 4 0a2 2 0 1 0 -4 0M251.47 548.29a2 2 0 1 0 4 0a2 2 0 1 0 -4 0M251.85 548.33a2 2 0 1 0 4 0a2 2 0 1 0 -4 0M252.23 548.38a2 2 0 1 0 4 0a2 2 0 1 0 -4 0M252.6 548.42a2 2 0 1 0 4 0a2 2 0 1 0 -4 0M252.98 548.46a2 2 0 1 0 4 0a2 2 0 1 0 -4 0M253.36 548.5a2 2 0 1 0 4 0a2 2 0 1 0 -4 0M253.74 548.54a2 2 0 1 0 4 0a2 2 0 1 0 -4 0M254.12 548.58a2 2 0 1 0 4 0a2 2 0 1 0 -4 0M254.49 548.61a2 2 0 1 0 4 0a2 2 0 1 0 -4 0M254.87 548.65a2 2 0 1 0 4 0a2 2 0 1 0 -4 0M255.25 548.69a2 2 0 1 0 4 0a2 2 0 1 0 -4 0M255.63 548.72a2 2 0 1 0 4 0a2 2 0 1 0 -4 0M256 548.76a2 2 0 1 0 4 0a2 2 0 1 0 -4 0M256.38 548.79a2 2 0 1 0 4 0a2 2 0 1 0 -4 0M256.76 548.83a2 2 0 1 0 4 0a2 2 0 1 0 -4 0M257.14 548.86a2 2 0 1 0 4 0a2 2 0 1 0 -4 0M257.52 548.9a2 2 0 1 0 4 0a2 2 0 1 0 -4 0M257.89 548.93a2 2 0 1 0 4 0a2 2 0 1 0 -4 0M258.27 548.96a2 2 0 1 0 4 0a2 2 0 1 0 -4 0M258.65 548.99a2 2 0 1 0 4 0a2 2 0 1 0 -4 0M259.03 549.02a2 2 0 1 0 4 0a2 2 0 1 0 -4 0M259.41 549.05a2 2 0 1 0 4 0a2 2 0 1 0 -4 0M259.78 549.08a2 2 0 1 0 4 0a2 2 0 1 0 -4 0M260.16 549.11a2 2 0 1 0 4 0a2 2 0 1 0 -4 0M260.54 549.14a2 2 0 1 0 4 0a2 2 0 1 0 -4 0M260.92 549.17a2 2 0 1 0 4 0a2 2 0 1 0 -4 0M261.3 549.2a2 2 0 1 0 4 0a2 2 0 1 0 -4 0M261.68 549.22a2 2 0 1 0 4 0a2 2 0 1 0 -4 0M262.05 549.25a2 2 0 1 0 4 0a2 2 0 1 0 -4 0M262.43 549.28a2 2 0 1 0 4 0a2 2 0 1 0 -4 0M262.81 549.3a2 2 0 1 0 4 0a2 2 0 1 0 -4 0M263.19 549.33a2 2 0 1 0 4 0a2 2 0 1 0 -4 0M263.56 549.35a2 2 0 1 0 4 0a2 2 0 1 0 -4 0M263.94 549.38a2 2 0 1 0 4 0a2 2 0 1 0 -4 0M264.32 549.4a2 2 0 1 0 4 0a2 2 0 1 0 -4 0M264.7 549.43a2 2 0 1 0 4 0a2 2 0 1 0 -4 0M265.08 549.45a2 2 0 1 0 4 0a2 2 0 1 0 -4 0M265.45 549.47a2 2 0 1 0 4 0a2 2 0 1 0 -4 0M265.83 549.49a2 2 0 1 0 4 0a2 2 0 1 0 -4 0M266.21 549.52a2 2 0 1 0 4 0a2 2 0 1 0 -4 0M266.59 549.54a2 2 0 1 0 4 0a2 2 0 1 0 -4 0M266.97 549.56a2 2 0 1 0 4 0a2 2 0 1 0 -4 0M267.34 549.58a2 2 0 1 0 4 0a2 2 0 1 0 -4 0M267.72 549.6a2 2 0 1 0 4 0a2 2 0 1 0 -4 0M268.1 549.62a2 2 0 1 0 4 0a2 2 0 1 0 -4 0M268.48 549.64a2 2 0 1 0 4 0a2 2 0 1 0 -4 0M268.86 549.66a2 2 0 1 0 4 0a2 2 0 1 0 -4 0M269.24 549.68a2 2 0 1 0 4 0a2 2 0 1 0 -4 0M269.61 549.7a2 2 0 1 0 4 0a2 2 0 1 0 -4 0M269.99 549.72a2 2 0 1 0 4 0a2 2 0 1 0 -4 0M270.37 549.74a2 2 0 1 0 4 0a2 2 0 1 0 -4 0M270.75 549.76a2 2 0 1 0 4 0a2 2 0 1 0 -4 0M271.12 549.77a2 2 0 1 0 4 0a2 2 0 1 0 -4 0M271.5 549.79a2 2 0 1 0 4 0a2 2 0 1 0 -4 0M271.88 549.81a2 2 0 1 0 4 0a2 2 0 1 0 -4 0M272.26 549.82a2 2 0 1 0 4 0a2 2 0 1 0 -4 0M272.64 549.84a2 2 0 1 0 4 0a2 2 0 1 0 -4 0M273.01 549.86a2 2 0 1 0 4 0a2 2 0 1 0 -4 0M273.39 549.87a2 2 0 1 0 4 0a2 2 0 1 0 -4 0M273.77 549.89a2 2 0 1 0 4 0a2 2 0 1 0 -4 0M274.15 549.9a2 2 0 1 0 4 0a2 2 0 1 0 -4 0M274.53 549.92a2 2 0 1 0 4 0a2 2 0 1 0 -4 0M274.9 549.93a2 2 0 1 0 4 0a2 2 0 1 0 -4 0M275.28 549.95a2 2 0 1 0 4 0a2 2 0 1 0 -4 0M275.66 549.96a2 2 0 1 0 4 0a2 2 0 1 0 -4 0M276.04 549.98a2 2 0 1 0 4 0a2 2 0 1 0 -4 0M276.42 549.99a2 2 0 1 0 4 0a2 2 0 1 0 -4 0M276.79 550.01a2 2 0 1 0 4 0a2 2 0 1 0 -4 0M277.17 550.02a2 2 0 1 0 4 0a2 2 0 1 0 -4 0M277.55 550.03a2 2 0 1 0 4 0a2 2 0 1 0 -4 0M277.93 550.05a2 2 0 1 0 4 0a2 2 0 1 0 -4 0M278.31 550.06a2 2 0 1 0 4 0a2 2 0 1 0 -4 0M278.69 550.07a2 2 0 1 0 4 0a2 2 0 1 0 -4 0M279.06 550.08a2 2 0 1 0 4 0a2 2 0 1 0 -4 0M279.44 550.1a2 2 0 1 0 4 0a2 2 0 1 0 -4 0M279.82 550.11a2 2 0 1 0 4 0a2 2 0 1 0 -4 0M280.2 550.12a2 2 0 1 0 4 0a2 2 0 1 0 -4 0M280.57 550.13a2 2 0 1 0 4 0a2 2 0 1 0 -4 0M280.95 550.14a2 2 0 1 0 4 0a2 2 0 1 0 -4 0M281.33 550.15a2 2 0 1 0 4 0a2 2 0 1 0 -4 0M281.71 550.16a2 2 0 1 0 4 0a2 2 0 1 0 -4 0M282.09 550.18a2 2 0 1 0 4 0a2 2 0 1 0 -4 0M282.46 550.19a2 2 0 1 0 4 0a2 2 0 1 0 -4 0M282.84 550.2a2 2 0 1 0 4 0a2 2 0 1 0 -4 0M283.22 550.21a2 2 0 1 0 4 0a2 2 0 1 0 -4 0M283.6 550.22a2 2 0 1 0 4 0a2 2 0 1 0 -4 0M283.98 550.23a2 2 0 1 0 4 0a2 2 0 1 0 -4 0M284.35 550.24a2 2 0 1 0 4 0a2 2 0 1 0 -4 0M284.73 550.25a2 2 0 1 0 4 0a2 2 0 1 0 -4 0M285.11 550.26a2 2 0 1 0 4 0a2 2 0 1 0 -4 0" fill="#0a7a0a"/>
<path d="M224.88 532.85a0.8 0.8 0 1 0 1.6 0a0.8 0.8 0 1 0 -1.6 0M225.25 533.83a0.8 0.8 0 1 0 1.6 0a0.8 0.8 0 1 0 -1.6 0M225.63 534.72a0.8 0.8 0 1 0 1.6 0a0.8 0.8 0 1 0 -1.6 0M226.01 535.55a0.8 0.8 0 1 0 1.6 0a0.8 0.8 0 1 0 -1.6 0M226.39 536.3a0.8 0.8 0 1 0 1.6 0a0.8 0.8 0 1 0 -1.6 0M226.76 536.99a0.8 0.8 0 1 0 1.6 0a0.8 0.8 0 1 0 -1.6 0M227.14 537.63a0.8 0.8 0 1 0 1.6 0a0.8 0.8 0 1 0 -1.6 0M227.52 538.22a0.8 0.8 0 1 0 1.6 0a0.8 0.8 0 1 0 -1.6 0M227.9 538.76a0.8 0.8 0 1 0 1.6 0a0.8 0.8 0 1 0 -1.6 0M228.28 539.26a0.8 0.8 0 1 0 1.6 0a0.8 0.8 0 1 0 -1.6 0M228.65 539.73a0.8 0.8 0 1 0 1.6 0a0.8 0.8 0 1 0 -1.6 0M229.03 540.16a0.8 0.8 0 1 0 1.6 0a0.8 0.8 0 1 0 -1.6 0M229.41 540.56a0.8 0.8 0 1 0 1.6 0a0.8 0.8 0 1 0 -1.6 0M229.79 540.93a0.8 0.8 0 1 0 1.6 0a0.8 0.8 0 1 0 -1.6 0M230.17 541.27a0.8 0.8 0 1 0 1.6 0a0.8 0.8 0 1 0 -1.6 0M230.54 541.59a0.8 0.8 0 1 0 1.6 0a0.8 0.8 0 1 0 -1.6 0M230.92 541.89a0.8 0.8 0 1 0 1.6 0a0.8 0.8 0 1 0 -1.6 0M231.3 542.17a0.8 0.8 0 1 0 1.6 0a0.8 0.8 0 1 0 -1.6 0M231.68 542.43a0.8 0.8 0 1 0 1.6 0a0.8 0.8 0 1 0 -1.6 0M232.06 542.68a0.8 0.8 0 1 0 1.6 0a0.8 0.8 0 1 0 -1.6 0M232.44 542.91a0.8 0.8 0 1 0 1.6 0a0.8 0.8 0 1 0 -1.6 0M232.81 543.13a0.8 0.8 0 1 0 1.6 0a0.8 0.8 0 1 0 -1.6 0M233.19 543.33a0.8 0.8 0 1 0 1.6 0a0.8 0.8 0 1 0 -1.6 0M233.57 543.53a0.8 0.8 0 1 0 1.6 0a0.8 0.8 0 1 0 -1.6 0M233.95 543.71a0.8 0.8 0 1 0 1.6 0a0.8 0.8 0 1 0 -1.6 0M234.32 543.89a0.8 0.8 0 1 0 1.6 0a0.8 0.8 0 1 0 -1.6 0M234.7 544.05a0.8 0.8 0 1 0 1.6 0a0.8 0.8 0 1 0 -1.6 0M235.08 544.21a0.8 0.8 0 1 0 1.6 0a0.8 0.8 0 1 0 -1.6 0M235.46 544.36a0.8 0.8 0 1 0 1.6 0a0.8 0.8 0 1 0 -1.6 0M235.84 544.5a0.8 0.8 0 1 0 1.6 0a0.8 0.8 0 1 0 -1.6 0M236.21 544.63a0.8 0.8 0 1 0 1.6 0a0.8 0.8 0 1 0 -1.6 0M236.59 544.76a0.8 0.8 0 1 0 1.6 0a0.8 0.8 0 1 0 -1.6 0M236.97 544.89a0.8 0.8 0 1 0 1.6 0a0.8 0.8 0 1 0 -1.6 0M237.35 545.01a0.8 0.8 0 1 0 1.6 0a0.8 0.8 0 1 0 -1.6 0M237.73 545.12a0.8 0.8 0 1 0 1.6 0a0.8 0.8 0 1 0 -1.6 0M238.1 545.23a0.8 0.8 0 1 0 1.6 0a0.8 0.8 0 1 0 -1.6 0M238.48 545.34a0.8 0.8 0 1 0 1.6 0a0.8 0.8 0 1 0 -1.6 0M238.86 545.44a0.8 0.8 0 1 0 1.6 0a0.8 0.8 0 1 0 -1.6 0M239.24 545.54a0.8 0.8 0 1 0 1.6 0a0.8 0.8 0 1 0 -1.6 0M239.62 545.64a0.8 0.8 0 1 0 1.6 0a0.8 0.8 0 1 0 -1.6 0M240 545.73a0.8 0.8 0 1 0 1.6 0a0.8 0.8 0 1 0 -1.6 0M240.37 545.82a0.8 0.8 0 1 0 1.6 0a0.8 0.8 0 1 0 -1.6 0M240.75 545.91a0.8 0.8 0 1 0 1.6 0a0.8 0.8 0 1 0 -1.6 0M241.13 545.99a0.8 0.8 0 1 0 1.6 0a0.8 0.8 0 1 0 -1.6 0M241.51 546.08a0.8 0.8 0 1 0 1.6 0a0.8 0.8 0 1 0 -1.6 0M241.88 546.16a0.8 0.8 0 1 0 1.6 0a0.8 0.8 0 1 0 -1.6 0M242.26 546.23a0.8 0.8 0 1 0 1.6 0a0.8 0.8 0 1 0 -1.6 0M242.64 546.31a0.8 0.8 0 1 0 1.6 0a0.8 0.8 0 1 0 -1.6 0M243.02 546.38a0.8 0.8 0 1 0 1.6 0a0.8 0.8 0 1 0 -1.6 0M243.4 546.46a0.8 0.8 0 1 0 1.6 0a0.8 0.8 0 1 0 -1.6 0M243.77 546.53a0.8 0.8 0 1 0 1.6 0a0.8 0.8 0 1 0 -1.6 0M244.15 546.6a0.8 0.8 0 1 0 1.6 0a0.8 0.8 0 1 0 -1.6 0M244.53 546.66a0.8 0.8 0 1 0 1.6 0a0.8 0.8 0 1 0 -1.6 0M244.91 546.73a0.8 0.8 0 1 0 1.6 0a0.8 0.8 0 1 0 -1.6 0M245.29 546.79a0.8 0.8 0 1 0 1.6 0a0.8 0.8 0 1 0 -1.6 0M245.67 546.86a0.8 0.8 0 1 0 1.6 0a0.8 0.8 0 1 0 -1.6 0M246.04 546.92a0.8 0.8 0 1 0 1.6 0a0.8 0.8 0 1 0 -1.6 0M246.42 546.98a0.8 0.8 0 1 0 1.6 0a0.8 0.8 0 1 0 -1.6 0M246.8 547.04a0.8 0.8 0 1 0 1.6 0a0.8 0.8 0 1 0 -1.6 0M247.18 547.09a0.8 0.8 0 1 0 1.6 0a0.8 0.8 0 1 0 -1.6 0M247.56 547.15a0.8 0.8 0 1 0 1.6 0a0.8 0.8 0 1 0 -1.6 0M247.93 547.2a0.8 0.8 0 1 0 1.6 0a0.8 0.8 0 1 0 -1.6 0M248.31 547.26a0.8 0.8 0 1 0 1.6 0a0.8 0.8 0 1 0 -1.6 0M248.69 547.31a0.8 0.8 0 1 0 1.6 0a0.8 0.8 0 1 0 -1.6 0M249.07 547.36a0.8 0.8 0 1 0 1.6 0a0.8 0.8 0 1 0 -1.6 0M249.44 547.42a0.8 0.8 0 1 0 1.6 0a0.8 0.8 0 1 0 -1.6 0M249.82 547.47a0.8 0.8 0 1 0 1.6 0a0.8 0.8 0 1 0 -1.6 0M250.2 547.51a0.8 0.8 0 1 0 1.6 0a0.8 0.8 0 1 0 -1.6 0M250.58 547.56a0.8 0.8 0 1 0 1.6 0a0.8 0.8 0 1 0 -1.6 0M250.96 547.61a0.8 0.8 0 1 0 1.6 0a0.8 0.8 0 1 0 -1.6 0M251.33 547.66a0.8 0.8 0 1 0 1.6 0a0.8 0.8 0 1 0 -1.6 0M251.71 547.7a0.8 0.8 0 1 0 1.6 0a0.8 0.8 0 1 0 -1.6 0M252.09 547.75a0.8 0.8 0 1 0 1.6 0a0.8 0.8 0 1 0 -1.6 0M252.47 547.79a0.8 0.8 0 1 0 1.6 0a0.8 0.8 0 1 0 -1.6 0M252.85 547.83a0.8 0.8 0 1 0 1.6 0a0.8 0.8 0 1 0 -1.6 0M253.23 547.88a0.8 0.8 0 1 0 1.6 0a0.8 0.8 0 1 0 -1.6 0M253.6 547.92a0.8 0.8 0 1 0 1.6 0a0.8 0.8 0 1 0 -1.6 0M253.98 547.96a0.8 0.8 0 1 0 1.6 0a0.8 0.8 0 1 0 -1.6 0M254.36 548a0.8 0.8 0 1 0 1.6 0a0.8 0.8 0 1 0 -1.6 0M254.74 548.04a0.8 0.8 0 1 0 1.6 0a0.8 0.8 0 1 0 -1.6 0" fill="#d8f0d8" opacity="0.75"/>
<text x="141.6" y="515.3" font-size="10.6" text-anchor="start" fill="#262626" font-weight="normal" letter-spacing="0.4">Fall 0.393 s</text>
<line x1="203" y1="512" x2="217" y2="512" stroke="#000" stroke-width="1.1" />
<path d="M215.5 509.3 L221.5 512 L215.5 514.7 Z" fill="#000"/>
<text x="148.7" y="545.8" font-size="10.6" text-anchor="start" fill="#262626" font-weight="normal" letter-spacing="0.4">Rise 0.267 s</text>
<line x1="146.8" y1="540.5" x2="137.5" y2="531.3" stroke="#000" stroke-width="1.1" />
<path d="M134.3 528.3 L140.6 530.9 L137.0 534.1 Z" fill="#000"/>
<polygon points="344.8,326.8 354.1,309.9 435.6,296.4 455.2,298.2 458.5,347 360.4,338.8" fill="#9abcf7" stroke="#3a5fae" stroke-width="0.9" stroke-linejoin="round" fill-opacity="0.643"/>
<polyline points="354.1,309.9 354.1,320.6 435.6,308.4 455.9,309.8" fill="none" stroke="#4a6fbe" stroke-width="0.8"/>
<polyline points="354.1,320.6 349.5,330.4" fill="none" stroke="#4a6fbe" stroke-width="0.8"/>
<polyline points="435.6,296.4 435.6,308.4" fill="none" stroke="#4a6fbe" stroke-width="0.8"/>
<polygon points="360.4,338.8 458.5,347 458.5,359.3 360.4,350.9" fill="url(#gf)" stroke="#1f3a78" stroke-width="0.9" stroke-linejoin="round" />
<polygon points="344.8,326.8 360.4,338.8 360.4,350.9 344.8,339.2" fill="#2e4f8e" stroke="#1f3a78" stroke-width="0.9" stroke-linejoin="round" />
<polygon points="460.5,318.8 503.6,313.8 588.3,335.3 527.5,348.3 464.5,342.8" fill="#9abcf7" stroke="#3a5fae" stroke-width="0.9" stroke-linejoin="round" fill-opacity="0.643"/>
<polyline points="462.8,329.9 503.6,325.2" fill="none" stroke="#4a6fbe" stroke-width="0.7"/>
<polyline points="503.6,313.8 503.6,325.2" fill="none" stroke="#4a6fbe" stroke-width="0.7"/>
<polygon points="464.5,342.8 527.5,348.3 527.5,359.2 467.3,354.2" fill="url(#gf)" stroke="#1f3a78" stroke-width="0.9" stroke-linejoin="round" />
<polygon points="527.5,348.3 588.3,335.3 588.3,347.5 527.5,359.2" fill="#2e4f8e" stroke="#1f3a78" stroke-width="0.9" stroke-linejoin="round" />
<polygon points="419.7,317.8 477.2,298.2 563.3,305 563.3,322.9 500.8,333.7 430,327.5" fill="#9abcf7" stroke="#3a5fae" stroke-width="0.9" stroke-linejoin="round" fill-opacity="0.643"/>
<polyline points="430,327.5 477.2,310.5 563.3,316.2" fill="none" stroke="#4a6fbe" stroke-width="0.8"/>
<polygon points="460.5,318.8 503.6,313.8 548.3,325.5 500.8,333.7 462.8,330" fill="#5f88d8" stroke="none" stroke-width="0" stroke-linejoin="round" fill-opacity="0.12"/>
<polyline points="455.2,298.2 456.6,330.5" fill="none" stroke="#4a6fbe" stroke-width="0.9"/>
<polyline points="477.2,298.2 477.2,310.5" fill="none" stroke="#4a6fbe" stroke-width="0.8"/>
<polygon points="430,327.5 500.8,333.7 500.8,344.6 430,338.6" fill="url(#gf)" stroke="#1f3a78" stroke-width="0.9" stroke-linejoin="round" />
<polygon points="419.7,317.8 430,327.5 430,338.6 419.7,326.5" fill="#2e4f8e" stroke="#1f3a78" stroke-width="0.9" stroke-linejoin="round" />
<polygon points="500.8,333.7 563.3,322.9 563.3,334.4 500.8,344.6" fill="#1d2b4d" stroke="#182440" stroke-width="0.9" stroke-linejoin="round" />
<line x1="429" y1="290" x2="402.8" y2="324.2" stroke="#000" stroke-width="2.6" />
<path d="M351.2 424.5 L472.6 336.4 L494.2 336.4 L579.8 428" fill="none" stroke="#ff1010" stroke-width="2" stroke-dasharray="5 2.4" stroke-linejoin="round"/>
<path d="M473.4 339.5 L473.4 349.5 Q473.4 350.6 474.5 350.6 L494.3 350.6 Q495.4 350.6 495.4 349.5 L495.4 339.5" fill="none" stroke="#ff1010" stroke-width="2" stroke-dasharray="4.5 2.4" stroke-dashoffset="2"/>
<text transform="translate(401.6,282) scale(1.03,1)" x="0" y="0" font-size="17" font-weight="bold" fill="#000">h-BN nanosheet</text>
<text transform="translate(414.6,434.6) scale(1.03,1)" x="0" y="0" font-size="17" font-weight="bold" fill="#000">Junction interface</text>
<line x1="489.3" y1="451.7" x2="489.3" y2="635.5" stroke="#000" stroke-width="1.6" stroke-dasharray="3.6 2"/>
<text transform="translate(441.9,476.9) scale(1.05,1)" x="0" y="0" font-size="15" font-weight="bold" fill="#000">h-BN</text>
<text transform="translate(500.6,476.9) scale(1.05,1)" x="0" y="0" font-size="15" font-weight="bold" fill="#000">h-BN</text>
<line x1="338.3" y1="499.3" x2="368.3" y2="499.3" stroke="#ff0000" stroke-width="2.6" />
<line x1="338.3" y1="521.7" x2="368.3" y2="521.7" stroke="#000" stroke-width="2.6" />
<text transform="translate(374.6,505) scale(1.055,1)" x="0" y="0" font-size="17" font-weight="bold" fill="#ff0000">DUV on</text>
<text transform="translate(374.6,526.7) scale(1.05,1)" x="0" y="0" font-size="17" font-weight="bold" fill="#000">DUV off</text>
<text transform="translate(382.6,562.2) scale(0.98,1)" x="0" y="0" font-size="16" font-weight="bold" fill="#000">CB</text>
<text transform="translate(383.6,630.2) scale(1.0,1)" x="0" y="0" font-size="16" font-weight="bold" fill="#000">VB</text>
<polyline points="410,558.5 433.3,558.5 434.69,558.48 436.06,558.47 437.42,558.45 438.76,558.44 440.08,558.42 441.38,558.4 442.67,558.37 443.94,558.33 445.19,558.28 446.43,558.22 447.64,558.16 448.84,558.1 450.02,558.03 451.19,557.95 452.33,557.88 453.46,557.8 454.57,557.72 455.67,557.63 456.74,557.53 457.8,557.42 458.84,557.31 459.87,557.19 460.87,557.06 461.86,556.94 462.83,556.81 463.79,556.68 464.72,556.54 465.64,556.41 466.54,556.28 467.43,556.15 468.29,556.02 469.14,555.88 469.97,555.73 470.79,555.58 471.58,555.43 472.36,555.28 473.12,555.12 473.87,554.97 474.59,554.83 475.3,554.68 475.99,554.54 476.67,554.41 477.32,554.28 477.96,554.15 478.58,554.03 479.19,553.9 479.77,553.76 480.34,553.62 480.89,553.46 481.43,553.31 481.94,553.14 482.44,552.97 482.92,552.79 483.38,552.61 483.83,552.41 484.26,552.2 484.67,551.97 485.06,551.73 485.44,551.48 485.8,551.22 486.14,550.97 486.47,550.73 486.77,550.49 487.06,550.26 487.33,550.04 487.59,549.84 487.82,549.65 488.04,549.46 488.24,549.28 488.43,549.11 488.59,548.96 488.74,548.82 488.87,548.69 488.99,548.59 489.08,548.5 489.16,548.43 489.22,548.37 489.26,548.33 489.29,548.31 489.3,548.3 489.31,548.31 489.34,548.33 489.38,548.37 489.44,548.43 489.52,548.5 489.62,548.59 489.73,548.69 489.86,548.82 490.01,548.96 490.18,549.11 490.36,549.28 490.56,549.46 490.78,549.65 491.01,549.84 491.27,550.04 491.54,550.26 491.83,550.49 492.13,550.73 492.46,550.97 492.8,551.22 493.16,551.48 493.54,551.73 493.93,551.97 494.34,552.2 494.77,552.41 495.22,552.61 495.68,552.79 496.16,552.97 496.66,553.14 497.18,553.31 497.71,553.46 498.26,553.62 498.83,553.76 499.42,553.9 500.02,554.03 500.64,554.15 501.28,554.28 501.94,554.41 502.61,554.54 503.3,554.68 504.01,554.83 504.74,554.97 505.48,555.12 506.24,555.28 507.02,555.43 507.81,555.58 508.63,555.73 509.46,555.88 510.31,556.02 511.18,556.15 512.06,556.28 512.96,556.41 513.88,556.54 514.82,556.68 515.77,556.81 516.74,556.94 517.73,557.06 518.74,557.19 519.76,557.31 520.8,557.42 521.86,557.53 522.94,557.63 524.03,557.72 525.14,557.8 526.27,557.88 527.41,557.95 528.58,558.03 529.76,558.1 530.96,558.16 532.17,558.22 533.41,558.28 534.66,558.33 535.93,558.37 537.22,558.4 538.52,558.42 539.84,558.44 541.18,558.45 542.53,558.47 543.91,558.48 545.3,558.5 569.5,558.5" fill="none" stroke="#ff0000" stroke-width="2.6" stroke-linejoin="round"/>
<polyline points="410,557 445.3,557 446.39,556.94 447.47,556.89 448.54,556.82 449.59,556.71 450.63,556.54 451.65,556.32 452.66,556.06 453.66,555.76 454.64,555.43 455.61,555.09 456.57,554.73 457.51,554.37 458.44,554 459.35,553.6 460.25,553.16 461.14,552.68 462.01,552.16 462.87,551.63 463.72,551.08 464.55,550.51 465.37,549.95 466.17,549.38 466.96,548.81 467.74,548.26 468.5,547.7 469.25,547.14 469.99,546.58 470.71,546.01 471.42,545.44 472.11,544.85 472.79,544.26 473.46,543.66 474.11,543.05 474.75,542.43 475.38,541.8 475.99,541.16 476.59,540.51 477.17,539.84 477.74,539.15 478.3,538.42 478.84,537.68 479.37,536.92 479.89,536.14 480.39,535.35 480.88,534.54 481.35,533.74 481.81,532.93 482.26,532.11 482.69,531.28 483.11,530.44 483.52,529.6 483.91,528.74 484.29,527.88 484.65,527.01 485,526.14 485.34,525.26 485.66,524.38 485.97,523.51 486.27,522.63 486.55,521.75 486.82,520.85 487.07,519.94 487.31,519.02 487.54,518.09 487.75,517.15 487.95,516.22 488.14,515.3 488.31,514.31 488.47,513.26 488.61,512.22 488.74,511.23 488.86,510.33 488.96,509.53 489.05,508.84 489.13,508.26 489.19,507.8 489.24,507.44 489.27,507.2 489.29,507.05 489.3,507 489.31,507.05 489.33,507.2 489.36,507.44 489.41,507.8 489.47,508.26 489.55,508.84 489.64,509.53 489.74,510.33 489.86,511.23 489.99,512.22 490.13,513.26 490.29,514.31 490.46,515.3 490.65,516.22 490.85,517.15 491.06,518.09 491.29,519.02 491.53,519.94 491.78,520.85 492.05,521.75 492.33,522.63 492.63,523.51 492.94,524.38 493.26,525.26 493.6,526.14 493.95,527.01 494.31,527.88 494.69,528.74 495.08,529.6 495.49,530.44 495.91,531.28 496.34,532.11 496.79,532.93 497.25,533.74 497.72,534.54 498.21,535.35 498.71,536.14 499.23,536.92 499.76,537.68 500.3,538.42 500.86,539.15 501.43,539.84 502.01,540.51 502.61,541.16 503.22,541.8 503.85,542.43 504.49,543.05 505.14,543.66 505.81,544.26 506.49,544.85 507.18,545.44 507.89,546.01 508.61,546.58 509.35,547.14 510.1,547.7 510.86,548.26 511.64,548.81 512.43,549.38 513.23,549.95 514.05,550.51 514.88,551.08 515.73,551.63 516.59,552.16 517.46,552.68 518.35,553.16 519.25,553.6 520.16,554 521.09,554.37 522.03,554.73 522.99,555.09 523.96,555.43 524.94,555.76 525.94,556.06 526.95,556.32 527.97,556.54 529.01,556.71 530.06,556.82 531.13,556.89 532.21,556.94 533.3,557 569.5,557" fill="none" stroke="#000" stroke-width="2.6" stroke-linejoin="round"/>
<polyline points="410,626.9 433.3,626.9 434.69,626.89 436.06,626.87 437.42,626.86 438.76,626.85 440.08,626.83 441.38,626.81 442.67,626.79 443.94,626.76 445.19,626.72 446.43,626.67 447.64,626.62 448.84,626.57 450.02,626.51 451.19,626.45 452.33,626.39 453.46,626.33 454.57,626.26 455.67,626.18 456.74,626.1 457.8,626.01 458.84,625.92 459.87,625.82 460.87,625.72 461.86,625.61 462.83,625.51 463.79,625.4 464.72,625.29 465.64,625.18 466.54,625.07 467.43,624.96 468.29,624.85 469.14,624.74 469.97,624.62 470.79,624.5 471.58,624.37 472.36,624.25 473.12,624.12 473.87,624 474.59,623.88 475.3,623.76 475.99,623.64 476.67,623.53 477.32,623.42 477.96,623.32 478.58,623.22 479.19,623.11 479.77,623 480.34,622.88 480.89,622.75 481.43,622.62 481.94,622.49 482.44,622.35 482.92,622.2 483.38,622.05 483.83,621.89 484.26,621.71 484.67,621.53 485.06,621.33 485.44,621.12 485.8,620.91 486.14,620.7 486.47,620.5 486.77,620.3 487.06,620.11 487.33,619.94 487.59,619.77 487.82,619.61 488.04,619.46 488.24,619.31 488.43,619.17 488.59,619.04 488.74,618.93 488.87,618.82 488.99,618.74 489.08,618.66 489.16,618.6 489.22,618.56 489.26,618.53 489.29,618.51 489.3,618.5 489.31,618.51 489.34,618.53 489.38,618.56 489.44,618.6 489.52,618.66 489.62,618.74 489.73,618.82 489.86,618.93 490.01,619.04 490.18,619.17 490.36,619.31 490.56,619.46 490.78,619.61 491.01,619.77 491.27,619.94 491.54,620.11 491.83,620.3 492.13,620.5 492.46,620.7 492.8,620.91 493.16,621.12 493.54,621.33 493.93,621.53 494.34,621.71 494.77,621.89 495.22,622.05 495.68,622.2 496.16,622.35 496.66,622.49 497.18,622.62 497.71,622.75 498.26,622.88 498.83,623 499.42,623.11 500.02,623.22 500.64,623.32 501.28,623.42 501.94,623.53 502.61,623.64 503.3,623.76 504.01,623.88 504.74,624 505.48,624.12 506.24,624.25 507.02,624.37 507.81,624.5 508.63,624.62 509.46,624.74 510.31,624.85 511.18,624.96 512.06,625.07 512.96,625.18 513.88,625.29 514.82,625.4 515.77,625.51 516.74,625.61 517.73,625.72 518.74,625.82 519.76,625.92 520.8,626.01 521.86,626.1 522.94,626.18 524.03,626.26 525.14,626.33 526.27,626.39 527.41,626.45 528.58,626.51 529.76,626.57 530.96,626.62 532.17,626.67 533.41,626.72 534.66,626.76 535.93,626.79 537.22,626.81 538.52,626.83 539.84,626.85 541.18,626.86 542.53,626.87 543.91,626.89 545.3,626.9 569.5,626.9" fill="none" stroke="#ff0000" stroke-width="2.6" stroke-linejoin="round"/>
<polyline points="410,625.3 445.3,625.3 446.39,625.25 447.47,625.19 448.54,625.12 449.59,625.02 450.63,624.85 451.65,624.63 452.66,624.37 453.66,624.07 454.64,623.75 455.61,623.41 456.57,623.06 457.51,622.71 458.44,622.35 459.35,621.95 460.25,621.51 461.14,621.04 462.01,620.53 462.87,620 463.72,619.46 464.55,618.9 465.37,618.34 466.17,617.78 466.96,617.23 467.74,616.68 468.5,616.13 469.25,615.58 469.99,615.02 470.71,614.46 471.42,613.9 472.11,613.32 472.79,612.74 473.46,612.15 474.11,611.55 474.75,610.93 475.38,610.31 475.99,609.68 476.59,609.04 477.17,608.38 477.74,607.7 478.3,606.98 478.84,606.25 479.37,605.5 479.89,604.73 480.39,603.95 480.88,603.16 481.35,602.36 481.81,601.56 482.26,600.75 482.69,599.94 483.11,599.11 483.52,598.28 483.91,597.44 484.29,596.59 484.65,595.73 485,594.87 485.34,594 485.66,593.14 485.97,592.28 486.27,591.41 486.55,590.54 486.82,589.65 487.07,588.76 487.31,587.85 487.54,586.93 487.75,586.01 487.95,585.1 488.14,584.19 488.31,583.2 488.47,582.17 488.61,581.14 488.74,580.17 488.86,579.28 488.96,578.49 489.05,577.81 489.13,577.24 489.19,576.79 489.24,576.44 489.27,576.19 489.29,576.05 489.3,576 489.31,576.05 489.33,576.19 489.36,576.44 489.41,576.79 489.47,577.24 489.55,577.81 489.64,578.49 489.74,579.28 489.86,580.17 489.99,581.14 490.13,582.17 490.29,583.2 490.46,584.19 490.65,585.1 490.85,586.01 491.06,586.93 491.29,587.85 491.53,588.76 491.78,589.65 492.05,590.54 492.33,591.41 492.63,592.28 492.94,593.14 493.26,594 493.6,594.87 493.95,595.73 494.31,596.59 494.69,597.44 495.08,598.28 495.49,599.11 495.91,599.94 496.34,600.75 496.79,601.56 497.25,602.36 497.72,603.16 498.21,603.95 498.71,604.73 499.23,605.5 499.76,606.25 500.3,606.98 500.86,607.7 501.43,608.38 502.01,609.04 502.61,609.68 503.22,610.31 503.85,610.93 504.49,611.55 505.14,612.15 505.81,612.74 506.49,613.32 507.18,613.9 507.89,614.46 508.61,615.02 509.35,615.58 510.1,616.13 510.86,616.68 511.64,617.23 512.43,617.78 513.23,618.34 514.05,618.9 514.88,619.46 515.73,620 516.59,620.53 517.46,621.04 518.35,621.51 519.25,621.95 520.16,622.35 521.09,622.71 522.03,623.06 522.99,623.41 523.96,623.75 524.94,624.07 525.94,624.37 526.95,624.63 527.97,624.85 529.01,625.02 530.06,625.12 531.13,625.19 532.21,625.25 533.3,625.3 569.5,625.3" fill="none" stroke="#000" stroke-width="2.6" stroke-linejoin="round"/>
</svg></body></html>
